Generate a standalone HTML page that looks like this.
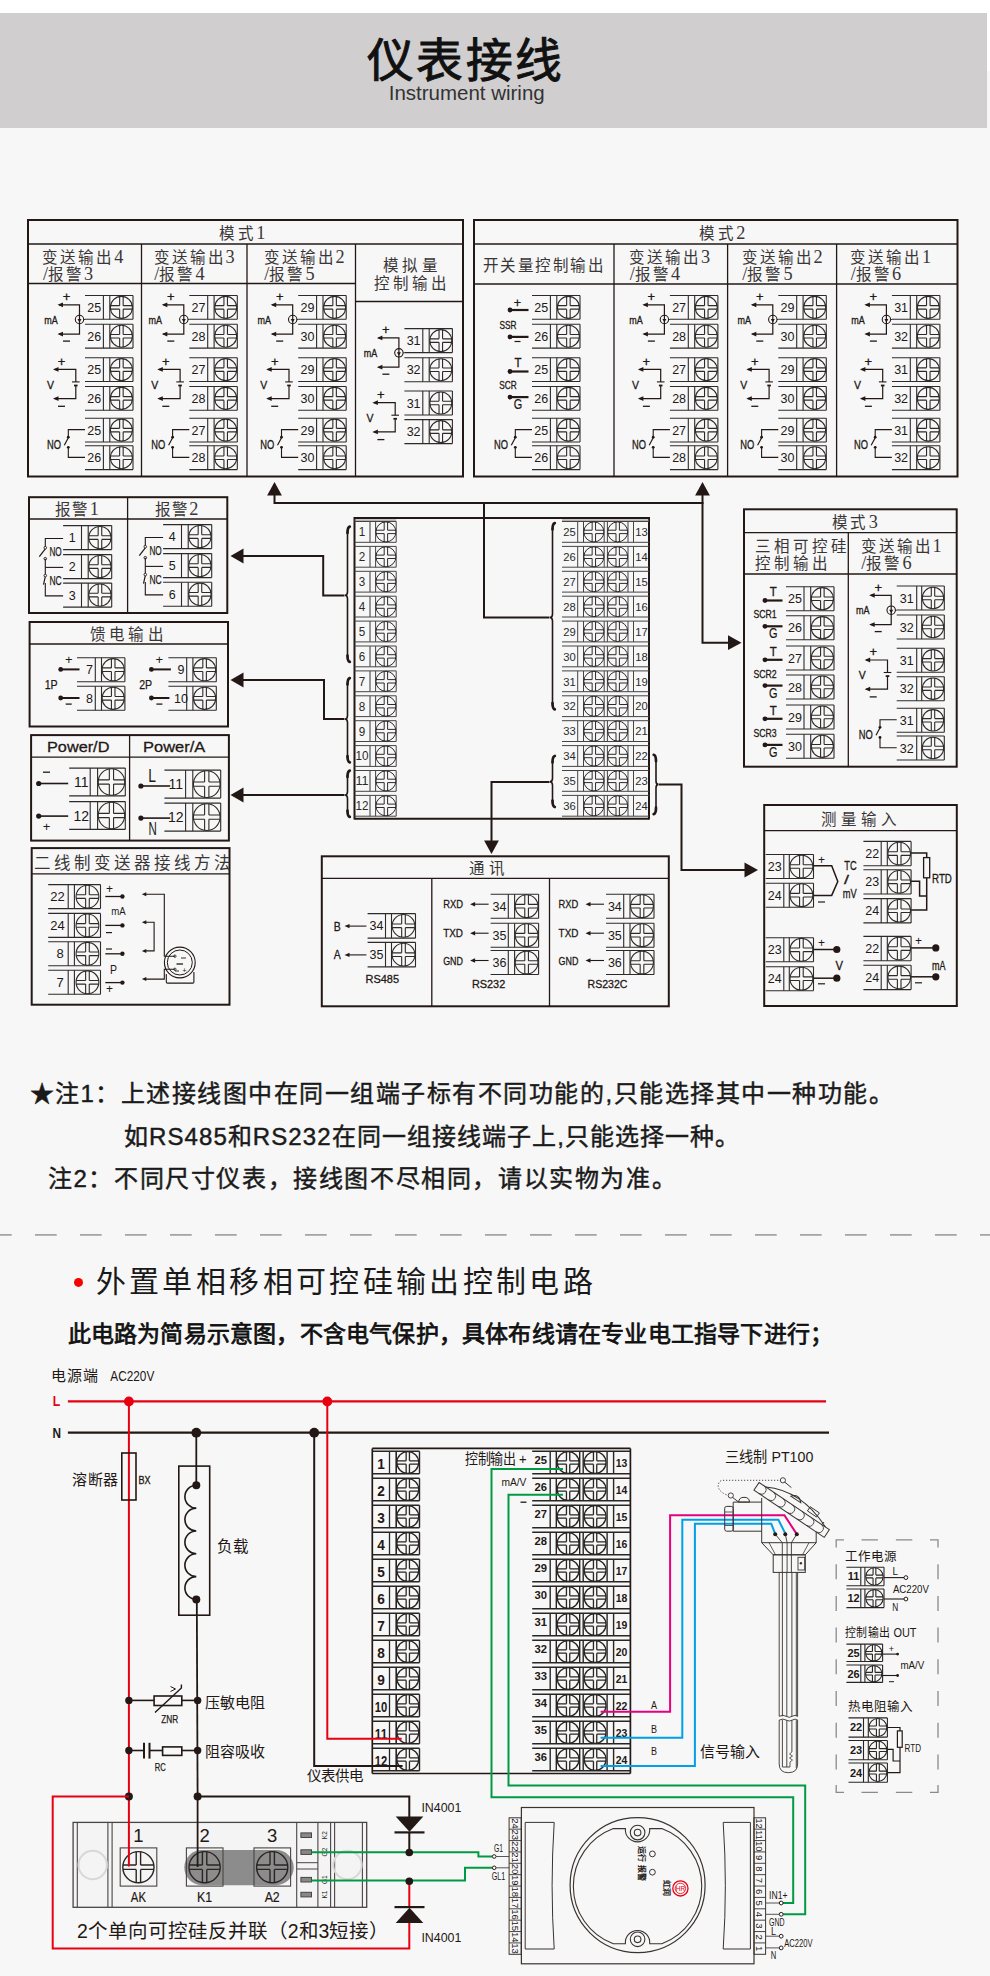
<!DOCTYPE html>
<html lang="zh-CN"><head><meta charset="utf-8"><title>仪表接线</title>
<style>
html,body{margin:0;padding:0;}
body{width:990px;height:1976px;background:#f7f7f7;position:relative;overflow:hidden;font-family:'Liberation Sans',sans-serif;}
svg{position:absolute;left:0;top:0;}
</style></head>
<body>
<svg width="990" height="1976" viewBox="0 0 990 1976">
<rect x="0" y="0" width="990" height="13" fill="#ffffff"/>
<rect x="987" y="0" width="3" height="71" fill="#ffffff"/>
<rect x="0" y="13" width="987" height="115" fill="#d0cecf"/>
<text x="465.8" y="76.7" font-size="46.7" text-anchor="middle" font-weight="500" letter-spacing="2.4" fill="#111111" style="font-family:'Liberation Sans',sans-serif" stroke="#111111" stroke-width="1">仪表接线</text>
<text x="466.7" y="99.5" font-size="20" text-anchor="middle" textLength="156" lengthAdjust="spacingAndGlyphs" fill="#333333" style="font-family:'Liberation Sans',sans-serif">Instrument wiring</text>
<rect x="28" y="220" width="435" height="256.5" fill="none" stroke="#231815" stroke-width="2"/>
<line x1="28" y1="244" x2="463" y2="244" stroke="#231815" stroke-width="1.3"/>
<line x1="28" y1="283.5" x2="355.5" y2="283.5" stroke="#231815" stroke-width="1.3"/>
<line x1="355.5" y1="301.5" x2="463" y2="301.5" stroke="#231815" stroke-width="1.3"/>
<line x1="141.5" y1="244" x2="141.5" y2="476.5" stroke="#231815" stroke-width="1.3"/>
<line x1="247" y1="244" x2="247" y2="476.5" stroke="#231815" stroke-width="1.3"/>
<line x1="355.5" y1="244" x2="355.5" y2="476.5" stroke="#231815" stroke-width="1.3"/>
<text x="242.4" y="239" font-size="15.5" text-anchor="middle" font-weight="300" letter-spacing="2.4" fill="#3a3636" style="font-family:'Liberation Serif',serif">模式<tspan font-size="18.29" letter-spacing="0">1</tspan></text>
<text x="42.2" y="262.5" font-size="15.5" font-weight="300" letter-spacing="2" fill="#3a3636" style="font-family:'Liberation Serif',serif">变送输出<tspan font-size="18.29" letter-spacing="0">4</tspan></text>
<text x="43" y="279.5" font-size="15.5" font-weight="300" letter-spacing="2" fill="#3a3636" style="font-family:'Liberation Serif',serif"><tspan font-size="18.29" letter-spacing="0">/</tspan>报警<tspan font-size="18.29" letter-spacing="0">3</tspan></text>
<text x="153.5" y="262.5" font-size="15.5" font-weight="300" letter-spacing="2" fill="#3a3636" style="font-family:'Liberation Serif',serif">变送输出<tspan font-size="18.29" letter-spacing="0">3</tspan></text>
<text x="154.3" y="279.5" font-size="15.5" font-weight="300" letter-spacing="2" fill="#3a3636" style="font-family:'Liberation Serif',serif"><tspan font-size="18.29" letter-spacing="0">/</tspan>报警<tspan font-size="18.29" letter-spacing="0">4</tspan></text>
<text x="263.5" y="262.5" font-size="15.5" font-weight="300" letter-spacing="2" fill="#3a3636" style="font-family:'Liberation Serif',serif">变送输出<tspan font-size="18.29" letter-spacing="0">2</tspan></text>
<text x="264.3" y="279.5" font-size="15.5" font-weight="300" letter-spacing="2" fill="#3a3636" style="font-family:'Liberation Serif',serif"><tspan font-size="18.29" letter-spacing="0">/</tspan>报警<tspan font-size="18.29" letter-spacing="0">5</tspan></text>
<text x="383" y="271.3" font-size="15.5" font-weight="300" letter-spacing="3.4" fill="#3a3636" style="font-family:'Liberation Serif',serif">模拟量</text>
<text x="373.6" y="288.6" font-size="15.5" font-weight="300" letter-spacing="3" fill="#3a3636" style="font-family:'Liberation Serif',serif">控制输出</text>
<line x1="85" y1="295.5" x2="133" y2="295.5" stroke="#2e2a29" stroke-width="1.1"/>
<line x1="85" y1="319.3" x2="133" y2="319.3" stroke="#2e2a29" stroke-width="1.1"/>
<line x1="103.4" y1="295.5" x2="103.4" y2="319.3" stroke="#2e2a29" stroke-width="1.1"/>
<line x1="109.8" y1="295.5" x2="109.8" y2="319.3" stroke="#2e2a29" stroke-width="1.1"/>
<line x1="133" y1="295.5" x2="133" y2="319.3" stroke="#2e2a29" stroke-width="1.1"/>
<circle cx="121.4" cy="307.4" r="11" fill="none" stroke="#2e2a29" stroke-width="1.1"/>
<path d="M119.64,296.54V305.64M119.64,309.16V318.26M123.16,296.54V305.64M123.16,309.16V318.26M110.54,305.64H119.64M123.16,305.64H132.26M110.54,309.16H119.64M123.16,309.16H132.26" fill="none" stroke="#2e2a29" stroke-width="1.1"/>
<text x="94.2" y="311.9" font-size="12.5" text-anchor="middle" fill="#231815" style="font-family:'Liberation Sans',sans-serif">25</text>
<line x1="85" y1="324.3" x2="133" y2="324.3" stroke="#2e2a29" stroke-width="1.1"/>
<line x1="85" y1="348.1" x2="133" y2="348.1" stroke="#2e2a29" stroke-width="1.1"/>
<line x1="103.4" y1="324.3" x2="103.4" y2="348.1" stroke="#2e2a29" stroke-width="1.1"/>
<line x1="109.8" y1="324.3" x2="109.8" y2="348.1" stroke="#2e2a29" stroke-width="1.1"/>
<line x1="133" y1="324.3" x2="133" y2="348.1" stroke="#2e2a29" stroke-width="1.1"/>
<circle cx="121.4" cy="336.2" r="11" fill="none" stroke="#2e2a29" stroke-width="1.1"/>
<path d="M119.64,325.34V334.44M119.64,337.96V347.06M123.16,325.34V334.44M123.16,337.96V347.06M110.54,334.44H119.64M123.16,334.44H132.26M110.54,337.96H119.64M123.16,337.96H132.26" fill="none" stroke="#2e2a29" stroke-width="1.1"/>
<text x="94.2" y="340.7" font-size="12.5" text-anchor="middle" fill="#231815" style="font-family:'Liberation Sans',sans-serif">26</text>
<line x1="85" y1="357.7" x2="133" y2="357.7" stroke="#2e2a29" stroke-width="1.1"/>
<line x1="85" y1="381.5" x2="133" y2="381.5" stroke="#2e2a29" stroke-width="1.1"/>
<line x1="103.4" y1="357.7" x2="103.4" y2="381.5" stroke="#2e2a29" stroke-width="1.1"/>
<line x1="109.8" y1="357.7" x2="109.8" y2="381.5" stroke="#2e2a29" stroke-width="1.1"/>
<line x1="133" y1="357.7" x2="133" y2="381.5" stroke="#2e2a29" stroke-width="1.1"/>
<circle cx="121.4" cy="369.6" r="11" fill="none" stroke="#2e2a29" stroke-width="1.1"/>
<path d="M119.64,358.74V367.84M119.64,371.36V380.46M123.16,358.74V367.84M123.16,371.36V380.46M110.54,367.84H119.64M123.16,367.84H132.26M110.54,371.36H119.64M123.16,371.36H132.26" fill="none" stroke="#2e2a29" stroke-width="1.1"/>
<text x="94.2" y="374.1" font-size="12.5" text-anchor="middle" fill="#231815" style="font-family:'Liberation Sans',sans-serif">25</text>
<line x1="85" y1="386.5" x2="133" y2="386.5" stroke="#2e2a29" stroke-width="1.1"/>
<line x1="85" y1="410.3" x2="133" y2="410.3" stroke="#2e2a29" stroke-width="1.1"/>
<line x1="103.4" y1="386.5" x2="103.4" y2="410.3" stroke="#2e2a29" stroke-width="1.1"/>
<line x1="109.8" y1="386.5" x2="109.8" y2="410.3" stroke="#2e2a29" stroke-width="1.1"/>
<line x1="133" y1="386.5" x2="133" y2="410.3" stroke="#2e2a29" stroke-width="1.1"/>
<circle cx="121.4" cy="398.4" r="11" fill="none" stroke="#2e2a29" stroke-width="1.1"/>
<path d="M119.64,387.54V396.64M119.64,400.16V409.26M123.16,387.54V396.64M123.16,400.16V409.26M110.54,396.64H119.64M123.16,396.64H132.26M110.54,400.16H119.64M123.16,400.16H132.26" fill="none" stroke="#2e2a29" stroke-width="1.1"/>
<text x="94.2" y="402.9" font-size="12.5" text-anchor="middle" fill="#231815" style="font-family:'Liberation Sans',sans-serif">26</text>
<line x1="85" y1="418.2" x2="133" y2="418.2" stroke="#2e2a29" stroke-width="1.1"/>
<line x1="85" y1="442" x2="133" y2="442" stroke="#2e2a29" stroke-width="1.1"/>
<line x1="103.4" y1="418.2" x2="103.4" y2="442" stroke="#2e2a29" stroke-width="1.1"/>
<line x1="109.8" y1="418.2" x2="109.8" y2="442" stroke="#2e2a29" stroke-width="1.1"/>
<line x1="133" y1="418.2" x2="133" y2="442" stroke="#2e2a29" stroke-width="1.1"/>
<circle cx="121.4" cy="430.1" r="11" fill="none" stroke="#2e2a29" stroke-width="1.1"/>
<path d="M119.64,419.24V428.34M119.64,431.86V440.96M123.16,419.24V428.34M123.16,431.86V440.96M110.54,428.34H119.64M123.16,428.34H132.26M110.54,431.86H119.64M123.16,431.86H132.26" fill="none" stroke="#2e2a29" stroke-width="1.1"/>
<text x="94.2" y="434.6" font-size="12.5" text-anchor="middle" fill="#231815" style="font-family:'Liberation Sans',sans-serif">25</text>
<line x1="85" y1="445.8" x2="133" y2="445.8" stroke="#2e2a29" stroke-width="1.1"/>
<line x1="85" y1="469.6" x2="133" y2="469.6" stroke="#2e2a29" stroke-width="1.1"/>
<line x1="103.4" y1="445.8" x2="103.4" y2="469.6" stroke="#2e2a29" stroke-width="1.1"/>
<line x1="109.8" y1="445.8" x2="109.8" y2="469.6" stroke="#2e2a29" stroke-width="1.1"/>
<line x1="133" y1="445.8" x2="133" y2="469.6" stroke="#2e2a29" stroke-width="1.1"/>
<circle cx="121.4" cy="457.7" r="11" fill="none" stroke="#2e2a29" stroke-width="1.1"/>
<path d="M119.64,446.84V455.94M119.64,459.46V468.56M123.16,446.84V455.94M123.16,459.46V468.56M110.54,455.94H119.64M123.16,455.94H132.26M110.54,459.46H119.64M123.16,459.46H132.26" fill="none" stroke="#2e2a29" stroke-width="1.1"/>
<text x="94.2" y="462.2" font-size="12.5" text-anchor="middle" fill="#231815" style="font-family:'Liberation Sans',sans-serif">26</text>
<polyline points="59,304.8 79.5,304.8 79.5,334.1 59,334.1" fill="none" stroke="#231815" stroke-width="1.2"/>
<polygon points="57.5,304.8 63,302.4 63,307.2" fill="#231815" stroke="none" stroke-width="1"/>
<polygon points="57.5,334.1 63,331.7 63,336.5" fill="#231815" stroke="none" stroke-width="1"/>
<circle cx="79.5" cy="319.5" r="4.2" fill="none" stroke="#231815" stroke-width="1.1"/>
<polygon points="79.5,322.5 77.5,319 81.5,319" fill="#231815" stroke="none" stroke-width="1"/>
<line x1="83.7" y1="319.5" x2="85" y2="319.5" stroke="#2e2a29" stroke-width="1.1"/>
<text x="66.5" y="301" font-size="13" text-anchor="middle" fill="#231815" style="font-family:'Liberation Sans',sans-serif" stroke="#231815" stroke-width="0.3">+</text>
<line x1="63" y1="341.1" x2="70" y2="341.1" stroke="#231815" stroke-width="1.3"/>
<text x="51" y="323.5" font-size="10.5" text-anchor="middle" textLength="13.5" lengthAdjust="spacingAndGlyphs" fill="#231815" style="font-family:'Liberation Sans',sans-serif" stroke="#231815" stroke-width="0.3">mA</text>
<polyline points="54.5,369.4 75.8,369.4 75.8,381.9" fill="none" stroke="#231815" stroke-width="1.2"/>
<polyline points="75.8,385.9 75.8,398.6 54.5,398.6" fill="none" stroke="#231815" stroke-width="1.2"/>
<polygon points="53,369.4 58.5,367 58.5,371.8" fill="#231815" stroke="none" stroke-width="1"/>
<polygon points="53,398.6 58.5,396.2 58.5,401" fill="#231815" stroke="none" stroke-width="1"/>
<line x1="72" y1="381.9" x2="79.6" y2="381.9" stroke="#231815" stroke-width="1.1"/>
<line x1="74" y1="385.5" x2="77.6" y2="385.5" stroke="#231815" stroke-width="1.8"/>
<text x="61.5" y="365.7" font-size="13" text-anchor="middle" fill="#231815" style="font-family:'Liberation Sans',sans-serif" stroke="#231815" stroke-width="0.3">+</text>
<line x1="58" y1="406.3" x2="65" y2="406.3" stroke="#231815" stroke-width="1.3"/>
<text x="50.5" y="388.7" font-size="11.5" text-anchor="middle" textLength="7" lengthAdjust="spacingAndGlyphs" fill="#231815" style="font-family:'Liberation Sans',sans-serif" stroke="#231815" stroke-width="0.3">V</text>
<polyline points="85,429.6 68.3,429.6 68.3,437.2" fill="none" stroke="#231815" stroke-width="1.1"/>
<circle cx="68.3" cy="437.2" r="1.4" fill="#231815"/>
<line x1="64.3" y1="445.2" x2="68.3" y2="437.7" stroke="#231815" stroke-width="1.2"/>
<circle cx="68.3" cy="447.3" r="1.4" fill="#231815"/>
<polyline points="68.3,447.3 68.3,457.4 85,457.4" fill="none" stroke="#231815" stroke-width="1.1"/>
<text x="54" y="448.8" font-size="12" text-anchor="middle" textLength="14" lengthAdjust="spacingAndGlyphs" fill="#231815" style="font-family:'Liberation Sans',sans-serif" stroke="#231815" stroke-width="0.3">NO</text>
<line x1="189.3" y1="295.5" x2="237.3" y2="295.5" stroke="#2e2a29" stroke-width="1.1"/>
<line x1="189.3" y1="319.3" x2="237.3" y2="319.3" stroke="#2e2a29" stroke-width="1.1"/>
<line x1="207.7" y1="295.5" x2="207.7" y2="319.3" stroke="#2e2a29" stroke-width="1.1"/>
<line x1="214.1" y1="295.5" x2="214.1" y2="319.3" stroke="#2e2a29" stroke-width="1.1"/>
<line x1="237.3" y1="295.5" x2="237.3" y2="319.3" stroke="#2e2a29" stroke-width="1.1"/>
<circle cx="225.7" cy="307.4" r="11" fill="none" stroke="#2e2a29" stroke-width="1.1"/>
<path d="M223.94,296.54V305.64M223.94,309.16V318.26M227.46,296.54V305.64M227.46,309.16V318.26M214.84,305.64H223.94M227.46,305.64H236.56M214.84,309.16H223.94M227.46,309.16H236.56" fill="none" stroke="#2e2a29" stroke-width="1.1"/>
<text x="198.5" y="311.9" font-size="12.5" text-anchor="middle" fill="#231815" style="font-family:'Liberation Sans',sans-serif">27</text>
<line x1="189.3" y1="324.3" x2="237.3" y2="324.3" stroke="#2e2a29" stroke-width="1.1"/>
<line x1="189.3" y1="348.1" x2="237.3" y2="348.1" stroke="#2e2a29" stroke-width="1.1"/>
<line x1="207.7" y1="324.3" x2="207.7" y2="348.1" stroke="#2e2a29" stroke-width="1.1"/>
<line x1="214.1" y1="324.3" x2="214.1" y2="348.1" stroke="#2e2a29" stroke-width="1.1"/>
<line x1="237.3" y1="324.3" x2="237.3" y2="348.1" stroke="#2e2a29" stroke-width="1.1"/>
<circle cx="225.7" cy="336.2" r="11" fill="none" stroke="#2e2a29" stroke-width="1.1"/>
<path d="M223.94,325.34V334.44M223.94,337.96V347.06M227.46,325.34V334.44M227.46,337.96V347.06M214.84,334.44H223.94M227.46,334.44H236.56M214.84,337.96H223.94M227.46,337.96H236.56" fill="none" stroke="#2e2a29" stroke-width="1.1"/>
<text x="198.5" y="340.7" font-size="12.5" text-anchor="middle" fill="#231815" style="font-family:'Liberation Sans',sans-serif">28</text>
<line x1="189.3" y1="357.7" x2="237.3" y2="357.7" stroke="#2e2a29" stroke-width="1.1"/>
<line x1="189.3" y1="381.5" x2="237.3" y2="381.5" stroke="#2e2a29" stroke-width="1.1"/>
<line x1="207.7" y1="357.7" x2="207.7" y2="381.5" stroke="#2e2a29" stroke-width="1.1"/>
<line x1="214.1" y1="357.7" x2="214.1" y2="381.5" stroke="#2e2a29" stroke-width="1.1"/>
<line x1="237.3" y1="357.7" x2="237.3" y2="381.5" stroke="#2e2a29" stroke-width="1.1"/>
<circle cx="225.7" cy="369.6" r="11" fill="none" stroke="#2e2a29" stroke-width="1.1"/>
<path d="M223.94,358.74V367.84M223.94,371.36V380.46M227.46,358.74V367.84M227.46,371.36V380.46M214.84,367.84H223.94M227.46,367.84H236.56M214.84,371.36H223.94M227.46,371.36H236.56" fill="none" stroke="#2e2a29" stroke-width="1.1"/>
<text x="198.5" y="374.1" font-size="12.5" text-anchor="middle" fill="#231815" style="font-family:'Liberation Sans',sans-serif">27</text>
<line x1="189.3" y1="386.5" x2="237.3" y2="386.5" stroke="#2e2a29" stroke-width="1.1"/>
<line x1="189.3" y1="410.3" x2="237.3" y2="410.3" stroke="#2e2a29" stroke-width="1.1"/>
<line x1="207.7" y1="386.5" x2="207.7" y2="410.3" stroke="#2e2a29" stroke-width="1.1"/>
<line x1="214.1" y1="386.5" x2="214.1" y2="410.3" stroke="#2e2a29" stroke-width="1.1"/>
<line x1="237.3" y1="386.5" x2="237.3" y2="410.3" stroke="#2e2a29" stroke-width="1.1"/>
<circle cx="225.7" cy="398.4" r="11" fill="none" stroke="#2e2a29" stroke-width="1.1"/>
<path d="M223.94,387.54V396.64M223.94,400.16V409.26M227.46,387.54V396.64M227.46,400.16V409.26M214.84,396.64H223.94M227.46,396.64H236.56M214.84,400.16H223.94M227.46,400.16H236.56" fill="none" stroke="#2e2a29" stroke-width="1.1"/>
<text x="198.5" y="402.9" font-size="12.5" text-anchor="middle" fill="#231815" style="font-family:'Liberation Sans',sans-serif">28</text>
<line x1="189.3" y1="418.2" x2="237.3" y2="418.2" stroke="#2e2a29" stroke-width="1.1"/>
<line x1="189.3" y1="442" x2="237.3" y2="442" stroke="#2e2a29" stroke-width="1.1"/>
<line x1="207.7" y1="418.2" x2="207.7" y2="442" stroke="#2e2a29" stroke-width="1.1"/>
<line x1="214.1" y1="418.2" x2="214.1" y2="442" stroke="#2e2a29" stroke-width="1.1"/>
<line x1="237.3" y1="418.2" x2="237.3" y2="442" stroke="#2e2a29" stroke-width="1.1"/>
<circle cx="225.7" cy="430.1" r="11" fill="none" stroke="#2e2a29" stroke-width="1.1"/>
<path d="M223.94,419.24V428.34M223.94,431.86V440.96M227.46,419.24V428.34M227.46,431.86V440.96M214.84,428.34H223.94M227.46,428.34H236.56M214.84,431.86H223.94M227.46,431.86H236.56" fill="none" stroke="#2e2a29" stroke-width="1.1"/>
<text x="198.5" y="434.6" font-size="12.5" text-anchor="middle" fill="#231815" style="font-family:'Liberation Sans',sans-serif">27</text>
<line x1="189.3" y1="445.8" x2="237.3" y2="445.8" stroke="#2e2a29" stroke-width="1.1"/>
<line x1="189.3" y1="469.6" x2="237.3" y2="469.6" stroke="#2e2a29" stroke-width="1.1"/>
<line x1="207.7" y1="445.8" x2="207.7" y2="469.6" stroke="#2e2a29" stroke-width="1.1"/>
<line x1="214.1" y1="445.8" x2="214.1" y2="469.6" stroke="#2e2a29" stroke-width="1.1"/>
<line x1="237.3" y1="445.8" x2="237.3" y2="469.6" stroke="#2e2a29" stroke-width="1.1"/>
<circle cx="225.7" cy="457.7" r="11" fill="none" stroke="#2e2a29" stroke-width="1.1"/>
<path d="M223.94,446.84V455.94M223.94,459.46V468.56M227.46,446.84V455.94M227.46,459.46V468.56M214.84,455.94H223.94M227.46,455.94H236.56M214.84,459.46H223.94M227.46,459.46H236.56" fill="none" stroke="#2e2a29" stroke-width="1.1"/>
<text x="198.5" y="462.2" font-size="12.5" text-anchor="middle" fill="#231815" style="font-family:'Liberation Sans',sans-serif">28</text>
<polyline points="163.3,304.8 183.8,304.8 183.8,334.1 163.3,334.1" fill="none" stroke="#231815" stroke-width="1.2"/>
<polygon points="161.8,304.8 167.3,302.4 167.3,307.2" fill="#231815" stroke="none" stroke-width="1"/>
<polygon points="161.8,334.1 167.3,331.7 167.3,336.5" fill="#231815" stroke="none" stroke-width="1"/>
<circle cx="183.8" cy="319.5" r="4.2" fill="none" stroke="#231815" stroke-width="1.1"/>
<polygon points="183.8,322.5 181.8,319 185.8,319" fill="#231815" stroke="none" stroke-width="1"/>
<line x1="188" y1="319.5" x2="189.3" y2="319.5" stroke="#2e2a29" stroke-width="1.1"/>
<text x="170.8" y="301" font-size="13" text-anchor="middle" fill="#231815" style="font-family:'Liberation Sans',sans-serif" stroke="#231815" stroke-width="0.3">+</text>
<line x1="167.3" y1="341.1" x2="174.3" y2="341.1" stroke="#231815" stroke-width="1.3"/>
<text x="155.3" y="323.5" font-size="10.5" text-anchor="middle" textLength="13.5" lengthAdjust="spacingAndGlyphs" fill="#231815" style="font-family:'Liberation Sans',sans-serif" stroke="#231815" stroke-width="0.3">mA</text>
<polyline points="158.8,369.4 180.1,369.4 180.1,381.9" fill="none" stroke="#231815" stroke-width="1.2"/>
<polyline points="180.1,385.9 180.1,398.6 158.8,398.6" fill="none" stroke="#231815" stroke-width="1.2"/>
<polygon points="157.3,369.4 162.8,367 162.8,371.8" fill="#231815" stroke="none" stroke-width="1"/>
<polygon points="157.3,398.6 162.8,396.2 162.8,401" fill="#231815" stroke="none" stroke-width="1"/>
<line x1="176.3" y1="381.9" x2="183.9" y2="381.9" stroke="#231815" stroke-width="1.1"/>
<line x1="178.3" y1="385.5" x2="181.9" y2="385.5" stroke="#231815" stroke-width="1.8"/>
<text x="165.8" y="365.7" font-size="13" text-anchor="middle" fill="#231815" style="font-family:'Liberation Sans',sans-serif" stroke="#231815" stroke-width="0.3">+</text>
<line x1="162.3" y1="406.3" x2="169.3" y2="406.3" stroke="#231815" stroke-width="1.3"/>
<text x="154.8" y="388.7" font-size="11.5" text-anchor="middle" textLength="7" lengthAdjust="spacingAndGlyphs" fill="#231815" style="font-family:'Liberation Sans',sans-serif" stroke="#231815" stroke-width="0.3">V</text>
<polyline points="189.3,429.6 172.6,429.6 172.6,437.2" fill="none" stroke="#231815" stroke-width="1.1"/>
<circle cx="172.6" cy="437.2" r="1.4" fill="#231815"/>
<line x1="168.6" y1="445.2" x2="172.6" y2="437.7" stroke="#231815" stroke-width="1.2"/>
<circle cx="172.6" cy="447.3" r="1.4" fill="#231815"/>
<polyline points="172.6,447.3 172.6,457.4 189.3,457.4" fill="none" stroke="#231815" stroke-width="1.1"/>
<text x="158.3" y="448.8" font-size="12" text-anchor="middle" textLength="14" lengthAdjust="spacingAndGlyphs" fill="#231815" style="font-family:'Liberation Sans',sans-serif" stroke="#231815" stroke-width="0.3">NO</text>
<line x1="298.2" y1="295.5" x2="346.2" y2="295.5" stroke="#2e2a29" stroke-width="1.1"/>
<line x1="298.2" y1="319.3" x2="346.2" y2="319.3" stroke="#2e2a29" stroke-width="1.1"/>
<line x1="316.6" y1="295.5" x2="316.6" y2="319.3" stroke="#2e2a29" stroke-width="1.1"/>
<line x1="323" y1="295.5" x2="323" y2="319.3" stroke="#2e2a29" stroke-width="1.1"/>
<line x1="346.2" y1="295.5" x2="346.2" y2="319.3" stroke="#2e2a29" stroke-width="1.1"/>
<circle cx="334.6" cy="307.4" r="11" fill="none" stroke="#2e2a29" stroke-width="1.1"/>
<path d="M332.84,296.54V305.64M332.84,309.16V318.26M336.36,296.54V305.64M336.36,309.16V318.26M323.74,305.64H332.84M336.36,305.64H345.46M323.74,309.16H332.84M336.36,309.16H345.46" fill="none" stroke="#2e2a29" stroke-width="1.1"/>
<text x="307.4" y="311.9" font-size="12.5" text-anchor="middle" fill="#231815" style="font-family:'Liberation Sans',sans-serif">29</text>
<line x1="298.2" y1="324.3" x2="346.2" y2="324.3" stroke="#2e2a29" stroke-width="1.1"/>
<line x1="298.2" y1="348.1" x2="346.2" y2="348.1" stroke="#2e2a29" stroke-width="1.1"/>
<line x1="316.6" y1="324.3" x2="316.6" y2="348.1" stroke="#2e2a29" stroke-width="1.1"/>
<line x1="323" y1="324.3" x2="323" y2="348.1" stroke="#2e2a29" stroke-width="1.1"/>
<line x1="346.2" y1="324.3" x2="346.2" y2="348.1" stroke="#2e2a29" stroke-width="1.1"/>
<circle cx="334.6" cy="336.2" r="11" fill="none" stroke="#2e2a29" stroke-width="1.1"/>
<path d="M332.84,325.34V334.44M332.84,337.96V347.06M336.36,325.34V334.44M336.36,337.96V347.06M323.74,334.44H332.84M336.36,334.44H345.46M323.74,337.96H332.84M336.36,337.96H345.46" fill="none" stroke="#2e2a29" stroke-width="1.1"/>
<text x="307.4" y="340.7" font-size="12.5" text-anchor="middle" fill="#231815" style="font-family:'Liberation Sans',sans-serif">30</text>
<line x1="298.2" y1="357.7" x2="346.2" y2="357.7" stroke="#2e2a29" stroke-width="1.1"/>
<line x1="298.2" y1="381.5" x2="346.2" y2="381.5" stroke="#2e2a29" stroke-width="1.1"/>
<line x1="316.6" y1="357.7" x2="316.6" y2="381.5" stroke="#2e2a29" stroke-width="1.1"/>
<line x1="323" y1="357.7" x2="323" y2="381.5" stroke="#2e2a29" stroke-width="1.1"/>
<line x1="346.2" y1="357.7" x2="346.2" y2="381.5" stroke="#2e2a29" stroke-width="1.1"/>
<circle cx="334.6" cy="369.6" r="11" fill="none" stroke="#2e2a29" stroke-width="1.1"/>
<path d="M332.84,358.74V367.84M332.84,371.36V380.46M336.36,358.74V367.84M336.36,371.36V380.46M323.74,367.84H332.84M336.36,367.84H345.46M323.74,371.36H332.84M336.36,371.36H345.46" fill="none" stroke="#2e2a29" stroke-width="1.1"/>
<text x="307.4" y="374.1" font-size="12.5" text-anchor="middle" fill="#231815" style="font-family:'Liberation Sans',sans-serif">29</text>
<line x1="298.2" y1="386.5" x2="346.2" y2="386.5" stroke="#2e2a29" stroke-width="1.1"/>
<line x1="298.2" y1="410.3" x2="346.2" y2="410.3" stroke="#2e2a29" stroke-width="1.1"/>
<line x1="316.6" y1="386.5" x2="316.6" y2="410.3" stroke="#2e2a29" stroke-width="1.1"/>
<line x1="323" y1="386.5" x2="323" y2="410.3" stroke="#2e2a29" stroke-width="1.1"/>
<line x1="346.2" y1="386.5" x2="346.2" y2="410.3" stroke="#2e2a29" stroke-width="1.1"/>
<circle cx="334.6" cy="398.4" r="11" fill="none" stroke="#2e2a29" stroke-width="1.1"/>
<path d="M332.84,387.54V396.64M332.84,400.16V409.26M336.36,387.54V396.64M336.36,400.16V409.26M323.74,396.64H332.84M336.36,396.64H345.46M323.74,400.16H332.84M336.36,400.16H345.46" fill="none" stroke="#2e2a29" stroke-width="1.1"/>
<text x="307.4" y="402.9" font-size="12.5" text-anchor="middle" fill="#231815" style="font-family:'Liberation Sans',sans-serif">30</text>
<line x1="298.2" y1="418.2" x2="346.2" y2="418.2" stroke="#2e2a29" stroke-width="1.1"/>
<line x1="298.2" y1="442" x2="346.2" y2="442" stroke="#2e2a29" stroke-width="1.1"/>
<line x1="316.6" y1="418.2" x2="316.6" y2="442" stroke="#2e2a29" stroke-width="1.1"/>
<line x1="323" y1="418.2" x2="323" y2="442" stroke="#2e2a29" stroke-width="1.1"/>
<line x1="346.2" y1="418.2" x2="346.2" y2="442" stroke="#2e2a29" stroke-width="1.1"/>
<circle cx="334.6" cy="430.1" r="11" fill="none" stroke="#2e2a29" stroke-width="1.1"/>
<path d="M332.84,419.24V428.34M332.84,431.86V440.96M336.36,419.24V428.34M336.36,431.86V440.96M323.74,428.34H332.84M336.36,428.34H345.46M323.74,431.86H332.84M336.36,431.86H345.46" fill="none" stroke="#2e2a29" stroke-width="1.1"/>
<text x="307.4" y="434.6" font-size="12.5" text-anchor="middle" fill="#231815" style="font-family:'Liberation Sans',sans-serif">29</text>
<line x1="298.2" y1="445.8" x2="346.2" y2="445.8" stroke="#2e2a29" stroke-width="1.1"/>
<line x1="298.2" y1="469.6" x2="346.2" y2="469.6" stroke="#2e2a29" stroke-width="1.1"/>
<line x1="316.6" y1="445.8" x2="316.6" y2="469.6" stroke="#2e2a29" stroke-width="1.1"/>
<line x1="323" y1="445.8" x2="323" y2="469.6" stroke="#2e2a29" stroke-width="1.1"/>
<line x1="346.2" y1="445.8" x2="346.2" y2="469.6" stroke="#2e2a29" stroke-width="1.1"/>
<circle cx="334.6" cy="457.7" r="11" fill="none" stroke="#2e2a29" stroke-width="1.1"/>
<path d="M332.84,446.84V455.94M332.84,459.46V468.56M336.36,446.84V455.94M336.36,459.46V468.56M323.74,455.94H332.84M336.36,455.94H345.46M323.74,459.46H332.84M336.36,459.46H345.46" fill="none" stroke="#2e2a29" stroke-width="1.1"/>
<text x="307.4" y="462.2" font-size="12.5" text-anchor="middle" fill="#231815" style="font-family:'Liberation Sans',sans-serif">30</text>
<polyline points="272.2,304.8 292.7,304.8 292.7,334.1 272.2,334.1" fill="none" stroke="#231815" stroke-width="1.2"/>
<polygon points="270.7,304.8 276.2,302.4 276.2,307.2" fill="#231815" stroke="none" stroke-width="1"/>
<polygon points="270.7,334.1 276.2,331.7 276.2,336.5" fill="#231815" stroke="none" stroke-width="1"/>
<circle cx="292.7" cy="319.5" r="4.2" fill="none" stroke="#231815" stroke-width="1.1"/>
<polygon points="292.7,322.5 290.7,319 294.7,319" fill="#231815" stroke="none" stroke-width="1"/>
<line x1="296.9" y1="319.5" x2="298.2" y2="319.5" stroke="#2e2a29" stroke-width="1.1"/>
<text x="279.7" y="301" font-size="13" text-anchor="middle" fill="#231815" style="font-family:'Liberation Sans',sans-serif" stroke="#231815" stroke-width="0.3">+</text>
<line x1="276.2" y1="341.1" x2="283.2" y2="341.1" stroke="#231815" stroke-width="1.3"/>
<text x="264.2" y="323.5" font-size="10.5" text-anchor="middle" textLength="13.5" lengthAdjust="spacingAndGlyphs" fill="#231815" style="font-family:'Liberation Sans',sans-serif" stroke="#231815" stroke-width="0.3">mA</text>
<polyline points="267.7,369.4 289,369.4 289,381.9" fill="none" stroke="#231815" stroke-width="1.2"/>
<polyline points="289,385.9 289,398.6 267.7,398.6" fill="none" stroke="#231815" stroke-width="1.2"/>
<polygon points="266.2,369.4 271.7,367 271.7,371.8" fill="#231815" stroke="none" stroke-width="1"/>
<polygon points="266.2,398.6 271.7,396.2 271.7,401" fill="#231815" stroke="none" stroke-width="1"/>
<line x1="285.2" y1="381.9" x2="292.8" y2="381.9" stroke="#231815" stroke-width="1.1"/>
<line x1="287.2" y1="385.5" x2="290.8" y2="385.5" stroke="#231815" stroke-width="1.8"/>
<text x="274.7" y="365.7" font-size="13" text-anchor="middle" fill="#231815" style="font-family:'Liberation Sans',sans-serif" stroke="#231815" stroke-width="0.3">+</text>
<line x1="271.2" y1="406.3" x2="278.2" y2="406.3" stroke="#231815" stroke-width="1.3"/>
<text x="263.7" y="388.7" font-size="11.5" text-anchor="middle" textLength="7" lengthAdjust="spacingAndGlyphs" fill="#231815" style="font-family:'Liberation Sans',sans-serif" stroke="#231815" stroke-width="0.3">V</text>
<polyline points="298.2,429.6 281.5,429.6 281.5,437.2" fill="none" stroke="#231815" stroke-width="1.1"/>
<circle cx="281.5" cy="437.2" r="1.4" fill="#231815"/>
<line x1="277.5" y1="445.2" x2="281.5" y2="437.7" stroke="#231815" stroke-width="1.2"/>
<circle cx="281.5" cy="447.3" r="1.4" fill="#231815"/>
<polyline points="281.5,447.3 281.5,457.4 298.2,457.4" fill="none" stroke="#231815" stroke-width="1.1"/>
<text x="267.2" y="448.8" font-size="12" text-anchor="middle" textLength="14" lengthAdjust="spacingAndGlyphs" fill="#231815" style="font-family:'Liberation Sans',sans-serif" stroke="#231815" stroke-width="0.3">NO</text>
<line x1="404.4" y1="328.6" x2="452.4" y2="328.6" stroke="#2e2a29" stroke-width="1.1"/>
<line x1="404.4" y1="352.6" x2="452.4" y2="352.6" stroke="#2e2a29" stroke-width="1.1"/>
<line x1="422.8" y1="328.6" x2="422.8" y2="352.6" stroke="#2e2a29" stroke-width="1.1"/>
<line x1="429.2" y1="328.6" x2="429.2" y2="352.6" stroke="#2e2a29" stroke-width="1.1"/>
<line x1="452.4" y1="328.6" x2="452.4" y2="352.6" stroke="#2e2a29" stroke-width="1.1"/>
<circle cx="440.8" cy="340.6" r="11" fill="none" stroke="#2e2a29" stroke-width="1.1"/>
<path d="M439.04,329.74V338.84M439.04,342.36V351.46M442.56,329.74V338.84M442.56,342.36V351.46M429.94,338.84H439.04M442.56,338.84H451.66M429.94,342.36H439.04M442.56,342.36H451.66" fill="none" stroke="#2e2a29" stroke-width="1.1"/>
<text x="413.6" y="345.1" font-size="12.5" text-anchor="middle" fill="#231815" style="font-family:'Liberation Sans',sans-serif">31</text>
<line x1="404.4" y1="357.7" x2="452.4" y2="357.7" stroke="#2e2a29" stroke-width="1.1"/>
<line x1="404.4" y1="381.7" x2="452.4" y2="381.7" stroke="#2e2a29" stroke-width="1.1"/>
<line x1="422.8" y1="357.7" x2="422.8" y2="381.7" stroke="#2e2a29" stroke-width="1.1"/>
<line x1="429.2" y1="357.7" x2="429.2" y2="381.7" stroke="#2e2a29" stroke-width="1.1"/>
<line x1="452.4" y1="357.7" x2="452.4" y2="381.7" stroke="#2e2a29" stroke-width="1.1"/>
<circle cx="440.8" cy="369.7" r="11" fill="none" stroke="#2e2a29" stroke-width="1.1"/>
<path d="M439.04,358.84V367.94M439.04,371.46V380.56M442.56,358.84V367.94M442.56,371.46V380.56M429.94,367.94H439.04M442.56,367.94H451.66M429.94,371.46H439.04M442.56,371.46H451.66" fill="none" stroke="#2e2a29" stroke-width="1.1"/>
<text x="413.6" y="374.2" font-size="12.5" text-anchor="middle" fill="#231815" style="font-family:'Liberation Sans',sans-serif">32</text>
<line x1="404.4" y1="391" x2="452.4" y2="391" stroke="#2e2a29" stroke-width="1.1"/>
<line x1="404.4" y1="415" x2="452.4" y2="415" stroke="#2e2a29" stroke-width="1.1"/>
<line x1="422.8" y1="391" x2="422.8" y2="415" stroke="#2e2a29" stroke-width="1.1"/>
<line x1="429.2" y1="391" x2="429.2" y2="415" stroke="#2e2a29" stroke-width="1.1"/>
<line x1="452.4" y1="391" x2="452.4" y2="415" stroke="#2e2a29" stroke-width="1.1"/>
<circle cx="440.8" cy="403" r="11" fill="none" stroke="#2e2a29" stroke-width="1.1"/>
<path d="M439.04,392.14V401.24M439.04,404.76V413.86M442.56,392.14V401.24M442.56,404.76V413.86M429.94,401.24H439.04M442.56,401.24H451.66M429.94,404.76H439.04M442.56,404.76H451.66" fill="none" stroke="#2e2a29" stroke-width="1.1"/>
<text x="413.6" y="407.5" font-size="12.5" text-anchor="middle" fill="#231815" style="font-family:'Liberation Sans',sans-serif">31</text>
<line x1="404.4" y1="419.6" x2="452.4" y2="419.6" stroke="#2e2a29" stroke-width="1.1"/>
<line x1="404.4" y1="443.6" x2="452.4" y2="443.6" stroke="#2e2a29" stroke-width="1.1"/>
<line x1="422.8" y1="419.6" x2="422.8" y2="443.6" stroke="#2e2a29" stroke-width="1.1"/>
<line x1="429.2" y1="419.6" x2="429.2" y2="443.6" stroke="#2e2a29" stroke-width="1.1"/>
<line x1="452.4" y1="419.6" x2="452.4" y2="443.6" stroke="#2e2a29" stroke-width="1.1"/>
<circle cx="440.8" cy="431.6" r="11" fill="none" stroke="#2e2a29" stroke-width="1.1"/>
<path d="M439.04,420.74V429.84M439.04,433.36V442.46M442.56,420.74V429.84M442.56,433.36V442.46M429.94,429.84H439.04M442.56,429.84H451.66M429.94,433.36H439.04M442.56,433.36H451.66" fill="none" stroke="#2e2a29" stroke-width="1.1"/>
<text x="413.6" y="436.1" font-size="12.5" text-anchor="middle" fill="#231815" style="font-family:'Liberation Sans',sans-serif">32</text>
<polyline points="378.4,337.9 398.9,337.9 398.9,367.2 378.4,367.2" fill="none" stroke="#231815" stroke-width="1.2"/>
<polygon points="376.9,337.9 382.4,335.5 382.4,340.3" fill="#231815" stroke="none" stroke-width="1"/>
<polygon points="376.9,367.2 382.4,364.8 382.4,369.6" fill="#231815" stroke="none" stroke-width="1"/>
<circle cx="398.9" cy="352.8" r="4.2" fill="none" stroke="#231815" stroke-width="1.1"/>
<polygon points="398.9,355.8 396.9,352.3 400.9,352.3" fill="#231815" stroke="none" stroke-width="1"/>
<line x1="403.1" y1="352.8" x2="404.4" y2="352.8" stroke="#2e2a29" stroke-width="1.1"/>
<text x="385.9" y="334.1" font-size="13" text-anchor="middle" fill="#231815" style="font-family:'Liberation Sans',sans-serif" stroke="#231815" stroke-width="0.3">+</text>
<line x1="382.4" y1="374.2" x2="389.4" y2="374.2" stroke="#231815" stroke-width="1.3"/>
<text x="370.4" y="356.6" font-size="10.5" text-anchor="middle" textLength="13.5" lengthAdjust="spacingAndGlyphs" fill="#231815" style="font-family:'Liberation Sans',sans-serif" stroke="#231815" stroke-width="0.3">mA</text>
<polyline points="373.9,402.7 395.2,402.7 395.2,415.2" fill="none" stroke="#231815" stroke-width="1.2"/>
<polyline points="395.2,419.2 395.2,431.9 373.9,431.9" fill="none" stroke="#231815" stroke-width="1.2"/>
<polygon points="372.4,402.7 377.9,400.3 377.9,405.1" fill="#231815" stroke="none" stroke-width="1"/>
<polygon points="372.4,431.9 377.9,429.5 377.9,434.3" fill="#231815" stroke="none" stroke-width="1"/>
<line x1="391.4" y1="415.2" x2="399" y2="415.2" stroke="#231815" stroke-width="1.1"/>
<line x1="393.4" y1="418.8" x2="397" y2="418.8" stroke="#231815" stroke-width="1.8"/>
<text x="380.9" y="399" font-size="13" text-anchor="middle" fill="#231815" style="font-family:'Liberation Sans',sans-serif" stroke="#231815" stroke-width="0.3">+</text>
<line x1="377.4" y1="439.6" x2="384.4" y2="439.6" stroke="#231815" stroke-width="1.3"/>
<text x="369.9" y="422" font-size="11.5" text-anchor="middle" textLength="7" lengthAdjust="spacingAndGlyphs" fill="#231815" style="font-family:'Liberation Sans',sans-serif" stroke="#231815" stroke-width="0.3">V</text>
<rect x="474" y="220" width="483.5" height="256.5" fill="none" stroke="#231815" stroke-width="2"/>
<line x1="474" y1="244" x2="957.5" y2="244" stroke="#231815" stroke-width="1.3"/>
<line x1="474" y1="284" x2="957.5" y2="284" stroke="#231815" stroke-width="1.3"/>
<line x1="614" y1="244" x2="614" y2="476.5" stroke="#231815" stroke-width="1.3"/>
<line x1="727.6" y1="244" x2="727.6" y2="476.5" stroke="#231815" stroke-width="1.3"/>
<line x1="836.6" y1="244" x2="836.6" y2="476.5" stroke="#231815" stroke-width="1.3"/>
<text x="722.3" y="239" font-size="15.5" text-anchor="middle" font-weight="300" letter-spacing="2.4" fill="#3a3636" style="font-family:'Liberation Serif',serif">模式<tspan font-size="18.29" letter-spacing="0">2</tspan></text>
<text x="482.5" y="271" font-size="15.5" font-weight="300" letter-spacing="1.6" fill="#3a3636" style="font-family:'Liberation Serif',serif">开关量控制输出</text>
<text x="629" y="262.5" font-size="15.5" font-weight="300" letter-spacing="2" fill="#3a3636" style="font-family:'Liberation Serif',serif">变送输出<tspan font-size="18.29" letter-spacing="0">3</tspan></text>
<text x="629.8" y="279.5" font-size="15.5" font-weight="300" letter-spacing="2" fill="#3a3636" style="font-family:'Liberation Serif',serif"><tspan font-size="18.29" letter-spacing="0">/</tspan>报警<tspan font-size="18.29" letter-spacing="0">4</tspan></text>
<text x="741.5" y="262.5" font-size="15.5" font-weight="300" letter-spacing="2" fill="#3a3636" style="font-family:'Liberation Serif',serif">变送输出<tspan font-size="18.29" letter-spacing="0">2</tspan></text>
<text x="742.3" y="279.5" font-size="15.5" font-weight="300" letter-spacing="2" fill="#3a3636" style="font-family:'Liberation Serif',serif"><tspan font-size="18.29" letter-spacing="0">/</tspan>报警<tspan font-size="18.29" letter-spacing="0">5</tspan></text>
<text x="850" y="262.5" font-size="15.5" font-weight="300" letter-spacing="2" fill="#3a3636" style="font-family:'Liberation Serif',serif">变送输出<tspan font-size="18.29" letter-spacing="0">1</tspan></text>
<text x="850.8" y="279.5" font-size="15.5" font-weight="300" letter-spacing="2" fill="#3a3636" style="font-family:'Liberation Serif',serif"><tspan font-size="18.29" letter-spacing="0">/</tspan>报警<tspan font-size="18.29" letter-spacing="0">6</tspan></text>
<line x1="532" y1="295.5" x2="580" y2="295.5" stroke="#2e2a29" stroke-width="1.1"/>
<line x1="532" y1="319.3" x2="580" y2="319.3" stroke="#2e2a29" stroke-width="1.1"/>
<line x1="550.4" y1="295.5" x2="550.4" y2="319.3" stroke="#2e2a29" stroke-width="1.1"/>
<line x1="556.8" y1="295.5" x2="556.8" y2="319.3" stroke="#2e2a29" stroke-width="1.1"/>
<line x1="580" y1="295.5" x2="580" y2="319.3" stroke="#2e2a29" stroke-width="1.1"/>
<circle cx="568.4" cy="307.4" r="11" fill="none" stroke="#2e2a29" stroke-width="1.1"/>
<path d="M566.64,296.54V305.64M566.64,309.16V318.26M570.16,296.54V305.64M570.16,309.16V318.26M557.54,305.64H566.64M570.16,305.64H579.26M557.54,309.16H566.64M570.16,309.16H579.26" fill="none" stroke="#2e2a29" stroke-width="1.1"/>
<text x="541.2" y="311.9" font-size="12.5" text-anchor="middle" fill="#231815" style="font-family:'Liberation Sans',sans-serif">25</text>
<line x1="532" y1="324.3" x2="580" y2="324.3" stroke="#2e2a29" stroke-width="1.1"/>
<line x1="532" y1="348.1" x2="580" y2="348.1" stroke="#2e2a29" stroke-width="1.1"/>
<line x1="550.4" y1="324.3" x2="550.4" y2="348.1" stroke="#2e2a29" stroke-width="1.1"/>
<line x1="556.8" y1="324.3" x2="556.8" y2="348.1" stroke="#2e2a29" stroke-width="1.1"/>
<line x1="580" y1="324.3" x2="580" y2="348.1" stroke="#2e2a29" stroke-width="1.1"/>
<circle cx="568.4" cy="336.2" r="11" fill="none" stroke="#2e2a29" stroke-width="1.1"/>
<path d="M566.64,325.34V334.44M566.64,337.96V347.06M570.16,325.34V334.44M570.16,337.96V347.06M557.54,334.44H566.64M570.16,334.44H579.26M557.54,337.96H566.64M570.16,337.96H579.26" fill="none" stroke="#2e2a29" stroke-width="1.1"/>
<text x="541.2" y="340.7" font-size="12.5" text-anchor="middle" fill="#231815" style="font-family:'Liberation Sans',sans-serif">26</text>
<line x1="532" y1="357.7" x2="580" y2="357.7" stroke="#2e2a29" stroke-width="1.1"/>
<line x1="532" y1="381.5" x2="580" y2="381.5" stroke="#2e2a29" stroke-width="1.1"/>
<line x1="550.4" y1="357.7" x2="550.4" y2="381.5" stroke="#2e2a29" stroke-width="1.1"/>
<line x1="556.8" y1="357.7" x2="556.8" y2="381.5" stroke="#2e2a29" stroke-width="1.1"/>
<line x1="580" y1="357.7" x2="580" y2="381.5" stroke="#2e2a29" stroke-width="1.1"/>
<circle cx="568.4" cy="369.6" r="11" fill="none" stroke="#2e2a29" stroke-width="1.1"/>
<path d="M566.64,358.74V367.84M566.64,371.36V380.46M570.16,358.74V367.84M570.16,371.36V380.46M557.54,367.84H566.64M570.16,367.84H579.26M557.54,371.36H566.64M570.16,371.36H579.26" fill="none" stroke="#2e2a29" stroke-width="1.1"/>
<text x="541.2" y="374.1" font-size="12.5" text-anchor="middle" fill="#231815" style="font-family:'Liberation Sans',sans-serif">25</text>
<line x1="532" y1="386.5" x2="580" y2="386.5" stroke="#2e2a29" stroke-width="1.1"/>
<line x1="532" y1="410.3" x2="580" y2="410.3" stroke="#2e2a29" stroke-width="1.1"/>
<line x1="550.4" y1="386.5" x2="550.4" y2="410.3" stroke="#2e2a29" stroke-width="1.1"/>
<line x1="556.8" y1="386.5" x2="556.8" y2="410.3" stroke="#2e2a29" stroke-width="1.1"/>
<line x1="580" y1="386.5" x2="580" y2="410.3" stroke="#2e2a29" stroke-width="1.1"/>
<circle cx="568.4" cy="398.4" r="11" fill="none" stroke="#2e2a29" stroke-width="1.1"/>
<path d="M566.64,387.54V396.64M566.64,400.16V409.26M570.16,387.54V396.64M570.16,400.16V409.26M557.54,396.64H566.64M570.16,396.64H579.26M557.54,400.16H566.64M570.16,400.16H579.26" fill="none" stroke="#2e2a29" stroke-width="1.1"/>
<text x="541.2" y="402.9" font-size="12.5" text-anchor="middle" fill="#231815" style="font-family:'Liberation Sans',sans-serif">26</text>
<line x1="532" y1="418.2" x2="580" y2="418.2" stroke="#2e2a29" stroke-width="1.1"/>
<line x1="532" y1="442" x2="580" y2="442" stroke="#2e2a29" stroke-width="1.1"/>
<line x1="550.4" y1="418.2" x2="550.4" y2="442" stroke="#2e2a29" stroke-width="1.1"/>
<line x1="556.8" y1="418.2" x2="556.8" y2="442" stroke="#2e2a29" stroke-width="1.1"/>
<line x1="580" y1="418.2" x2="580" y2="442" stroke="#2e2a29" stroke-width="1.1"/>
<circle cx="568.4" cy="430.1" r="11" fill="none" stroke="#2e2a29" stroke-width="1.1"/>
<path d="M566.64,419.24V428.34M566.64,431.86V440.96M570.16,419.24V428.34M570.16,431.86V440.96M557.54,428.34H566.64M570.16,428.34H579.26M557.54,431.86H566.64M570.16,431.86H579.26" fill="none" stroke="#2e2a29" stroke-width="1.1"/>
<text x="541.2" y="434.6" font-size="12.5" text-anchor="middle" fill="#231815" style="font-family:'Liberation Sans',sans-serif">25</text>
<line x1="532" y1="445.8" x2="580" y2="445.8" stroke="#2e2a29" stroke-width="1.1"/>
<line x1="532" y1="469.6" x2="580" y2="469.6" stroke="#2e2a29" stroke-width="1.1"/>
<line x1="550.4" y1="445.8" x2="550.4" y2="469.6" stroke="#2e2a29" stroke-width="1.1"/>
<line x1="556.8" y1="445.8" x2="556.8" y2="469.6" stroke="#2e2a29" stroke-width="1.1"/>
<line x1="580" y1="445.8" x2="580" y2="469.6" stroke="#2e2a29" stroke-width="1.1"/>
<circle cx="568.4" cy="457.7" r="11" fill="none" stroke="#2e2a29" stroke-width="1.1"/>
<path d="M566.64,446.84V455.94M566.64,459.46V468.56M570.16,446.84V455.94M570.16,459.46V468.56M557.54,455.94H566.64M570.16,455.94H579.26M557.54,459.46H566.64M570.16,459.46H579.26" fill="none" stroke="#2e2a29" stroke-width="1.1"/>
<text x="541.2" y="462.2" font-size="12.5" text-anchor="middle" fill="#231815" style="font-family:'Liberation Sans',sans-serif">26</text>
<circle cx="510" cy="310" r="2.4" fill="#231815"/>
<line x1="510" y1="310" x2="528.5" y2="310" stroke="#231815" stroke-width="2.2"/>
<text x="517.5" y="306.5" font-size="12.5" text-anchor="middle" fill="#231815" style="font-family:'Liberation Sans',sans-serif" stroke="#231815" stroke-width="0.3">+</text>
<text x="508" y="329" font-size="10.5" text-anchor="middle" textLength="17" lengthAdjust="spacingAndGlyphs" fill="#231815" style="font-family:'Liberation Sans',sans-serif" stroke="#231815" stroke-width="0.3">SSR</text>
<circle cx="510" cy="336.9" r="2.4" fill="#231815"/>
<line x1="510" y1="336.9" x2="528.5" y2="336.9" stroke="#231815" stroke-width="2.2"/>
<line x1="514.5" y1="341.5" x2="520.5" y2="341.5" stroke="#231815" stroke-width="1.2"/>
<circle cx="510" cy="371.5" r="2.4" fill="#231815"/>
<line x1="510" y1="371.5" x2="528.5" y2="371.5" stroke="#231815" stroke-width="2.2"/>
<text x="518" y="367.3" font-size="13" text-anchor="middle" textLength="7" lengthAdjust="spacingAndGlyphs" fill="#231815" style="font-family:'Liberation Sans',sans-serif" stroke="#231815" stroke-width="0.3">T</text>
<text x="508" y="389.2" font-size="10.5" text-anchor="middle" textLength="17.4" lengthAdjust="spacingAndGlyphs" fill="#231815" style="font-family:'Liberation Sans',sans-serif" stroke="#231815" stroke-width="0.3">SCR</text>
<circle cx="510" cy="397.1" r="2.4" fill="#231815"/>
<line x1="510" y1="397.1" x2="528.5" y2="397.1" stroke="#231815" stroke-width="2.2"/>
<text x="518" y="409.2" font-size="14" text-anchor="middle" textLength="8.5" lengthAdjust="spacingAndGlyphs" fill="#231815" style="font-family:'Liberation Sans',sans-serif" stroke="#231815" stroke-width="0.2">G</text>
<polyline points="532,429.6 515.3,429.6 515.3,437.2" fill="none" stroke="#231815" stroke-width="1.1"/>
<circle cx="515.3" cy="437.2" r="1.4" fill="#231815"/>
<line x1="511.3" y1="445.2" x2="515.3" y2="437.7" stroke="#231815" stroke-width="1.2"/>
<circle cx="515.3" cy="447.3" r="1.4" fill="#231815"/>
<polyline points="515.3,447.3 515.3,457.4 532,457.4" fill="none" stroke="#231815" stroke-width="1.1"/>
<text x="501" y="448.8" font-size="12" text-anchor="middle" textLength="14" lengthAdjust="spacingAndGlyphs" fill="#231815" style="font-family:'Liberation Sans',sans-serif" stroke="#231815" stroke-width="0.3">NO</text>
<line x1="669.9" y1="295.5" x2="717.9" y2="295.5" stroke="#2e2a29" stroke-width="1.1"/>
<line x1="669.9" y1="319.3" x2="717.9" y2="319.3" stroke="#2e2a29" stroke-width="1.1"/>
<line x1="688.3" y1="295.5" x2="688.3" y2="319.3" stroke="#2e2a29" stroke-width="1.1"/>
<line x1="694.7" y1="295.5" x2="694.7" y2="319.3" stroke="#2e2a29" stroke-width="1.1"/>
<line x1="717.9" y1="295.5" x2="717.9" y2="319.3" stroke="#2e2a29" stroke-width="1.1"/>
<circle cx="706.3" cy="307.4" r="11" fill="none" stroke="#2e2a29" stroke-width="1.1"/>
<path d="M704.54,296.54V305.64M704.54,309.16V318.26M708.06,296.54V305.64M708.06,309.16V318.26M695.44,305.64H704.54M708.06,305.64H717.16M695.44,309.16H704.54M708.06,309.16H717.16" fill="none" stroke="#2e2a29" stroke-width="1.1"/>
<text x="679.1" y="311.9" font-size="12.5" text-anchor="middle" fill="#231815" style="font-family:'Liberation Sans',sans-serif">27</text>
<line x1="669.9" y1="324.3" x2="717.9" y2="324.3" stroke="#2e2a29" stroke-width="1.1"/>
<line x1="669.9" y1="348.1" x2="717.9" y2="348.1" stroke="#2e2a29" stroke-width="1.1"/>
<line x1="688.3" y1="324.3" x2="688.3" y2="348.1" stroke="#2e2a29" stroke-width="1.1"/>
<line x1="694.7" y1="324.3" x2="694.7" y2="348.1" stroke="#2e2a29" stroke-width="1.1"/>
<line x1="717.9" y1="324.3" x2="717.9" y2="348.1" stroke="#2e2a29" stroke-width="1.1"/>
<circle cx="706.3" cy="336.2" r="11" fill="none" stroke="#2e2a29" stroke-width="1.1"/>
<path d="M704.54,325.34V334.44M704.54,337.96V347.06M708.06,325.34V334.44M708.06,337.96V347.06M695.44,334.44H704.54M708.06,334.44H717.16M695.44,337.96H704.54M708.06,337.96H717.16" fill="none" stroke="#2e2a29" stroke-width="1.1"/>
<text x="679.1" y="340.7" font-size="12.5" text-anchor="middle" fill="#231815" style="font-family:'Liberation Sans',sans-serif">28</text>
<line x1="669.9" y1="357.7" x2="717.9" y2="357.7" stroke="#2e2a29" stroke-width="1.1"/>
<line x1="669.9" y1="381.5" x2="717.9" y2="381.5" stroke="#2e2a29" stroke-width="1.1"/>
<line x1="688.3" y1="357.7" x2="688.3" y2="381.5" stroke="#2e2a29" stroke-width="1.1"/>
<line x1="694.7" y1="357.7" x2="694.7" y2="381.5" stroke="#2e2a29" stroke-width="1.1"/>
<line x1="717.9" y1="357.7" x2="717.9" y2="381.5" stroke="#2e2a29" stroke-width="1.1"/>
<circle cx="706.3" cy="369.6" r="11" fill="none" stroke="#2e2a29" stroke-width="1.1"/>
<path d="M704.54,358.74V367.84M704.54,371.36V380.46M708.06,358.74V367.84M708.06,371.36V380.46M695.44,367.84H704.54M708.06,367.84H717.16M695.44,371.36H704.54M708.06,371.36H717.16" fill="none" stroke="#2e2a29" stroke-width="1.1"/>
<text x="679.1" y="374.1" font-size="12.5" text-anchor="middle" fill="#231815" style="font-family:'Liberation Sans',sans-serif">27</text>
<line x1="669.9" y1="386.5" x2="717.9" y2="386.5" stroke="#2e2a29" stroke-width="1.1"/>
<line x1="669.9" y1="410.3" x2="717.9" y2="410.3" stroke="#2e2a29" stroke-width="1.1"/>
<line x1="688.3" y1="386.5" x2="688.3" y2="410.3" stroke="#2e2a29" stroke-width="1.1"/>
<line x1="694.7" y1="386.5" x2="694.7" y2="410.3" stroke="#2e2a29" stroke-width="1.1"/>
<line x1="717.9" y1="386.5" x2="717.9" y2="410.3" stroke="#2e2a29" stroke-width="1.1"/>
<circle cx="706.3" cy="398.4" r="11" fill="none" stroke="#2e2a29" stroke-width="1.1"/>
<path d="M704.54,387.54V396.64M704.54,400.16V409.26M708.06,387.54V396.64M708.06,400.16V409.26M695.44,396.64H704.54M708.06,396.64H717.16M695.44,400.16H704.54M708.06,400.16H717.16" fill="none" stroke="#2e2a29" stroke-width="1.1"/>
<text x="679.1" y="402.9" font-size="12.5" text-anchor="middle" fill="#231815" style="font-family:'Liberation Sans',sans-serif">28</text>
<line x1="669.9" y1="418.2" x2="717.9" y2="418.2" stroke="#2e2a29" stroke-width="1.1"/>
<line x1="669.9" y1="442" x2="717.9" y2="442" stroke="#2e2a29" stroke-width="1.1"/>
<line x1="688.3" y1="418.2" x2="688.3" y2="442" stroke="#2e2a29" stroke-width="1.1"/>
<line x1="694.7" y1="418.2" x2="694.7" y2="442" stroke="#2e2a29" stroke-width="1.1"/>
<line x1="717.9" y1="418.2" x2="717.9" y2="442" stroke="#2e2a29" stroke-width="1.1"/>
<circle cx="706.3" cy="430.1" r="11" fill="none" stroke="#2e2a29" stroke-width="1.1"/>
<path d="M704.54,419.24V428.34M704.54,431.86V440.96M708.06,419.24V428.34M708.06,431.86V440.96M695.44,428.34H704.54M708.06,428.34H717.16M695.44,431.86H704.54M708.06,431.86H717.16" fill="none" stroke="#2e2a29" stroke-width="1.1"/>
<text x="679.1" y="434.6" font-size="12.5" text-anchor="middle" fill="#231815" style="font-family:'Liberation Sans',sans-serif">27</text>
<line x1="669.9" y1="445.8" x2="717.9" y2="445.8" stroke="#2e2a29" stroke-width="1.1"/>
<line x1="669.9" y1="469.6" x2="717.9" y2="469.6" stroke="#2e2a29" stroke-width="1.1"/>
<line x1="688.3" y1="445.8" x2="688.3" y2="469.6" stroke="#2e2a29" stroke-width="1.1"/>
<line x1="694.7" y1="445.8" x2="694.7" y2="469.6" stroke="#2e2a29" stroke-width="1.1"/>
<line x1="717.9" y1="445.8" x2="717.9" y2="469.6" stroke="#2e2a29" stroke-width="1.1"/>
<circle cx="706.3" cy="457.7" r="11" fill="none" stroke="#2e2a29" stroke-width="1.1"/>
<path d="M704.54,446.84V455.94M704.54,459.46V468.56M708.06,446.84V455.94M708.06,459.46V468.56M695.44,455.94H704.54M708.06,455.94H717.16M695.44,459.46H704.54M708.06,459.46H717.16" fill="none" stroke="#2e2a29" stroke-width="1.1"/>
<text x="679.1" y="462.2" font-size="12.5" text-anchor="middle" fill="#231815" style="font-family:'Liberation Sans',sans-serif">28</text>
<polyline points="643.9,304.8 664.4,304.8 664.4,334.1 643.9,334.1" fill="none" stroke="#231815" stroke-width="1.2"/>
<polygon points="642.4,304.8 647.9,302.4 647.9,307.2" fill="#231815" stroke="none" stroke-width="1"/>
<polygon points="642.4,334.1 647.9,331.7 647.9,336.5" fill="#231815" stroke="none" stroke-width="1"/>
<circle cx="664.4" cy="319.5" r="4.2" fill="none" stroke="#231815" stroke-width="1.1"/>
<polygon points="664.4,322.5 662.4,319 666.4,319" fill="#231815" stroke="none" stroke-width="1"/>
<line x1="668.6" y1="319.5" x2="669.9" y2="319.5" stroke="#2e2a29" stroke-width="1.1"/>
<text x="651.4" y="301" font-size="13" text-anchor="middle" fill="#231815" style="font-family:'Liberation Sans',sans-serif" stroke="#231815" stroke-width="0.3">+</text>
<line x1="647.9" y1="341.1" x2="654.9" y2="341.1" stroke="#231815" stroke-width="1.3"/>
<text x="635.9" y="323.5" font-size="10.5" text-anchor="middle" textLength="13.5" lengthAdjust="spacingAndGlyphs" fill="#231815" style="font-family:'Liberation Sans',sans-serif" stroke="#231815" stroke-width="0.3">mA</text>
<polyline points="639.4,369.4 660.7,369.4 660.7,381.9" fill="none" stroke="#231815" stroke-width="1.2"/>
<polyline points="660.7,385.9 660.7,398.6 639.4,398.6" fill="none" stroke="#231815" stroke-width="1.2"/>
<polygon points="637.9,369.4 643.4,367 643.4,371.8" fill="#231815" stroke="none" stroke-width="1"/>
<polygon points="637.9,398.6 643.4,396.2 643.4,401" fill="#231815" stroke="none" stroke-width="1"/>
<line x1="656.9" y1="381.9" x2="664.5" y2="381.9" stroke="#231815" stroke-width="1.1"/>
<line x1="658.9" y1="385.5" x2="662.5" y2="385.5" stroke="#231815" stroke-width="1.8"/>
<text x="646.4" y="365.7" font-size="13" text-anchor="middle" fill="#231815" style="font-family:'Liberation Sans',sans-serif" stroke="#231815" stroke-width="0.3">+</text>
<line x1="642.9" y1="406.3" x2="649.9" y2="406.3" stroke="#231815" stroke-width="1.3"/>
<text x="635.4" y="388.7" font-size="11.5" text-anchor="middle" textLength="7" lengthAdjust="spacingAndGlyphs" fill="#231815" style="font-family:'Liberation Sans',sans-serif" stroke="#231815" stroke-width="0.3">V</text>
<polyline points="669.9,429.6 653.2,429.6 653.2,437.2" fill="none" stroke="#231815" stroke-width="1.1"/>
<circle cx="653.2" cy="437.2" r="1.4" fill="#231815"/>
<line x1="649.2" y1="445.2" x2="653.2" y2="437.7" stroke="#231815" stroke-width="1.2"/>
<circle cx="653.2" cy="447.3" r="1.4" fill="#231815"/>
<polyline points="653.2,447.3 653.2,457.4 669.9,457.4" fill="none" stroke="#231815" stroke-width="1.1"/>
<text x="638.9" y="448.8" font-size="12" text-anchor="middle" textLength="14" lengthAdjust="spacingAndGlyphs" fill="#231815" style="font-family:'Liberation Sans',sans-serif" stroke="#231815" stroke-width="0.3">NO</text>
<line x1="778.3" y1="295.5" x2="826.3" y2="295.5" stroke="#2e2a29" stroke-width="1.1"/>
<line x1="778.3" y1="319.3" x2="826.3" y2="319.3" stroke="#2e2a29" stroke-width="1.1"/>
<line x1="796.7" y1="295.5" x2="796.7" y2="319.3" stroke="#2e2a29" stroke-width="1.1"/>
<line x1="803.1" y1="295.5" x2="803.1" y2="319.3" stroke="#2e2a29" stroke-width="1.1"/>
<line x1="826.3" y1="295.5" x2="826.3" y2="319.3" stroke="#2e2a29" stroke-width="1.1"/>
<circle cx="814.7" cy="307.4" r="11" fill="none" stroke="#2e2a29" stroke-width="1.1"/>
<path d="M812.94,296.54V305.64M812.94,309.16V318.26M816.46,296.54V305.64M816.46,309.16V318.26M803.84,305.64H812.94M816.46,305.64H825.56M803.84,309.16H812.94M816.46,309.16H825.56" fill="none" stroke="#2e2a29" stroke-width="1.1"/>
<text x="787.5" y="311.9" font-size="12.5" text-anchor="middle" fill="#231815" style="font-family:'Liberation Sans',sans-serif">29</text>
<line x1="778.3" y1="324.3" x2="826.3" y2="324.3" stroke="#2e2a29" stroke-width="1.1"/>
<line x1="778.3" y1="348.1" x2="826.3" y2="348.1" stroke="#2e2a29" stroke-width="1.1"/>
<line x1="796.7" y1="324.3" x2="796.7" y2="348.1" stroke="#2e2a29" stroke-width="1.1"/>
<line x1="803.1" y1="324.3" x2="803.1" y2="348.1" stroke="#2e2a29" stroke-width="1.1"/>
<line x1="826.3" y1="324.3" x2="826.3" y2="348.1" stroke="#2e2a29" stroke-width="1.1"/>
<circle cx="814.7" cy="336.2" r="11" fill="none" stroke="#2e2a29" stroke-width="1.1"/>
<path d="M812.94,325.34V334.44M812.94,337.96V347.06M816.46,325.34V334.44M816.46,337.96V347.06M803.84,334.44H812.94M816.46,334.44H825.56M803.84,337.96H812.94M816.46,337.96H825.56" fill="none" stroke="#2e2a29" stroke-width="1.1"/>
<text x="787.5" y="340.7" font-size="12.5" text-anchor="middle" fill="#231815" style="font-family:'Liberation Sans',sans-serif">30</text>
<line x1="778.3" y1="357.7" x2="826.3" y2="357.7" stroke="#2e2a29" stroke-width="1.1"/>
<line x1="778.3" y1="381.5" x2="826.3" y2="381.5" stroke="#2e2a29" stroke-width="1.1"/>
<line x1="796.7" y1="357.7" x2="796.7" y2="381.5" stroke="#2e2a29" stroke-width="1.1"/>
<line x1="803.1" y1="357.7" x2="803.1" y2="381.5" stroke="#2e2a29" stroke-width="1.1"/>
<line x1="826.3" y1="357.7" x2="826.3" y2="381.5" stroke="#2e2a29" stroke-width="1.1"/>
<circle cx="814.7" cy="369.6" r="11" fill="none" stroke="#2e2a29" stroke-width="1.1"/>
<path d="M812.94,358.74V367.84M812.94,371.36V380.46M816.46,358.74V367.84M816.46,371.36V380.46M803.84,367.84H812.94M816.46,367.84H825.56M803.84,371.36H812.94M816.46,371.36H825.56" fill="none" stroke="#2e2a29" stroke-width="1.1"/>
<text x="787.5" y="374.1" font-size="12.5" text-anchor="middle" fill="#231815" style="font-family:'Liberation Sans',sans-serif">29</text>
<line x1="778.3" y1="386.5" x2="826.3" y2="386.5" stroke="#2e2a29" stroke-width="1.1"/>
<line x1="778.3" y1="410.3" x2="826.3" y2="410.3" stroke="#2e2a29" stroke-width="1.1"/>
<line x1="796.7" y1="386.5" x2="796.7" y2="410.3" stroke="#2e2a29" stroke-width="1.1"/>
<line x1="803.1" y1="386.5" x2="803.1" y2="410.3" stroke="#2e2a29" stroke-width="1.1"/>
<line x1="826.3" y1="386.5" x2="826.3" y2="410.3" stroke="#2e2a29" stroke-width="1.1"/>
<circle cx="814.7" cy="398.4" r="11" fill="none" stroke="#2e2a29" stroke-width="1.1"/>
<path d="M812.94,387.54V396.64M812.94,400.16V409.26M816.46,387.54V396.64M816.46,400.16V409.26M803.84,396.64H812.94M816.46,396.64H825.56M803.84,400.16H812.94M816.46,400.16H825.56" fill="none" stroke="#2e2a29" stroke-width="1.1"/>
<text x="787.5" y="402.9" font-size="12.5" text-anchor="middle" fill="#231815" style="font-family:'Liberation Sans',sans-serif">30</text>
<line x1="778.3" y1="418.2" x2="826.3" y2="418.2" stroke="#2e2a29" stroke-width="1.1"/>
<line x1="778.3" y1="442" x2="826.3" y2="442" stroke="#2e2a29" stroke-width="1.1"/>
<line x1="796.7" y1="418.2" x2="796.7" y2="442" stroke="#2e2a29" stroke-width="1.1"/>
<line x1="803.1" y1="418.2" x2="803.1" y2="442" stroke="#2e2a29" stroke-width="1.1"/>
<line x1="826.3" y1="418.2" x2="826.3" y2="442" stroke="#2e2a29" stroke-width="1.1"/>
<circle cx="814.7" cy="430.1" r="11" fill="none" stroke="#2e2a29" stroke-width="1.1"/>
<path d="M812.94,419.24V428.34M812.94,431.86V440.96M816.46,419.24V428.34M816.46,431.86V440.96M803.84,428.34H812.94M816.46,428.34H825.56M803.84,431.86H812.94M816.46,431.86H825.56" fill="none" stroke="#2e2a29" stroke-width="1.1"/>
<text x="787.5" y="434.6" font-size="12.5" text-anchor="middle" fill="#231815" style="font-family:'Liberation Sans',sans-serif">29</text>
<line x1="778.3" y1="445.8" x2="826.3" y2="445.8" stroke="#2e2a29" stroke-width="1.1"/>
<line x1="778.3" y1="469.6" x2="826.3" y2="469.6" stroke="#2e2a29" stroke-width="1.1"/>
<line x1="796.7" y1="445.8" x2="796.7" y2="469.6" stroke="#2e2a29" stroke-width="1.1"/>
<line x1="803.1" y1="445.8" x2="803.1" y2="469.6" stroke="#2e2a29" stroke-width="1.1"/>
<line x1="826.3" y1="445.8" x2="826.3" y2="469.6" stroke="#2e2a29" stroke-width="1.1"/>
<circle cx="814.7" cy="457.7" r="11" fill="none" stroke="#2e2a29" stroke-width="1.1"/>
<path d="M812.94,446.84V455.94M812.94,459.46V468.56M816.46,446.84V455.94M816.46,459.46V468.56M803.84,455.94H812.94M816.46,455.94H825.56M803.84,459.46H812.94M816.46,459.46H825.56" fill="none" stroke="#2e2a29" stroke-width="1.1"/>
<text x="787.5" y="462.2" font-size="12.5" text-anchor="middle" fill="#231815" style="font-family:'Liberation Sans',sans-serif">30</text>
<polyline points="752.3,304.8 772.8,304.8 772.8,334.1 752.3,334.1" fill="none" stroke="#231815" stroke-width="1.2"/>
<polygon points="750.8,304.8 756.3,302.4 756.3,307.2" fill="#231815" stroke="none" stroke-width="1"/>
<polygon points="750.8,334.1 756.3,331.7 756.3,336.5" fill="#231815" stroke="none" stroke-width="1"/>
<circle cx="772.8" cy="319.5" r="4.2" fill="none" stroke="#231815" stroke-width="1.1"/>
<polygon points="772.8,322.5 770.8,319 774.8,319" fill="#231815" stroke="none" stroke-width="1"/>
<line x1="777" y1="319.5" x2="778.3" y2="319.5" stroke="#2e2a29" stroke-width="1.1"/>
<text x="759.8" y="301" font-size="13" text-anchor="middle" fill="#231815" style="font-family:'Liberation Sans',sans-serif" stroke="#231815" stroke-width="0.3">+</text>
<line x1="756.3" y1="341.1" x2="763.3" y2="341.1" stroke="#231815" stroke-width="1.3"/>
<text x="744.3" y="323.5" font-size="10.5" text-anchor="middle" textLength="13.5" lengthAdjust="spacingAndGlyphs" fill="#231815" style="font-family:'Liberation Sans',sans-serif" stroke="#231815" stroke-width="0.3">mA</text>
<polyline points="747.8,369.4 769.1,369.4 769.1,381.9" fill="none" stroke="#231815" stroke-width="1.2"/>
<polyline points="769.1,385.9 769.1,398.6 747.8,398.6" fill="none" stroke="#231815" stroke-width="1.2"/>
<polygon points="746.3,369.4 751.8,367 751.8,371.8" fill="#231815" stroke="none" stroke-width="1"/>
<polygon points="746.3,398.6 751.8,396.2 751.8,401" fill="#231815" stroke="none" stroke-width="1"/>
<line x1="765.3" y1="381.9" x2="772.9" y2="381.9" stroke="#231815" stroke-width="1.1"/>
<line x1="767.3" y1="385.5" x2="770.9" y2="385.5" stroke="#231815" stroke-width="1.8"/>
<text x="754.8" y="365.7" font-size="13" text-anchor="middle" fill="#231815" style="font-family:'Liberation Sans',sans-serif" stroke="#231815" stroke-width="0.3">+</text>
<line x1="751.3" y1="406.3" x2="758.3" y2="406.3" stroke="#231815" stroke-width="1.3"/>
<text x="743.8" y="388.7" font-size="11.5" text-anchor="middle" textLength="7" lengthAdjust="spacingAndGlyphs" fill="#231815" style="font-family:'Liberation Sans',sans-serif" stroke="#231815" stroke-width="0.3">V</text>
<polyline points="778.3,429.6 761.6,429.6 761.6,437.2" fill="none" stroke="#231815" stroke-width="1.1"/>
<circle cx="761.6" cy="437.2" r="1.4" fill="#231815"/>
<line x1="757.6" y1="445.2" x2="761.6" y2="437.7" stroke="#231815" stroke-width="1.2"/>
<circle cx="761.6" cy="447.3" r="1.4" fill="#231815"/>
<polyline points="761.6,447.3 761.6,457.4 778.3,457.4" fill="none" stroke="#231815" stroke-width="1.1"/>
<text x="747.3" y="448.8" font-size="12" text-anchor="middle" textLength="14" lengthAdjust="spacingAndGlyphs" fill="#231815" style="font-family:'Liberation Sans',sans-serif" stroke="#231815" stroke-width="0.3">NO</text>
<line x1="891.9" y1="295.5" x2="939.9" y2="295.5" stroke="#2e2a29" stroke-width="1.1"/>
<line x1="891.9" y1="319.3" x2="939.9" y2="319.3" stroke="#2e2a29" stroke-width="1.1"/>
<line x1="910.3" y1="295.5" x2="910.3" y2="319.3" stroke="#2e2a29" stroke-width="1.1"/>
<line x1="916.7" y1="295.5" x2="916.7" y2="319.3" stroke="#2e2a29" stroke-width="1.1"/>
<line x1="939.9" y1="295.5" x2="939.9" y2="319.3" stroke="#2e2a29" stroke-width="1.1"/>
<circle cx="928.3" cy="307.4" r="11" fill="none" stroke="#2e2a29" stroke-width="1.1"/>
<path d="M926.54,296.54V305.64M926.54,309.16V318.26M930.06,296.54V305.64M930.06,309.16V318.26M917.44,305.64H926.54M930.06,305.64H939.16M917.44,309.16H926.54M930.06,309.16H939.16" fill="none" stroke="#2e2a29" stroke-width="1.1"/>
<text x="901.1" y="311.9" font-size="12.5" text-anchor="middle" fill="#231815" style="font-family:'Liberation Sans',sans-serif">31</text>
<line x1="891.9" y1="324.3" x2="939.9" y2="324.3" stroke="#2e2a29" stroke-width="1.1"/>
<line x1="891.9" y1="348.1" x2="939.9" y2="348.1" stroke="#2e2a29" stroke-width="1.1"/>
<line x1="910.3" y1="324.3" x2="910.3" y2="348.1" stroke="#2e2a29" stroke-width="1.1"/>
<line x1="916.7" y1="324.3" x2="916.7" y2="348.1" stroke="#2e2a29" stroke-width="1.1"/>
<line x1="939.9" y1="324.3" x2="939.9" y2="348.1" stroke="#2e2a29" stroke-width="1.1"/>
<circle cx="928.3" cy="336.2" r="11" fill="none" stroke="#2e2a29" stroke-width="1.1"/>
<path d="M926.54,325.34V334.44M926.54,337.96V347.06M930.06,325.34V334.44M930.06,337.96V347.06M917.44,334.44H926.54M930.06,334.44H939.16M917.44,337.96H926.54M930.06,337.96H939.16" fill="none" stroke="#2e2a29" stroke-width="1.1"/>
<text x="901.1" y="340.7" font-size="12.5" text-anchor="middle" fill="#231815" style="font-family:'Liberation Sans',sans-serif">32</text>
<line x1="891.9" y1="357.7" x2="939.9" y2="357.7" stroke="#2e2a29" stroke-width="1.1"/>
<line x1="891.9" y1="381.5" x2="939.9" y2="381.5" stroke="#2e2a29" stroke-width="1.1"/>
<line x1="910.3" y1="357.7" x2="910.3" y2="381.5" stroke="#2e2a29" stroke-width="1.1"/>
<line x1="916.7" y1="357.7" x2="916.7" y2="381.5" stroke="#2e2a29" stroke-width="1.1"/>
<line x1="939.9" y1="357.7" x2="939.9" y2="381.5" stroke="#2e2a29" stroke-width="1.1"/>
<circle cx="928.3" cy="369.6" r="11" fill="none" stroke="#2e2a29" stroke-width="1.1"/>
<path d="M926.54,358.74V367.84M926.54,371.36V380.46M930.06,358.74V367.84M930.06,371.36V380.46M917.44,367.84H926.54M930.06,367.84H939.16M917.44,371.36H926.54M930.06,371.36H939.16" fill="none" stroke="#2e2a29" stroke-width="1.1"/>
<text x="901.1" y="374.1" font-size="12.5" text-anchor="middle" fill="#231815" style="font-family:'Liberation Sans',sans-serif">31</text>
<line x1="891.9" y1="386.5" x2="939.9" y2="386.5" stroke="#2e2a29" stroke-width="1.1"/>
<line x1="891.9" y1="410.3" x2="939.9" y2="410.3" stroke="#2e2a29" stroke-width="1.1"/>
<line x1="910.3" y1="386.5" x2="910.3" y2="410.3" stroke="#2e2a29" stroke-width="1.1"/>
<line x1="916.7" y1="386.5" x2="916.7" y2="410.3" stroke="#2e2a29" stroke-width="1.1"/>
<line x1="939.9" y1="386.5" x2="939.9" y2="410.3" stroke="#2e2a29" stroke-width="1.1"/>
<circle cx="928.3" cy="398.4" r="11" fill="none" stroke="#2e2a29" stroke-width="1.1"/>
<path d="M926.54,387.54V396.64M926.54,400.16V409.26M930.06,387.54V396.64M930.06,400.16V409.26M917.44,396.64H926.54M930.06,396.64H939.16M917.44,400.16H926.54M930.06,400.16H939.16" fill="none" stroke="#2e2a29" stroke-width="1.1"/>
<text x="901.1" y="402.9" font-size="12.5" text-anchor="middle" fill="#231815" style="font-family:'Liberation Sans',sans-serif">32</text>
<line x1="891.9" y1="418.2" x2="939.9" y2="418.2" stroke="#2e2a29" stroke-width="1.1"/>
<line x1="891.9" y1="442" x2="939.9" y2="442" stroke="#2e2a29" stroke-width="1.1"/>
<line x1="910.3" y1="418.2" x2="910.3" y2="442" stroke="#2e2a29" stroke-width="1.1"/>
<line x1="916.7" y1="418.2" x2="916.7" y2="442" stroke="#2e2a29" stroke-width="1.1"/>
<line x1="939.9" y1="418.2" x2="939.9" y2="442" stroke="#2e2a29" stroke-width="1.1"/>
<circle cx="928.3" cy="430.1" r="11" fill="none" stroke="#2e2a29" stroke-width="1.1"/>
<path d="M926.54,419.24V428.34M926.54,431.86V440.96M930.06,419.24V428.34M930.06,431.86V440.96M917.44,428.34H926.54M930.06,428.34H939.16M917.44,431.86H926.54M930.06,431.86H939.16" fill="none" stroke="#2e2a29" stroke-width="1.1"/>
<text x="901.1" y="434.6" font-size="12.5" text-anchor="middle" fill="#231815" style="font-family:'Liberation Sans',sans-serif">31</text>
<line x1="891.9" y1="445.8" x2="939.9" y2="445.8" stroke="#2e2a29" stroke-width="1.1"/>
<line x1="891.9" y1="469.6" x2="939.9" y2="469.6" stroke="#2e2a29" stroke-width="1.1"/>
<line x1="910.3" y1="445.8" x2="910.3" y2="469.6" stroke="#2e2a29" stroke-width="1.1"/>
<line x1="916.7" y1="445.8" x2="916.7" y2="469.6" stroke="#2e2a29" stroke-width="1.1"/>
<line x1="939.9" y1="445.8" x2="939.9" y2="469.6" stroke="#2e2a29" stroke-width="1.1"/>
<circle cx="928.3" cy="457.7" r="11" fill="none" stroke="#2e2a29" stroke-width="1.1"/>
<path d="M926.54,446.84V455.94M926.54,459.46V468.56M930.06,446.84V455.94M930.06,459.46V468.56M917.44,455.94H926.54M930.06,455.94H939.16M917.44,459.46H926.54M930.06,459.46H939.16" fill="none" stroke="#2e2a29" stroke-width="1.1"/>
<text x="901.1" y="462.2" font-size="12.5" text-anchor="middle" fill="#231815" style="font-family:'Liberation Sans',sans-serif">32</text>
<polyline points="865.9,304.8 886.4,304.8 886.4,334.1 865.9,334.1" fill="none" stroke="#231815" stroke-width="1.2"/>
<polygon points="864.4,304.8 869.9,302.4 869.9,307.2" fill="#231815" stroke="none" stroke-width="1"/>
<polygon points="864.4,334.1 869.9,331.7 869.9,336.5" fill="#231815" stroke="none" stroke-width="1"/>
<circle cx="886.4" cy="319.5" r="4.2" fill="none" stroke="#231815" stroke-width="1.1"/>
<polygon points="886.4,322.5 884.4,319 888.4,319" fill="#231815" stroke="none" stroke-width="1"/>
<line x1="890.6" y1="319.5" x2="891.9" y2="319.5" stroke="#2e2a29" stroke-width="1.1"/>
<text x="873.4" y="301" font-size="13" text-anchor="middle" fill="#231815" style="font-family:'Liberation Sans',sans-serif" stroke="#231815" stroke-width="0.3">+</text>
<line x1="869.9" y1="341.1" x2="876.9" y2="341.1" stroke="#231815" stroke-width="1.3"/>
<text x="857.9" y="323.5" font-size="10.5" text-anchor="middle" textLength="13.5" lengthAdjust="spacingAndGlyphs" fill="#231815" style="font-family:'Liberation Sans',sans-serif" stroke="#231815" stroke-width="0.3">mA</text>
<polyline points="861.4,369.4 882.7,369.4 882.7,381.9" fill="none" stroke="#231815" stroke-width="1.2"/>
<polyline points="882.7,385.9 882.7,398.6 861.4,398.6" fill="none" stroke="#231815" stroke-width="1.2"/>
<polygon points="859.9,369.4 865.4,367 865.4,371.8" fill="#231815" stroke="none" stroke-width="1"/>
<polygon points="859.9,398.6 865.4,396.2 865.4,401" fill="#231815" stroke="none" stroke-width="1"/>
<line x1="878.9" y1="381.9" x2="886.5" y2="381.9" stroke="#231815" stroke-width="1.1"/>
<line x1="880.9" y1="385.5" x2="884.5" y2="385.5" stroke="#231815" stroke-width="1.8"/>
<text x="868.4" y="365.7" font-size="13" text-anchor="middle" fill="#231815" style="font-family:'Liberation Sans',sans-serif" stroke="#231815" stroke-width="0.3">+</text>
<line x1="864.9" y1="406.3" x2="871.9" y2="406.3" stroke="#231815" stroke-width="1.3"/>
<text x="857.4" y="388.7" font-size="11.5" text-anchor="middle" textLength="7" lengthAdjust="spacingAndGlyphs" fill="#231815" style="font-family:'Liberation Sans',sans-serif" stroke="#231815" stroke-width="0.3">V</text>
<polyline points="891.9,429.6 875.2,429.6 875.2,437.2" fill="none" stroke="#231815" stroke-width="1.1"/>
<circle cx="875.2" cy="437.2" r="1.4" fill="#231815"/>
<line x1="871.2" y1="445.2" x2="875.2" y2="437.7" stroke="#231815" stroke-width="1.2"/>
<circle cx="875.2" cy="447.3" r="1.4" fill="#231815"/>
<polyline points="875.2,447.3 875.2,457.4 891.9,457.4" fill="none" stroke="#231815" stroke-width="1.1"/>
<text x="860.9" y="448.8" font-size="12" text-anchor="middle" textLength="14" lengthAdjust="spacingAndGlyphs" fill="#231815" style="font-family:'Liberation Sans',sans-serif" stroke="#231815" stroke-width="0.3">NO</text>
<rect x="744" y="509.3" width="212.7" height="257.4" fill="none" stroke="#231815" stroke-width="2"/>
<line x1="744" y1="532.7" x2="956.7" y2="532.7" stroke="#231815" stroke-width="1.3"/>
<line x1="744" y1="574" x2="956.7" y2="574" stroke="#231815" stroke-width="1.3"/>
<line x1="848.3" y1="532.7" x2="848.3" y2="766.7" stroke="#231815" stroke-width="1.3"/>
<text x="855" y="527.5" font-size="15.5" text-anchor="middle" font-weight="300" letter-spacing="2.4" fill="#3a3636" style="font-family:'Liberation Serif',serif">模式<tspan font-size="18.29" letter-spacing="0">3</tspan></text>
<text x="755" y="552" font-size="15.5" font-weight="300" letter-spacing="3" fill="#3a3636" style="font-family:'Liberation Serif',serif">三相可控硅</text>
<text x="755" y="569" font-size="15.5" font-weight="300" letter-spacing="3" fill="#3a3636" style="font-family:'Liberation Serif',serif">控制输出</text>
<text x="860.5" y="552" font-size="15.5" font-weight="300" letter-spacing="2" fill="#3a3636" style="font-family:'Liberation Serif',serif">变送输出<tspan font-size="18.29" letter-spacing="0">1</tspan></text>
<text x="861.3" y="569" font-size="15.5" font-weight="300" letter-spacing="2" fill="#3a3636" style="font-family:'Liberation Serif',serif"><tspan font-size="18.29" letter-spacing="0">/</tspan>报警<tspan font-size="18.29" letter-spacing="0">6</tspan></text>
<line x1="786" y1="586.7" x2="834" y2="586.7" stroke="#2e2a29" stroke-width="1.1"/>
<line x1="786" y1="610.7" x2="834" y2="610.7" stroke="#2e2a29" stroke-width="1.1"/>
<line x1="804" y1="586.7" x2="804" y2="610.7" stroke="#2e2a29" stroke-width="1.1"/>
<line x1="810.7" y1="586.7" x2="810.7" y2="610.7" stroke="#2e2a29" stroke-width="1.1"/>
<line x1="834" y1="586.7" x2="834" y2="610.7" stroke="#2e2a29" stroke-width="1.1"/>
<circle cx="822.35" cy="598.7" r="11.05" fill="none" stroke="#2e2a29" stroke-width="1.1"/>
<path d="M820.58,587.79V596.93M820.58,600.47V609.61M824.12,587.79V596.93M824.12,600.47V609.61M811.44,596.93H820.58M824.12,596.93H833.26M811.44,600.47H820.58M824.12,600.47H833.26" fill="none" stroke="#2e2a29" stroke-width="1.1"/>
<text x="795" y="603.2" font-size="12.5" text-anchor="middle" fill="#231815" style="font-family:'Liberation Sans',sans-serif">25</text>
<line x1="786" y1="615.7" x2="834" y2="615.7" stroke="#2e2a29" stroke-width="1.1"/>
<line x1="786" y1="639.7" x2="834" y2="639.7" stroke="#2e2a29" stroke-width="1.1"/>
<line x1="804" y1="615.7" x2="804" y2="639.7" stroke="#2e2a29" stroke-width="1.1"/>
<line x1="810.7" y1="615.7" x2="810.7" y2="639.7" stroke="#2e2a29" stroke-width="1.1"/>
<line x1="834" y1="615.7" x2="834" y2="639.7" stroke="#2e2a29" stroke-width="1.1"/>
<circle cx="822.35" cy="627.7" r="11.05" fill="none" stroke="#2e2a29" stroke-width="1.1"/>
<path d="M820.58,616.79V625.93M820.58,629.47V638.61M824.12,616.79V625.93M824.12,629.47V638.61M811.44,625.93H820.58M824.12,625.93H833.26M811.44,629.47H820.58M824.12,629.47H833.26" fill="none" stroke="#2e2a29" stroke-width="1.1"/>
<text x="795" y="632.2" font-size="12.5" text-anchor="middle" fill="#231815" style="font-family:'Liberation Sans',sans-serif">26</text>
<line x1="786" y1="646" x2="834" y2="646" stroke="#2e2a29" stroke-width="1.1"/>
<line x1="786" y1="670" x2="834" y2="670" stroke="#2e2a29" stroke-width="1.1"/>
<line x1="804" y1="646" x2="804" y2="670" stroke="#2e2a29" stroke-width="1.1"/>
<line x1="810.7" y1="646" x2="810.7" y2="670" stroke="#2e2a29" stroke-width="1.1"/>
<line x1="834" y1="646" x2="834" y2="670" stroke="#2e2a29" stroke-width="1.1"/>
<circle cx="822.35" cy="658" r="11.05" fill="none" stroke="#2e2a29" stroke-width="1.1"/>
<path d="M820.58,647.09V656.23M820.58,659.77V668.91M824.12,647.09V656.23M824.12,659.77V668.91M811.44,656.23H820.58M824.12,656.23H833.26M811.44,659.77H820.58M824.12,659.77H833.26" fill="none" stroke="#2e2a29" stroke-width="1.1"/>
<text x="795" y="662.5" font-size="12.5" text-anchor="middle" fill="#231815" style="font-family:'Liberation Sans',sans-serif">27</text>
<line x1="786" y1="675" x2="834" y2="675" stroke="#2e2a29" stroke-width="1.1"/>
<line x1="786" y1="699" x2="834" y2="699" stroke="#2e2a29" stroke-width="1.1"/>
<line x1="804" y1="675" x2="804" y2="699" stroke="#2e2a29" stroke-width="1.1"/>
<line x1="810.7" y1="675" x2="810.7" y2="699" stroke="#2e2a29" stroke-width="1.1"/>
<line x1="834" y1="675" x2="834" y2="699" stroke="#2e2a29" stroke-width="1.1"/>
<circle cx="822.35" cy="687" r="11.05" fill="none" stroke="#2e2a29" stroke-width="1.1"/>
<path d="M820.58,676.09V685.23M820.58,688.77V697.91M824.12,676.09V685.23M824.12,688.77V697.91M811.44,685.23H820.58M824.12,685.23H833.26M811.44,688.77H820.58M824.12,688.77H833.26" fill="none" stroke="#2e2a29" stroke-width="1.1"/>
<text x="795" y="691.5" font-size="12.5" text-anchor="middle" fill="#231815" style="font-family:'Liberation Sans',sans-serif">28</text>
<line x1="786" y1="705" x2="834" y2="705" stroke="#2e2a29" stroke-width="1.1"/>
<line x1="786" y1="729" x2="834" y2="729" stroke="#2e2a29" stroke-width="1.1"/>
<line x1="804" y1="705" x2="804" y2="729" stroke="#2e2a29" stroke-width="1.1"/>
<line x1="810.7" y1="705" x2="810.7" y2="729" stroke="#2e2a29" stroke-width="1.1"/>
<line x1="834" y1="705" x2="834" y2="729" stroke="#2e2a29" stroke-width="1.1"/>
<circle cx="822.35" cy="717" r="11.05" fill="none" stroke="#2e2a29" stroke-width="1.1"/>
<path d="M820.58,706.09V715.23M820.58,718.77V727.91M824.12,706.09V715.23M824.12,718.77V727.91M811.44,715.23H820.58M824.12,715.23H833.26M811.44,718.77H820.58M824.12,718.77H833.26" fill="none" stroke="#2e2a29" stroke-width="1.1"/>
<text x="795" y="721.5" font-size="12.5" text-anchor="middle" fill="#231815" style="font-family:'Liberation Sans',sans-serif">29</text>
<line x1="786" y1="734.3" x2="834" y2="734.3" stroke="#2e2a29" stroke-width="1.1"/>
<line x1="786" y1="758.3" x2="834" y2="758.3" stroke="#2e2a29" stroke-width="1.1"/>
<line x1="804" y1="734.3" x2="804" y2="758.3" stroke="#2e2a29" stroke-width="1.1"/>
<line x1="810.7" y1="734.3" x2="810.7" y2="758.3" stroke="#2e2a29" stroke-width="1.1"/>
<line x1="834" y1="734.3" x2="834" y2="758.3" stroke="#2e2a29" stroke-width="1.1"/>
<circle cx="822.35" cy="746.3" r="11.05" fill="none" stroke="#2e2a29" stroke-width="1.1"/>
<path d="M820.58,735.39V744.53M820.58,748.07V757.21M824.12,735.39V744.53M824.12,748.07V757.21M811.44,744.53H820.58M824.12,744.53H833.26M811.44,748.07H820.58M824.12,748.07H833.26" fill="none" stroke="#2e2a29" stroke-width="1.1"/>
<text x="795" y="750.8" font-size="12.5" text-anchor="middle" fill="#231815" style="font-family:'Liberation Sans',sans-serif">30</text>
<circle cx="765" cy="600.5" r="2.4" fill="#231815"/>
<line x1="765" y1="600.5" x2="782.5" y2="600.5" stroke="#231815" stroke-width="2.2"/>
<text x="773.3" y="596.3" font-size="13" text-anchor="middle" textLength="7" lengthAdjust="spacingAndGlyphs" fill="#231815" style="font-family:'Liberation Sans',sans-serif" stroke="#231815" stroke-width="0.3">T</text>
<text x="765" y="618.2" font-size="10.5" text-anchor="middle" textLength="23.2" lengthAdjust="spacingAndGlyphs" fill="#231815" style="font-family:'Liberation Sans',sans-serif" stroke="#231815" stroke-width="0.3">SCR1</text>
<circle cx="765" cy="626.3" r="2.4" fill="#231815"/>
<line x1="765" y1="626.3" x2="782.5" y2="626.3" stroke="#231815" stroke-width="2.2"/>
<text x="773.3" y="638.4" font-size="14" text-anchor="middle" textLength="8.5" lengthAdjust="spacingAndGlyphs" fill="#231815" style="font-family:'Liberation Sans',sans-serif" stroke="#231815" stroke-width="0.2">G</text>
<circle cx="765" cy="659.8" r="2.4" fill="#231815"/>
<line x1="765" y1="659.8" x2="782.5" y2="659.8" stroke="#231815" stroke-width="2.2"/>
<text x="773.3" y="655.6" font-size="13" text-anchor="middle" textLength="7" lengthAdjust="spacingAndGlyphs" fill="#231815" style="font-family:'Liberation Sans',sans-serif" stroke="#231815" stroke-width="0.3">T</text>
<text x="765" y="677.5" font-size="10.5" text-anchor="middle" textLength="23.2" lengthAdjust="spacingAndGlyphs" fill="#231815" style="font-family:'Liberation Sans',sans-serif" stroke="#231815" stroke-width="0.3">SCR2</text>
<circle cx="765" cy="685.6" r="2.4" fill="#231815"/>
<line x1="765" y1="685.6" x2="782.5" y2="685.6" stroke="#231815" stroke-width="2.2"/>
<text x="773.3" y="697.7" font-size="14" text-anchor="middle" textLength="8.5" lengthAdjust="spacingAndGlyphs" fill="#231815" style="font-family:'Liberation Sans',sans-serif" stroke="#231815" stroke-width="0.2">G</text>
<circle cx="765" cy="718.8" r="2.4" fill="#231815"/>
<line x1="765" y1="718.8" x2="782.5" y2="718.8" stroke="#231815" stroke-width="2.2"/>
<text x="773.3" y="714.6" font-size="13" text-anchor="middle" textLength="7" lengthAdjust="spacingAndGlyphs" fill="#231815" style="font-family:'Liberation Sans',sans-serif" stroke="#231815" stroke-width="0.3">T</text>
<text x="765" y="736.5" font-size="10.5" text-anchor="middle" textLength="23.2" lengthAdjust="spacingAndGlyphs" fill="#231815" style="font-family:'Liberation Sans',sans-serif" stroke="#231815" stroke-width="0.3">SCR3</text>
<circle cx="765" cy="744.9" r="2.4" fill="#231815"/>
<line x1="765" y1="744.9" x2="782.5" y2="744.9" stroke="#231815" stroke-width="2.2"/>
<text x="773.3" y="757" font-size="14" text-anchor="middle" textLength="8.5" lengthAdjust="spacingAndGlyphs" fill="#231815" style="font-family:'Liberation Sans',sans-serif" stroke="#231815" stroke-width="0.2">G</text>
<line x1="896.7" y1="586" x2="944.3" y2="586" stroke="#2e2a29" stroke-width="1.1"/>
<line x1="896.7" y1="610" x2="944.3" y2="610" stroke="#2e2a29" stroke-width="1.1"/>
<line x1="916.7" y1="586" x2="916.7" y2="610" stroke="#2e2a29" stroke-width="1.1"/>
<line x1="921.7" y1="586" x2="921.7" y2="610" stroke="#2e2a29" stroke-width="1.1"/>
<line x1="944.3" y1="586" x2="944.3" y2="610" stroke="#2e2a29" stroke-width="1.1"/>
<circle cx="933" cy="598" r="10.7" fill="none" stroke="#2e2a29" stroke-width="1.1"/>
<path d="M931.29,587.44V596.29M931.29,599.71V608.56M934.71,587.44V596.29M934.71,599.71V608.56M922.44,596.29H931.29M934.71,596.29H943.56M922.44,599.71H931.29M934.71,599.71H943.56" fill="none" stroke="#2e2a29" stroke-width="1.1"/>
<text x="906.7" y="602.5" font-size="12.5" text-anchor="middle" fill="#231815" style="font-family:'Liberation Sans',sans-serif">31</text>
<line x1="896.7" y1="615" x2="944.3" y2="615" stroke="#2e2a29" stroke-width="1.1"/>
<line x1="896.7" y1="639" x2="944.3" y2="639" stroke="#2e2a29" stroke-width="1.1"/>
<line x1="916.7" y1="615" x2="916.7" y2="639" stroke="#2e2a29" stroke-width="1.1"/>
<line x1="921.7" y1="615" x2="921.7" y2="639" stroke="#2e2a29" stroke-width="1.1"/>
<line x1="944.3" y1="615" x2="944.3" y2="639" stroke="#2e2a29" stroke-width="1.1"/>
<circle cx="933" cy="627" r="10.7" fill="none" stroke="#2e2a29" stroke-width="1.1"/>
<path d="M931.29,616.44V625.29M931.29,628.71V637.56M934.71,616.44V625.29M934.71,628.71V637.56M922.44,625.29H931.29M934.71,625.29H943.56M922.44,628.71H931.29M934.71,628.71H943.56" fill="none" stroke="#2e2a29" stroke-width="1.1"/>
<text x="906.7" y="631.5" font-size="12.5" text-anchor="middle" fill="#231815" style="font-family:'Liberation Sans',sans-serif">32</text>
<line x1="896.7" y1="648.3" x2="944.3" y2="648.3" stroke="#2e2a29" stroke-width="1.1"/>
<line x1="896.7" y1="672.3" x2="944.3" y2="672.3" stroke="#2e2a29" stroke-width="1.1"/>
<line x1="916.7" y1="648.3" x2="916.7" y2="672.3" stroke="#2e2a29" stroke-width="1.1"/>
<line x1="921.7" y1="648.3" x2="921.7" y2="672.3" stroke="#2e2a29" stroke-width="1.1"/>
<line x1="944.3" y1="648.3" x2="944.3" y2="672.3" stroke="#2e2a29" stroke-width="1.1"/>
<circle cx="933" cy="660.3" r="10.7" fill="none" stroke="#2e2a29" stroke-width="1.1"/>
<path d="M931.29,649.74V658.59M931.29,662.01V670.86M934.71,649.74V658.59M934.71,662.01V670.86M922.44,658.59H931.29M934.71,658.59H943.56M922.44,662.01H931.29M934.71,662.01H943.56" fill="none" stroke="#2e2a29" stroke-width="1.1"/>
<text x="906.7" y="664.8" font-size="12.5" text-anchor="middle" fill="#231815" style="font-family:'Liberation Sans',sans-serif">31</text>
<line x1="896.7" y1="676.7" x2="944.3" y2="676.7" stroke="#2e2a29" stroke-width="1.1"/>
<line x1="896.7" y1="700.7" x2="944.3" y2="700.7" stroke="#2e2a29" stroke-width="1.1"/>
<line x1="916.7" y1="676.7" x2="916.7" y2="700.7" stroke="#2e2a29" stroke-width="1.1"/>
<line x1="921.7" y1="676.7" x2="921.7" y2="700.7" stroke="#2e2a29" stroke-width="1.1"/>
<line x1="944.3" y1="676.7" x2="944.3" y2="700.7" stroke="#2e2a29" stroke-width="1.1"/>
<circle cx="933" cy="688.7" r="10.7" fill="none" stroke="#2e2a29" stroke-width="1.1"/>
<path d="M931.29,678.14V686.99M931.29,690.41V699.26M934.71,678.14V686.99M934.71,690.41V699.26M922.44,686.99H931.29M934.71,686.99H943.56M922.44,690.41H931.29M934.71,690.41H943.56" fill="none" stroke="#2e2a29" stroke-width="1.1"/>
<text x="906.7" y="693.2" font-size="12.5" text-anchor="middle" fill="#231815" style="font-family:'Liberation Sans',sans-serif">32</text>
<line x1="896.7" y1="708.3" x2="944.3" y2="708.3" stroke="#2e2a29" stroke-width="1.1"/>
<line x1="896.7" y1="732.3" x2="944.3" y2="732.3" stroke="#2e2a29" stroke-width="1.1"/>
<line x1="916.7" y1="708.3" x2="916.7" y2="732.3" stroke="#2e2a29" stroke-width="1.1"/>
<line x1="921.7" y1="708.3" x2="921.7" y2="732.3" stroke="#2e2a29" stroke-width="1.1"/>
<line x1="944.3" y1="708.3" x2="944.3" y2="732.3" stroke="#2e2a29" stroke-width="1.1"/>
<circle cx="933" cy="720.3" r="10.7" fill="none" stroke="#2e2a29" stroke-width="1.1"/>
<path d="M931.29,709.74V718.59M931.29,722.01V730.86M934.71,709.74V718.59M934.71,722.01V730.86M922.44,718.59H931.29M934.71,718.59H943.56M922.44,722.01H931.29M934.71,722.01H943.56" fill="none" stroke="#2e2a29" stroke-width="1.1"/>
<text x="906.7" y="724.8" font-size="12.5" text-anchor="middle" fill="#231815" style="font-family:'Liberation Sans',sans-serif">31</text>
<line x1="896.7" y1="736" x2="944.3" y2="736" stroke="#2e2a29" stroke-width="1.1"/>
<line x1="896.7" y1="760" x2="944.3" y2="760" stroke="#2e2a29" stroke-width="1.1"/>
<line x1="916.7" y1="736" x2="916.7" y2="760" stroke="#2e2a29" stroke-width="1.1"/>
<line x1="921.7" y1="736" x2="921.7" y2="760" stroke="#2e2a29" stroke-width="1.1"/>
<line x1="944.3" y1="736" x2="944.3" y2="760" stroke="#2e2a29" stroke-width="1.1"/>
<circle cx="933" cy="748" r="10.7" fill="none" stroke="#2e2a29" stroke-width="1.1"/>
<path d="M931.29,737.44V746.29M931.29,749.71V758.56M934.71,737.44V746.29M934.71,749.71V758.56M922.44,746.29H931.29M934.71,746.29H943.56M922.44,749.71H931.29M934.71,749.71H943.56" fill="none" stroke="#2e2a29" stroke-width="1.1"/>
<text x="906.7" y="752.5" font-size="12.5" text-anchor="middle" fill="#231815" style="font-family:'Liberation Sans',sans-serif">32</text>
<polyline points="870.7,595.3 891.2,595.3 891.2,624.6 870.7,624.6" fill="none" stroke="#231815" stroke-width="1.2"/>
<polygon points="869.2,595.3 874.7,592.9 874.7,597.7" fill="#231815" stroke="none" stroke-width="1"/>
<polygon points="869.2,624.6 874.7,622.2 874.7,627" fill="#231815" stroke="none" stroke-width="1"/>
<circle cx="891.2" cy="610.2" r="4.2" fill="none" stroke="#231815" stroke-width="1.1"/>
<polygon points="891.2,613.2 889.2,609.7 893.2,609.7" fill="#231815" stroke="none" stroke-width="1"/>
<line x1="895.4" y1="610.2" x2="896.7" y2="610.2" stroke="#2e2a29" stroke-width="1.1"/>
<text x="878.2" y="591.5" font-size="13" text-anchor="middle" fill="#231815" style="font-family:'Liberation Sans',sans-serif" stroke="#231815" stroke-width="0.3">+</text>
<line x1="874.7" y1="631.6" x2="881.7" y2="631.6" stroke="#231815" stroke-width="1.3"/>
<text x="862.7" y="614" font-size="10.5" text-anchor="middle" textLength="13.5" lengthAdjust="spacingAndGlyphs" fill="#231815" style="font-family:'Liberation Sans',sans-serif" stroke="#231815" stroke-width="0.3">mA</text>
<polyline points="866.2,660 887.5,660 887.5,672.5" fill="none" stroke="#231815" stroke-width="1.2"/>
<polyline points="887.5,676.5 887.5,689.2 866.2,689.2" fill="none" stroke="#231815" stroke-width="1.2"/>
<polygon points="864.7,660 870.2,657.6 870.2,662.4" fill="#231815" stroke="none" stroke-width="1"/>
<polygon points="864.7,689.2 870.2,686.8 870.2,691.6" fill="#231815" stroke="none" stroke-width="1"/>
<line x1="883.7" y1="672.5" x2="891.3" y2="672.5" stroke="#231815" stroke-width="1.1"/>
<line x1="885.7" y1="676.1" x2="889.3" y2="676.1" stroke="#231815" stroke-width="1.8"/>
<text x="873.2" y="656.3" font-size="13" text-anchor="middle" fill="#231815" style="font-family:'Liberation Sans',sans-serif" stroke="#231815" stroke-width="0.3">+</text>
<line x1="869.7" y1="696.9" x2="876.7" y2="696.9" stroke="#231815" stroke-width="1.3"/>
<text x="862.2" y="679.3" font-size="11.5" text-anchor="middle" textLength="7" lengthAdjust="spacingAndGlyphs" fill="#231815" style="font-family:'Liberation Sans',sans-serif" stroke="#231815" stroke-width="0.3">V</text>
<polyline points="896.7,719.8 880,719.8 880,727.3" fill="none" stroke="#231815" stroke-width="1.1"/>
<circle cx="880" cy="727.3" r="1.4" fill="#231815"/>
<line x1="876" y1="735.3" x2="880" y2="727.8" stroke="#231815" stroke-width="1.2"/>
<circle cx="880" cy="737.4" r="1.4" fill="#231815"/>
<polyline points="880,737.4 880,747.7 896.7,747.7" fill="none" stroke="#231815" stroke-width="1.1"/>
<text x="865.7" y="738.9" font-size="12" text-anchor="middle" textLength="14" lengthAdjust="spacingAndGlyphs" fill="#231815" style="font-family:'Liberation Sans',sans-serif" stroke="#231815" stroke-width="0.3">NO</text>
<rect x="29" y="497.2" width="198.3" height="115.8" fill="none" stroke="#231815" stroke-width="2"/>
<line x1="29" y1="519" x2="227.3" y2="519" stroke="#231815" stroke-width="1.3"/>
<line x1="127.6" y1="519" x2="127.6" y2="613" stroke="#231815" stroke-width="1.3"/>
<line x1="127.6" y1="497.2" x2="127.6" y2="519" stroke="#231815" stroke-width="1.3"/>
<text x="77" y="514.8" font-size="15.5" text-anchor="middle" font-weight="300" letter-spacing="1.3" fill="#3a3636" style="font-family:'Liberation Serif',serif">报警<tspan font-size="18.29" letter-spacing="0">1</tspan></text>
<text x="176.5" y="514.8" font-size="15.5" text-anchor="middle" font-weight="300" letter-spacing="1.3" fill="#3a3636" style="font-family:'Liberation Serif',serif">报警<tspan font-size="18.29" letter-spacing="0">2</tspan></text>
<line x1="63.1" y1="525.6" x2="111.7" y2="525.6" stroke="#2e2a29" stroke-width="1.1"/>
<line x1="63.1" y1="549.6" x2="111.7" y2="549.6" stroke="#2e2a29" stroke-width="1.1"/>
<line x1="81.5" y1="525.6" x2="81.5" y2="549.6" stroke="#2e2a29" stroke-width="1.1"/>
<line x1="88.2" y1="525.6" x2="88.2" y2="549.6" stroke="#2e2a29" stroke-width="1.1"/>
<line x1="111.7" y1="525.6" x2="111.7" y2="549.6" stroke="#2e2a29" stroke-width="1.1"/>
<circle cx="99.95" cy="537.6" r="11.15" fill="none" stroke="#2e2a29" stroke-width="1.1"/>
<path d="M98.17,526.59V535.82M98.17,539.38V548.61M101.73,526.59V535.82M101.73,539.38V548.61M88.94,535.82H98.17M101.73,535.82H110.96M88.94,539.38H98.17M101.73,539.38H110.96" fill="none" stroke="#2e2a29" stroke-width="1.1"/>
<text x="72.3" y="542.1" font-size="12.5" text-anchor="middle" fill="#231815" style="font-family:'Liberation Sans',sans-serif">1</text>
<line x1="63.1" y1="554.6" x2="111.7" y2="554.6" stroke="#2e2a29" stroke-width="1.1"/>
<line x1="63.1" y1="578.6" x2="111.7" y2="578.6" stroke="#2e2a29" stroke-width="1.1"/>
<line x1="81.5" y1="554.6" x2="81.5" y2="578.6" stroke="#2e2a29" stroke-width="1.1"/>
<line x1="88.2" y1="554.6" x2="88.2" y2="578.6" stroke="#2e2a29" stroke-width="1.1"/>
<line x1="111.7" y1="554.6" x2="111.7" y2="578.6" stroke="#2e2a29" stroke-width="1.1"/>
<circle cx="99.95" cy="566.6" r="11.15" fill="none" stroke="#2e2a29" stroke-width="1.1"/>
<path d="M98.17,555.59V564.82M98.17,568.38V577.61M101.73,555.59V564.82M101.73,568.38V577.61M88.94,564.82H98.17M101.73,564.82H110.96M88.94,568.38H98.17M101.73,568.38H110.96" fill="none" stroke="#2e2a29" stroke-width="1.1"/>
<text x="72.3" y="571.1" font-size="12.5" text-anchor="middle" fill="#231815" style="font-family:'Liberation Sans',sans-serif">2</text>
<line x1="63.1" y1="583.1" x2="111.7" y2="583.1" stroke="#2e2a29" stroke-width="1.1"/>
<line x1="63.1" y1="607.1" x2="111.7" y2="607.1" stroke="#2e2a29" stroke-width="1.1"/>
<line x1="81.5" y1="583.1" x2="81.5" y2="607.1" stroke="#2e2a29" stroke-width="1.1"/>
<line x1="88.2" y1="583.1" x2="88.2" y2="607.1" stroke="#2e2a29" stroke-width="1.1"/>
<line x1="111.7" y1="583.1" x2="111.7" y2="607.1" stroke="#2e2a29" stroke-width="1.1"/>
<circle cx="99.95" cy="595.1" r="11.15" fill="none" stroke="#2e2a29" stroke-width="1.1"/>
<path d="M98.17,584.09V593.32M98.17,596.88V606.11M101.73,584.09V593.32M101.73,596.88V606.11M88.94,593.32H98.17M101.73,593.32H110.96M88.94,596.88H98.17M101.73,596.88H110.96" fill="none" stroke="#2e2a29" stroke-width="1.1"/>
<text x="72.3" y="599.6" font-size="12.5" text-anchor="middle" fill="#231815" style="font-family:'Liberation Sans',sans-serif">3</text>
<polyline points="63.1,538.5 45.3,538.5 45.3,547.7" fill="none" stroke="#231815" stroke-width="1.1"/>
<line x1="45.3" y1="548.8" x2="39.3" y2="556.6" stroke="#231815" stroke-width="1.2"/>
<circle cx="45.3" cy="547.7" r="1.3" fill="#f7f7f7" stroke="#231815" stroke-width="0.9"/>
<circle cx="45.3" cy="558.7" r="1.3" fill="#f7f7f7" stroke="#231815" stroke-width="0.9"/>
<polyline points="45.3,558.7 45.3,575.6" fill="none" stroke="#231815" stroke-width="1.1"/>
<line x1="45.3" y1="567.4" x2="63.1" y2="567.4" stroke="#231815" stroke-width="1.1"/>
<line x1="45.3" y1="576.6" x2="43.5" y2="584.6" stroke="#231815" stroke-width="1.2"/>
<circle cx="45.3" cy="575.6" r="1.3" fill="#f7f7f7" stroke="#231815" stroke-width="0.9"/>
<polyline points="45.3,583.1 45.3,595.9 63.1,595.9" fill="none" stroke="#231815" stroke-width="1.1"/>
<text x="55.6" y="556.2" font-size="12" text-anchor="middle" textLength="12.3" lengthAdjust="spacingAndGlyphs" fill="#231815" style="font-family:'Liberation Sans',sans-serif" stroke="#231815" stroke-width="0.25">NO</text>
<text x="55.6" y="584.9" font-size="12" text-anchor="middle" textLength="12.3" lengthAdjust="spacingAndGlyphs" fill="#231815" style="font-family:'Liberation Sans',sans-serif" stroke="#231815" stroke-width="0.25">NC</text>
<line x1="163.1" y1="524.6" x2="211.7" y2="524.6" stroke="#2e2a29" stroke-width="1.1"/>
<line x1="163.1" y1="548.6" x2="211.7" y2="548.6" stroke="#2e2a29" stroke-width="1.1"/>
<line x1="181.5" y1="524.6" x2="181.5" y2="548.6" stroke="#2e2a29" stroke-width="1.1"/>
<line x1="188.2" y1="524.6" x2="188.2" y2="548.6" stroke="#2e2a29" stroke-width="1.1"/>
<line x1="211.7" y1="524.6" x2="211.7" y2="548.6" stroke="#2e2a29" stroke-width="1.1"/>
<circle cx="199.95" cy="536.6" r="11.15" fill="none" stroke="#2e2a29" stroke-width="1.1"/>
<path d="M198.17,525.59V534.82M198.17,538.38V547.61M201.73,525.59V534.82M201.73,538.38V547.61M188.94,534.82H198.17M201.73,534.82H210.96M188.94,538.38H198.17M201.73,538.38H210.96" fill="none" stroke="#2e2a29" stroke-width="1.1"/>
<text x="172.3" y="541.1" font-size="12.5" text-anchor="middle" fill="#231815" style="font-family:'Liberation Sans',sans-serif">4</text>
<line x1="163.1" y1="553.6" x2="211.7" y2="553.6" stroke="#2e2a29" stroke-width="1.1"/>
<line x1="163.1" y1="577.6" x2="211.7" y2="577.6" stroke="#2e2a29" stroke-width="1.1"/>
<line x1="181.5" y1="553.6" x2="181.5" y2="577.6" stroke="#2e2a29" stroke-width="1.1"/>
<line x1="188.2" y1="553.6" x2="188.2" y2="577.6" stroke="#2e2a29" stroke-width="1.1"/>
<line x1="211.7" y1="553.6" x2="211.7" y2="577.6" stroke="#2e2a29" stroke-width="1.1"/>
<circle cx="199.95" cy="565.6" r="11.15" fill="none" stroke="#2e2a29" stroke-width="1.1"/>
<path d="M198.17,554.59V563.82M198.17,567.38V576.61M201.73,554.59V563.82M201.73,567.38V576.61M188.94,563.82H198.17M201.73,563.82H210.96M188.94,567.38H198.17M201.73,567.38H210.96" fill="none" stroke="#2e2a29" stroke-width="1.1"/>
<text x="172.3" y="570.1" font-size="12.5" text-anchor="middle" fill="#231815" style="font-family:'Liberation Sans',sans-serif">5</text>
<line x1="163.1" y1="582.3" x2="211.7" y2="582.3" stroke="#2e2a29" stroke-width="1.1"/>
<line x1="163.1" y1="606.3" x2="211.7" y2="606.3" stroke="#2e2a29" stroke-width="1.1"/>
<line x1="181.5" y1="582.3" x2="181.5" y2="606.3" stroke="#2e2a29" stroke-width="1.1"/>
<line x1="188.2" y1="582.3" x2="188.2" y2="606.3" stroke="#2e2a29" stroke-width="1.1"/>
<line x1="211.7" y1="582.3" x2="211.7" y2="606.3" stroke="#2e2a29" stroke-width="1.1"/>
<circle cx="199.95" cy="594.3" r="11.15" fill="none" stroke="#2e2a29" stroke-width="1.1"/>
<path d="M198.17,583.29V592.52M198.17,596.08V605.31M201.73,583.29V592.52M201.73,596.08V605.31M188.94,592.52H198.17M201.73,592.52H210.96M188.94,596.08H198.17M201.73,596.08H210.96" fill="none" stroke="#2e2a29" stroke-width="1.1"/>
<text x="172.3" y="598.8" font-size="12.5" text-anchor="middle" fill="#231815" style="font-family:'Liberation Sans',sans-serif">6</text>
<polyline points="163.1,537.5 145.3,537.5 145.3,546.7" fill="none" stroke="#231815" stroke-width="1.1"/>
<line x1="145.3" y1="547.8" x2="139.3" y2="555.6" stroke="#231815" stroke-width="1.2"/>
<circle cx="145.3" cy="546.7" r="1.3" fill="#f7f7f7" stroke="#231815" stroke-width="0.9"/>
<circle cx="145.3" cy="557.7" r="1.3" fill="#f7f7f7" stroke="#231815" stroke-width="0.9"/>
<polyline points="145.3,557.7 145.3,574.6" fill="none" stroke="#231815" stroke-width="1.1"/>
<line x1="145.3" y1="566.4" x2="163.1" y2="566.4" stroke="#231815" stroke-width="1.1"/>
<line x1="145.3" y1="575.6" x2="143.5" y2="583.6" stroke="#231815" stroke-width="1.2"/>
<circle cx="145.3" cy="574.6" r="1.3" fill="#f7f7f7" stroke="#231815" stroke-width="0.9"/>
<polyline points="145.3,582.1 145.3,594.9 163.1,594.9" fill="none" stroke="#231815" stroke-width="1.1"/>
<text x="155.6" y="555.2" font-size="12" text-anchor="middle" textLength="12.3" lengthAdjust="spacingAndGlyphs" fill="#231815" style="font-family:'Liberation Sans',sans-serif" stroke="#231815" stroke-width="0.25">NO</text>
<text x="155.6" y="583.9" font-size="12" text-anchor="middle" textLength="12.3" lengthAdjust="spacingAndGlyphs" fill="#231815" style="font-family:'Liberation Sans',sans-serif" stroke="#231815" stroke-width="0.25">NC</text>
<rect x="29.6" y="622" width="198.4" height="104.5" fill="none" stroke="#231815" stroke-width="2"/>
<line x1="29.6" y1="644" x2="228" y2="644" stroke="#231815" stroke-width="1.3"/>
<text x="128.5" y="639.5" font-size="15.5" text-anchor="middle" font-weight="300" letter-spacing="3.2" fill="#3a3636" style="font-family:'Liberation Serif',serif">馈电输出</text>
<line x1="77" y1="657.7" x2="124.9" y2="657.7" stroke="#2e2a29" stroke-width="1.1"/>
<line x1="77" y1="681.7" x2="124.9" y2="681.7" stroke="#2e2a29" stroke-width="1.1"/>
<line x1="95.3" y1="657.7" x2="95.3" y2="681.7" stroke="#2e2a29" stroke-width="1.1"/>
<line x1="101.5" y1="657.7" x2="101.5" y2="681.7" stroke="#2e2a29" stroke-width="1.1"/>
<line x1="124.9" y1="657.7" x2="124.9" y2="681.7" stroke="#2e2a29" stroke-width="1.1"/>
<circle cx="113.2" cy="669.7" r="11.1" fill="none" stroke="#2e2a29" stroke-width="1.1"/>
<path d="M111.42,658.74V667.92M111.42,671.48V680.66M114.98,658.74V667.92M114.98,671.48V680.66M102.24,667.92H111.42M114.98,667.92H124.16M102.24,671.48H111.42M114.98,671.48H124.16" fill="none" stroke="#2e2a29" stroke-width="1.1"/>
<text x="89.5" y="674.2" font-size="12.5" text-anchor="middle" fill="#231815" style="font-family:'Liberation Sans',sans-serif">7</text>
<line x1="77" y1="686.3" x2="124.9" y2="686.3" stroke="#2e2a29" stroke-width="1.1"/>
<line x1="77" y1="710.3" x2="124.9" y2="710.3" stroke="#2e2a29" stroke-width="1.1"/>
<line x1="95.3" y1="686.3" x2="95.3" y2="710.3" stroke="#2e2a29" stroke-width="1.1"/>
<line x1="101.5" y1="686.3" x2="101.5" y2="710.3" stroke="#2e2a29" stroke-width="1.1"/>
<line x1="124.9" y1="686.3" x2="124.9" y2="710.3" stroke="#2e2a29" stroke-width="1.1"/>
<circle cx="113.2" cy="698.3" r="11.1" fill="none" stroke="#2e2a29" stroke-width="1.1"/>
<path d="M111.42,687.34V696.52M111.42,700.08V709.26M114.98,687.34V696.52M114.98,700.08V709.26M102.24,696.52H111.42M114.98,696.52H124.16M102.24,700.08H111.42M114.98,700.08H124.16" fill="none" stroke="#2e2a29" stroke-width="1.1"/>
<text x="89.5" y="702.8" font-size="12.5" text-anchor="middle" fill="#231815" style="font-family:'Liberation Sans',sans-serif">8</text>
<circle cx="60.7" cy="669.4" r="2.4" fill="#231815"/>
<line x1="60.7" y1="669.4" x2="79.5" y2="669.4" stroke="#231815" stroke-width="2"/>
<circle cx="60.7" cy="698" r="2.4" fill="#231815"/>
<line x1="60.7" y1="698" x2="79.5" y2="698" stroke="#231815" stroke-width="2"/>
<text x="68.7" y="664.2" font-size="13" text-anchor="middle" fill="#231815" style="font-family:'Liberation Sans',sans-serif">+</text>
<line x1="65.7" y1="704.1" x2="71.7" y2="704.1" stroke="#231815" stroke-width="1.3"/>
<text x="51.2" y="689.2" font-size="12.5" text-anchor="middle" textLength="13" lengthAdjust="spacingAndGlyphs" fill="#231815" style="font-family:'Liberation Sans',sans-serif" stroke="#231815" stroke-width="0.25">1P</text>
<line x1="168.4" y1="657.7" x2="216.3" y2="657.7" stroke="#2e2a29" stroke-width="1.1"/>
<line x1="168.4" y1="681.7" x2="216.3" y2="681.7" stroke="#2e2a29" stroke-width="1.1"/>
<line x1="186.7" y1="657.7" x2="186.7" y2="681.7" stroke="#2e2a29" stroke-width="1.1"/>
<line x1="192.9" y1="657.7" x2="192.9" y2="681.7" stroke="#2e2a29" stroke-width="1.1"/>
<line x1="216.3" y1="657.7" x2="216.3" y2="681.7" stroke="#2e2a29" stroke-width="1.1"/>
<circle cx="204.6" cy="669.7" r="11.1" fill="none" stroke="#2e2a29" stroke-width="1.1"/>
<path d="M202.82,658.74V667.92M202.82,671.48V680.66M206.38,658.74V667.92M206.38,671.48V680.66M193.64,667.92H202.82M206.38,667.92H215.56M193.64,671.48H202.82M206.38,671.48H215.56" fill="none" stroke="#2e2a29" stroke-width="1.1"/>
<text x="180.9" y="674.2" font-size="12.5" text-anchor="middle" fill="#231815" style="font-family:'Liberation Sans',sans-serif">9</text>
<line x1="168.4" y1="686.3" x2="216.3" y2="686.3" stroke="#2e2a29" stroke-width="1.1"/>
<line x1="168.4" y1="710.3" x2="216.3" y2="710.3" stroke="#2e2a29" stroke-width="1.1"/>
<line x1="186.7" y1="686.3" x2="186.7" y2="710.3" stroke="#2e2a29" stroke-width="1.1"/>
<line x1="192.9" y1="686.3" x2="192.9" y2="710.3" stroke="#2e2a29" stroke-width="1.1"/>
<line x1="216.3" y1="686.3" x2="216.3" y2="710.3" stroke="#2e2a29" stroke-width="1.1"/>
<circle cx="204.6" cy="698.3" r="11.1" fill="none" stroke="#2e2a29" stroke-width="1.1"/>
<path d="M202.82,687.34V696.52M202.82,700.08V709.26M206.38,687.34V696.52M206.38,700.08V709.26M193.64,696.52H202.82M206.38,696.52H215.56M193.64,700.08H202.82M206.38,700.08H215.56" fill="none" stroke="#2e2a29" stroke-width="1.1"/>
<text x="180.9" y="702.8" font-size="12.5" text-anchor="middle" fill="#231815" style="font-family:'Liberation Sans',sans-serif">10</text>
<circle cx="151.4" cy="669.4" r="2.4" fill="#231815"/>
<line x1="151.4" y1="669.4" x2="170.9" y2="669.4" stroke="#231815" stroke-width="2"/>
<circle cx="151.4" cy="698" r="2.4" fill="#231815"/>
<line x1="151.4" y1="698" x2="169.4" y2="698" stroke="#231815" stroke-width="2"/>
<text x="159.4" y="664.2" font-size="13" text-anchor="middle" fill="#231815" style="font-family:'Liberation Sans',sans-serif">+</text>
<line x1="156.4" y1="704.1" x2="162.4" y2="704.1" stroke="#231815" stroke-width="1.3"/>
<text x="145.7" y="689.2" font-size="12.5" text-anchor="middle" textLength="13" lengthAdjust="spacingAndGlyphs" fill="#231815" style="font-family:'Liberation Sans',sans-serif" stroke="#231815" stroke-width="0.25">2P</text>
<rect x="31.1" y="735.1" width="197.8" height="105.5" fill="none" stroke="#231815" stroke-width="2"/>
<line x1="31.1" y1="757.1" x2="228.9" y2="757.1" stroke="#231815" stroke-width="1.3"/>
<line x1="129.6" y1="735.1" x2="129.6" y2="840.6" stroke="#231815" stroke-width="1.3"/>
<text x="78.2" y="751.8" font-size="15.5" text-anchor="middle" textLength="62.4" lengthAdjust="spacingAndGlyphs" fill="#231815" style="font-family:'Liberation Sans',sans-serif" stroke="#231815" stroke-width="0.3">Power/D</text>
<text x="174.1" y="751.8" font-size="15.5" text-anchor="middle" textLength="62.2" lengthAdjust="spacingAndGlyphs" fill="#231815" style="font-family:'Liberation Sans',sans-serif" stroke="#231815" stroke-width="0.3">Power/A</text>
<line x1="69.2" y1="768.1" x2="125.3" y2="768.1" stroke="#2e2a29" stroke-width="1.1"/>
<line x1="69.2" y1="795.9" x2="125.3" y2="795.9" stroke="#2e2a29" stroke-width="1.1"/>
<line x1="90.2" y1="768.1" x2="90.2" y2="795.9" stroke="#2e2a29" stroke-width="1.1"/>
<line x1="97.6" y1="768.1" x2="97.6" y2="795.9" stroke="#2e2a29" stroke-width="1.1"/>
<line x1="125.3" y1="768.1" x2="125.3" y2="795.9" stroke="#2e2a29" stroke-width="1.1"/>
<circle cx="111.45" cy="782" r="13.25" fill="none" stroke="#2e2a29" stroke-width="1.1"/>
<path d="M109.33,768.92V779.88M109.33,784.12V795.08M113.57,768.92V779.88M113.57,784.12V795.08M98.37,779.88H109.33M113.57,779.88H124.53M98.37,784.12H109.33M113.57,784.12H124.53" fill="none" stroke="#2e2a29" stroke-width="1.1"/>
<text x="81.3" y="787.04" font-size="14" text-anchor="middle" fill="#231815" style="font-family:'Liberation Sans',sans-serif">11</text>
<line x1="69.2" y1="801.6" x2="125.3" y2="801.6" stroke="#2e2a29" stroke-width="1.1"/>
<line x1="69.2" y1="829.4" x2="125.3" y2="829.4" stroke="#2e2a29" stroke-width="1.1"/>
<line x1="90.2" y1="801.6" x2="90.2" y2="829.4" stroke="#2e2a29" stroke-width="1.1"/>
<line x1="97.6" y1="801.6" x2="97.6" y2="829.4" stroke="#2e2a29" stroke-width="1.1"/>
<line x1="125.3" y1="801.6" x2="125.3" y2="829.4" stroke="#2e2a29" stroke-width="1.1"/>
<circle cx="111.45" cy="815.5" r="13.25" fill="none" stroke="#2e2a29" stroke-width="1.1"/>
<path d="M109.33,802.42V813.38M109.33,817.62V828.58M113.57,802.42V813.38M113.57,817.62V828.58M98.37,813.38H109.33M113.57,813.38H124.53M98.37,817.62H109.33M113.57,817.62H124.53" fill="none" stroke="#2e2a29" stroke-width="1.1"/>
<text x="81.3" y="820.54" font-size="14" text-anchor="middle" fill="#231815" style="font-family:'Liberation Sans',sans-serif">12</text>
<line x1="164.4" y1="770.1" x2="220.7" y2="770.1" stroke="#2e2a29" stroke-width="1.1"/>
<line x1="164.4" y1="798.1" x2="220.7" y2="798.1" stroke="#2e2a29" stroke-width="1.1"/>
<line x1="185.6" y1="770.1" x2="185.6" y2="798.1" stroke="#2e2a29" stroke-width="1.1"/>
<line x1="192.8" y1="770.1" x2="192.8" y2="798.1" stroke="#2e2a29" stroke-width="1.1"/>
<line x1="220.7" y1="770.1" x2="220.7" y2="798.1" stroke="#2e2a29" stroke-width="1.1"/>
<circle cx="206.75" cy="784.1" r="13.35" fill="none" stroke="#2e2a29" stroke-width="1.1"/>
<path d="M204.61,770.92V781.96M204.61,786.24V797.28M208.89,770.92V781.96M208.89,786.24V797.28M193.57,781.96H204.61M208.89,781.96H219.93M193.57,786.24H204.61M208.89,786.24H219.93" fill="none" stroke="#2e2a29" stroke-width="1.1"/>
<text x="175.8" y="789.14" font-size="14" text-anchor="middle" fill="#231815" style="font-family:'Liberation Sans',sans-serif">11</text>
<line x1="164.4" y1="803.1" x2="220.7" y2="803.1" stroke="#2e2a29" stroke-width="1.1"/>
<line x1="164.4" y1="831.1" x2="220.7" y2="831.1" stroke="#2e2a29" stroke-width="1.1"/>
<line x1="185.6" y1="803.1" x2="185.6" y2="831.1" stroke="#2e2a29" stroke-width="1.1"/>
<line x1="192.8" y1="803.1" x2="192.8" y2="831.1" stroke="#2e2a29" stroke-width="1.1"/>
<line x1="220.7" y1="803.1" x2="220.7" y2="831.1" stroke="#2e2a29" stroke-width="1.1"/>
<circle cx="206.75" cy="817.1" r="13.35" fill="none" stroke="#2e2a29" stroke-width="1.1"/>
<path d="M204.61,803.92V814.96M204.61,819.24V830.28M208.89,803.92V814.96M208.89,819.24V830.28M193.57,814.96H204.61M208.89,814.96H219.93M193.57,819.24H204.61M208.89,819.24H219.93" fill="none" stroke="#2e2a29" stroke-width="1.1"/>
<text x="175.8" y="822.14" font-size="14" text-anchor="middle" fill="#231815" style="font-family:'Liberation Sans',sans-serif">12</text>
<circle cx="38.7" cy="783.5" r="2.6" fill="#231815"/>
<line x1="38.7" y1="783.5" x2="68.2" y2="783.5" stroke="#231815" stroke-width="1.6"/>
<circle cx="38.7" cy="816.1" r="2.6" fill="#231815"/>
<line x1="38.7" y1="816.1" x2="68.2" y2="816.1" stroke="#231815" stroke-width="1.6"/>
<line x1="43" y1="772.2" x2="50" y2="772.2" stroke="#231815" stroke-width="1.3"/>
<text x="46.5" y="831" font-size="13" text-anchor="middle" fill="#231815" style="font-family:'Liberation Sans',sans-serif">+</text>
<circle cx="140.9" cy="786" r="2.6" fill="#231815"/>
<line x1="140.9" y1="786" x2="170.2" y2="786" stroke="#231815" stroke-width="1.6"/>
<circle cx="140.9" cy="818.1" r="2.6" fill="#231815"/>
<line x1="140.9" y1="818.1" x2="170.2" y2="818.1" stroke="#231815" stroke-width="1.6"/>
<text x="152" y="781.6" font-size="18.5" text-anchor="middle" textLength="7.7" lengthAdjust="spacingAndGlyphs" fill="#231815" style="font-family:'Liberation Sans',sans-serif">L</text>
<text x="152.6" y="835" font-size="17.5" text-anchor="middle" textLength="8.3" lengthAdjust="spacingAndGlyphs" fill="#231815" style="font-family:'Liberation Sans',sans-serif">N</text>
<rect x="31.7" y="848.1" width="197.8" height="156.6" fill="none" stroke="#231815" stroke-width="2"/>
<line x1="31.7" y1="873.8" x2="229.5" y2="873.8" stroke="#231815" stroke-width="1.3"/>
<text x="33.5" y="869" font-size="16.5" font-weight="300" letter-spacing="3" fill="#3a3636" style="font-family:'Liberation Serif',serif">二线制变送器接线方法</text>
<line x1="48.2" y1="884.6" x2="100.5" y2="884.6" stroke="#2e2a29" stroke-width="1.1"/>
<line x1="48.2" y1="908.6" x2="100.5" y2="908.6" stroke="#2e2a29" stroke-width="1.1"/>
<line x1="68.2" y1="884.6" x2="68.2" y2="908.6" stroke="#2e2a29" stroke-width="1.1"/>
<line x1="74.4" y1="884.6" x2="74.4" y2="908.6" stroke="#2e2a29" stroke-width="1.1"/>
<line x1="100.5" y1="884.6" x2="100.5" y2="908.6" stroke="#2e2a29" stroke-width="1.1"/>
<circle cx="87.45" cy="896.6" r="11.4" fill="none" stroke="#2e2a29" stroke-width="1.1"/>
<path d="M85.63,885.35V894.78M85.63,898.42V907.85M89.27,885.35V894.78M89.27,898.42V907.85M76.2,894.78H85.63M89.27,894.78H98.7M76.2,898.42H85.63M89.27,898.42H98.7" fill="none" stroke="#2e2a29" stroke-width="1.1"/>
<text x="57.5" y="901.28" font-size="13" text-anchor="middle" fill="#231815" style="font-family:'Liberation Sans',sans-serif">22</text>
<line x1="48.2" y1="913.4" x2="100.5" y2="913.4" stroke="#2e2a29" stroke-width="1.1"/>
<line x1="48.2" y1="937.4" x2="100.5" y2="937.4" stroke="#2e2a29" stroke-width="1.1"/>
<line x1="68.2" y1="913.4" x2="68.2" y2="937.4" stroke="#2e2a29" stroke-width="1.1"/>
<line x1="74.4" y1="913.4" x2="74.4" y2="937.4" stroke="#2e2a29" stroke-width="1.1"/>
<line x1="100.5" y1="913.4" x2="100.5" y2="937.4" stroke="#2e2a29" stroke-width="1.1"/>
<circle cx="87.45" cy="925.4" r="11.4" fill="none" stroke="#2e2a29" stroke-width="1.1"/>
<path d="M85.63,914.15V923.58M85.63,927.22V936.65M89.27,914.15V923.58M89.27,927.22V936.65M76.2,923.58H85.63M89.27,923.58H98.7M76.2,927.22H85.63M89.27,927.22H98.7" fill="none" stroke="#2e2a29" stroke-width="1.1"/>
<text x="57.5" y="930.08" font-size="13" text-anchor="middle" fill="#231815" style="font-family:'Liberation Sans',sans-serif">24</text>
<line x1="48.2" y1="941.8" x2="100.5" y2="941.8" stroke="#2e2a29" stroke-width="1.1"/>
<line x1="48.2" y1="965.8" x2="100.5" y2="965.8" stroke="#2e2a29" stroke-width="1.1"/>
<line x1="68.2" y1="941.8" x2="68.2" y2="965.8" stroke="#2e2a29" stroke-width="1.1"/>
<line x1="74.4" y1="941.8" x2="74.4" y2="965.8" stroke="#2e2a29" stroke-width="1.1"/>
<line x1="100.5" y1="941.8" x2="100.5" y2="965.8" stroke="#2e2a29" stroke-width="1.1"/>
<circle cx="87.45" cy="953.8" r="11.4" fill="none" stroke="#2e2a29" stroke-width="1.1"/>
<path d="M85.63,942.55V951.98M85.63,955.62V965.05M89.27,942.55V951.98M89.27,955.62V965.05M76.2,951.98H85.63M89.27,951.98H98.7M76.2,955.62H85.63M89.27,955.62H98.7" fill="none" stroke="#2e2a29" stroke-width="1.1"/>
<text x="60" y="958.48" font-size="13" text-anchor="middle" fill="#231815" style="font-family:'Liberation Sans',sans-serif">8</text>
<line x1="48.2" y1="970.3" x2="100.5" y2="970.3" stroke="#2e2a29" stroke-width="1.1"/>
<line x1="48.2" y1="994.3" x2="100.5" y2="994.3" stroke="#2e2a29" stroke-width="1.1"/>
<line x1="68.2" y1="970.3" x2="68.2" y2="994.3" stroke="#2e2a29" stroke-width="1.1"/>
<line x1="74.4" y1="970.3" x2="74.4" y2="994.3" stroke="#2e2a29" stroke-width="1.1"/>
<line x1="100.5" y1="970.3" x2="100.5" y2="994.3" stroke="#2e2a29" stroke-width="1.1"/>
<circle cx="87.45" cy="982.3" r="11.4" fill="none" stroke="#2e2a29" stroke-width="1.1"/>
<path d="M85.63,971.05V980.48M85.63,984.12V993.55M89.27,971.05V980.48M89.27,984.12V993.55M76.2,980.48H85.63M89.27,980.48H98.7M76.2,984.12H85.63M89.27,984.12H98.7" fill="none" stroke="#2e2a29" stroke-width="1.1"/>
<text x="60" y="986.98" font-size="13" text-anchor="middle" fill="#231815" style="font-family:'Liberation Sans',sans-serif">7</text>
<line x1="105.3" y1="896.5" x2="122.4" y2="896.5" stroke="#231815" stroke-width="1.3"/>
<circle cx="122.4" cy="896.5" r="2.2" fill="#231815"/>
<line x1="105.3" y1="925.4" x2="122.4" y2="925.4" stroke="#231815" stroke-width="1.3"/>
<circle cx="122.4" cy="925.4" r="2.2" fill="#231815"/>
<line x1="105.3" y1="953.8" x2="122.4" y2="953.8" stroke="#231815" stroke-width="1.3"/>
<circle cx="122.4" cy="953.8" r="2.2" fill="#231815"/>
<line x1="105.3" y1="982.6" x2="122.4" y2="982.6" stroke="#231815" stroke-width="1.3"/>
<circle cx="122.4" cy="982.6" r="2.2" fill="#231815"/>
<text x="109.4" y="892.5" font-size="12" text-anchor="middle" fill="#231815" style="font-family:'Liberation Sans',sans-serif">+</text>
<text x="118.4" y="915" font-size="10.5" text-anchor="middle" textLength="14.4" lengthAdjust="spacingAndGlyphs" fill="#231815" style="font-family:'Liberation Sans',sans-serif">mA</text>
<line x1="106" y1="932.6" x2="112" y2="932.6" stroke="#231815" stroke-width="1.2"/>
<line x1="106" y1="949" x2="112" y2="949" stroke="#231815" stroke-width="1.2"/>
<text x="113.5" y="974" font-size="12" text-anchor="middle" textLength="7" lengthAdjust="spacingAndGlyphs" fill="#231815" style="font-family:'Liberation Sans',sans-serif">P</text>
<text x="109.4" y="992.5" font-size="12" text-anchor="middle" fill="#231815" style="font-family:'Liberation Sans',sans-serif">+</text>
<polyline points="145,894.2 164.3,894.2 164.3,956.2 174.9,956.2" fill="none" stroke="#231815" stroke-width="1.1"/>
<polygon points="141.8,894.2 146.3,892.2 146.3,896.2" fill="#231815" stroke="none" stroke-width="1"/>
<polyline points="145,922.3 154.1,922.3 154.1,950.9 145,950.9" fill="none" stroke="#231815" stroke-width="1.1"/>
<polygon points="141.8,922.3 146.3,920.3 146.3,924.3" fill="#231815" stroke="none" stroke-width="1"/>
<polygon points="141.8,950.9 146.3,948.9 146.3,952.9" fill="#231815" stroke="none" stroke-width="1"/>
<polyline points="145,979.1 164.3,979.1 164.3,969.3 174.9,969.3" fill="none" stroke="#231815" stroke-width="1.1"/>
<polygon points="141.8,979.1 146.3,977.1 146.3,981.1" fill="#231815" stroke="none" stroke-width="1"/>
<circle cx="179.8" cy="962.5" r="15.4" fill="none" stroke="#231815" stroke-width="1.1"/>
<circle cx="179.8" cy="962.5" r="12.5" fill="none" stroke="#231815" stroke-width="1"/>
<path d="M166.3,974 V982 Q166.3,983.1 167.5,983.1 H192.7 Q193.9,983.1 193.9,982 V972" fill="none" stroke="#231815" stroke-width="1.1"/>
<line x1="181" y1="958" x2="186" y2="958" stroke="#231815" stroke-width="0.9"/>
<line x1="176.5" y1="964" x2="183" y2="964" stroke="#231815" stroke-width="1.3"/>
<text x="184.5" y="972.5" font-size="7.5" text-anchor="middle" fill="#231815" style="font-family:'Liberation Sans',sans-serif">+</text>
<line x1="175" y1="971" x2="179" y2="971" stroke="#231815" stroke-width="0.9"/>
<circle cx="174.9" cy="956.2" r="1.2" fill="none" stroke="#231815" stroke-width="0.8"/>
<circle cx="174.9" cy="969.3" r="1.2" fill="none" stroke="#231815" stroke-width="0.8"/>
<line x1="354.5" y1="518" x2="649" y2="518" stroke="#231815" stroke-width="2"/>
<line x1="354.5" y1="517" x2="354.5" y2="819.5" stroke="#231815" stroke-width="2"/>
<line x1="354.5" y1="818.7" x2="649" y2="818.7" stroke="#231815" stroke-width="2"/>
<line x1="649" y1="517" x2="649" y2="819.5" stroke="#231815" stroke-width="2"/>
<line x1="354.5" y1="520.1" x2="396.2" y2="520.1" stroke="#777" stroke-width="0.9"/>
<line x1="562" y1="520.1" x2="649" y2="520.1" stroke="#777" stroke-width="0.9"/>
<line x1="354.5" y1="521.5" x2="396.2" y2="521.5" stroke="#444" stroke-width="1"/>
<line x1="354.5" y1="542.3" x2="396.2" y2="542.3" stroke="#444" stroke-width="1"/>
<line x1="370" y1="521.5" x2="370" y2="542.3" stroke="#555" stroke-width="1.2"/>
<line x1="375.6" y1="521.5" x2="375.6" y2="542.3" stroke="#444" stroke-width="1"/>
<line x1="396.2" y1="521.5" x2="396.2" y2="542.3" stroke="#444" stroke-width="1"/>
<circle cx="385.9" cy="531.9" r="10" fill="none" stroke="#2e2a29" stroke-width="1"/>
<path d="M384.2,522.05V530.2M384.2,533.6V541.75M387.6,522.05V530.2M387.6,533.6V541.75M376.05,530.2H384.2M387.6,530.2H395.75M376.05,533.6H384.2M387.6,533.6H395.75" fill="none" stroke="#2e2a29" stroke-width="1"/>
<text x="362" y="536.3" font-size="12" text-anchor="middle" textLength="6.5" lengthAdjust="spacingAndGlyphs" fill="#2a2a2a" style="font-family:'Liberation Sans',sans-serif">1</text>
<line x1="562" y1="521.5" x2="649" y2="521.5" stroke="#444" stroke-width="1"/>
<line x1="562" y1="542.3" x2="649" y2="542.3" stroke="#444" stroke-width="1"/>
<line x1="577.7" y1="521.5" x2="577.7" y2="542.3" stroke="#444" stroke-width="1"/>
<line x1="583.5" y1="521.5" x2="583.5" y2="542.3" stroke="#444" stroke-width="1"/>
<line x1="604.2" y1="521.5" x2="604.2" y2="542.3" stroke="#444" stroke-width="1"/>
<line x1="607.4" y1="521.5" x2="607.4" y2="542.3" stroke="#444" stroke-width="1"/>
<line x1="628" y1="521.5" x2="628" y2="542.3" stroke="#444" stroke-width="1"/>
<line x1="633.5" y1="521.5" x2="633.5" y2="542.3" stroke="#444" stroke-width="1"/>
<circle cx="593.85" cy="531.9" r="10" fill="none" stroke="#2e2a29" stroke-width="1"/>
<path d="M592.15,522.05V530.2M592.15,533.6V541.75M595.55,522.05V530.2M595.55,533.6V541.75M584,530.2H592.15M595.55,530.2H603.7M584,533.6H592.15M595.55,533.6H603.7" fill="none" stroke="#2e2a29" stroke-width="1"/>
<circle cx="617.7" cy="531.9" r="10" fill="none" stroke="#2e2a29" stroke-width="1"/>
<path d="M616,522.05V530.2M616,533.6V541.75M619.4,522.05V530.2M619.4,533.6V541.75M607.85,530.2H616M619.4,530.2H627.55M607.85,533.6H616M619.4,533.6H627.55" fill="none" stroke="#2e2a29" stroke-width="1"/>
<text x="569.5" y="536.1" font-size="11.5" text-anchor="middle" textLength="12.5" lengthAdjust="spacingAndGlyphs" fill="#2a2a2a" style="font-family:'Liberation Sans',sans-serif">25</text>
<text x="641.5" y="536.1" font-size="11.5" text-anchor="middle" textLength="12.5" lengthAdjust="spacingAndGlyphs" fill="#2a2a2a" style="font-family:'Liberation Sans',sans-serif">13</text>
<line x1="354.5" y1="546.4" x2="396.2" y2="546.4" stroke="#444" stroke-width="1"/>
<line x1="354.5" y1="567.2" x2="396.2" y2="567.2" stroke="#444" stroke-width="1"/>
<line x1="370" y1="546.4" x2="370" y2="567.2" stroke="#555" stroke-width="1.2"/>
<line x1="375.6" y1="546.4" x2="375.6" y2="567.2" stroke="#444" stroke-width="1"/>
<line x1="396.2" y1="546.4" x2="396.2" y2="567.2" stroke="#444" stroke-width="1"/>
<circle cx="385.9" cy="556.8" r="10" fill="none" stroke="#2e2a29" stroke-width="1"/>
<path d="M384.2,546.95V555.1M384.2,558.5V566.65M387.6,546.95V555.1M387.6,558.5V566.65M376.05,555.1H384.2M387.6,555.1H395.75M376.05,558.5H384.2M387.6,558.5H395.75" fill="none" stroke="#2e2a29" stroke-width="1"/>
<text x="362" y="561.2" font-size="12" text-anchor="middle" textLength="6.5" lengthAdjust="spacingAndGlyphs" fill="#2a2a2a" style="font-family:'Liberation Sans',sans-serif">2</text>
<line x1="562" y1="546.4" x2="649" y2="546.4" stroke="#444" stroke-width="1"/>
<line x1="562" y1="567.2" x2="649" y2="567.2" stroke="#444" stroke-width="1"/>
<line x1="577.7" y1="546.4" x2="577.7" y2="567.2" stroke="#444" stroke-width="1"/>
<line x1="583.5" y1="546.4" x2="583.5" y2="567.2" stroke="#444" stroke-width="1"/>
<line x1="604.2" y1="546.4" x2="604.2" y2="567.2" stroke="#444" stroke-width="1"/>
<line x1="607.4" y1="546.4" x2="607.4" y2="567.2" stroke="#444" stroke-width="1"/>
<line x1="628" y1="546.4" x2="628" y2="567.2" stroke="#444" stroke-width="1"/>
<line x1="633.5" y1="546.4" x2="633.5" y2="567.2" stroke="#444" stroke-width="1"/>
<circle cx="593.85" cy="556.8" r="10" fill="none" stroke="#2e2a29" stroke-width="1"/>
<path d="M592.15,546.95V555.1M592.15,558.5V566.65M595.55,546.95V555.1M595.55,558.5V566.65M584,555.1H592.15M595.55,555.1H603.7M584,558.5H592.15M595.55,558.5H603.7" fill="none" stroke="#2e2a29" stroke-width="1"/>
<circle cx="617.7" cy="556.8" r="10" fill="none" stroke="#2e2a29" stroke-width="1"/>
<path d="M616,546.95V555.1M616,558.5V566.65M619.4,546.95V555.1M619.4,558.5V566.65M607.85,555.1H616M619.4,555.1H627.55M607.85,558.5H616M619.4,558.5H627.55" fill="none" stroke="#2e2a29" stroke-width="1"/>
<text x="569.5" y="561" font-size="11.5" text-anchor="middle" textLength="12.5" lengthAdjust="spacingAndGlyphs" fill="#2a2a2a" style="font-family:'Liberation Sans',sans-serif">26</text>
<text x="641.5" y="561" font-size="11.5" text-anchor="middle" textLength="12.5" lengthAdjust="spacingAndGlyphs" fill="#2a2a2a" style="font-family:'Liberation Sans',sans-serif">14</text>
<line x1="354.5" y1="571.3" x2="396.2" y2="571.3" stroke="#444" stroke-width="1"/>
<line x1="354.5" y1="592.1" x2="396.2" y2="592.1" stroke="#444" stroke-width="1"/>
<line x1="370" y1="571.3" x2="370" y2="592.1" stroke="#555" stroke-width="1.2"/>
<line x1="375.6" y1="571.3" x2="375.6" y2="592.1" stroke="#444" stroke-width="1"/>
<line x1="396.2" y1="571.3" x2="396.2" y2="592.1" stroke="#444" stroke-width="1"/>
<circle cx="385.9" cy="581.7" r="10" fill="none" stroke="#2e2a29" stroke-width="1"/>
<path d="M384.2,571.85V580M384.2,583.4V591.55M387.6,571.85V580M387.6,583.4V591.55M376.05,580H384.2M387.6,580H395.75M376.05,583.4H384.2M387.6,583.4H395.75" fill="none" stroke="#2e2a29" stroke-width="1"/>
<text x="362" y="586.1" font-size="12" text-anchor="middle" textLength="6.5" lengthAdjust="spacingAndGlyphs" fill="#2a2a2a" style="font-family:'Liberation Sans',sans-serif">3</text>
<line x1="562" y1="571.3" x2="649" y2="571.3" stroke="#444" stroke-width="1"/>
<line x1="562" y1="592.1" x2="649" y2="592.1" stroke="#444" stroke-width="1"/>
<line x1="577.7" y1="571.3" x2="577.7" y2="592.1" stroke="#444" stroke-width="1"/>
<line x1="583.5" y1="571.3" x2="583.5" y2="592.1" stroke="#444" stroke-width="1"/>
<line x1="604.2" y1="571.3" x2="604.2" y2="592.1" stroke="#444" stroke-width="1"/>
<line x1="607.4" y1="571.3" x2="607.4" y2="592.1" stroke="#444" stroke-width="1"/>
<line x1="628" y1="571.3" x2="628" y2="592.1" stroke="#444" stroke-width="1"/>
<line x1="633.5" y1="571.3" x2="633.5" y2="592.1" stroke="#444" stroke-width="1"/>
<circle cx="593.85" cy="581.7" r="10" fill="none" stroke="#2e2a29" stroke-width="1"/>
<path d="M592.15,571.85V580M592.15,583.4V591.55M595.55,571.85V580M595.55,583.4V591.55M584,580H592.15M595.55,580H603.7M584,583.4H592.15M595.55,583.4H603.7" fill="none" stroke="#2e2a29" stroke-width="1"/>
<circle cx="617.7" cy="581.7" r="10" fill="none" stroke="#2e2a29" stroke-width="1"/>
<path d="M616,571.85V580M616,583.4V591.55M619.4,571.85V580M619.4,583.4V591.55M607.85,580H616M619.4,580H627.55M607.85,583.4H616M619.4,583.4H627.55" fill="none" stroke="#2e2a29" stroke-width="1"/>
<text x="569.5" y="585.9" font-size="11.5" text-anchor="middle" textLength="12.5" lengthAdjust="spacingAndGlyphs" fill="#2a2a2a" style="font-family:'Liberation Sans',sans-serif">27</text>
<text x="641.5" y="585.9" font-size="11.5" text-anchor="middle" textLength="12.5" lengthAdjust="spacingAndGlyphs" fill="#2a2a2a" style="font-family:'Liberation Sans',sans-serif">15</text>
<line x1="354.5" y1="596.2" x2="396.2" y2="596.2" stroke="#444" stroke-width="1"/>
<line x1="354.5" y1="617" x2="396.2" y2="617" stroke="#444" stroke-width="1"/>
<line x1="370" y1="596.2" x2="370" y2="617" stroke="#555" stroke-width="1.2"/>
<line x1="375.6" y1="596.2" x2="375.6" y2="617" stroke="#444" stroke-width="1"/>
<line x1="396.2" y1="596.2" x2="396.2" y2="617" stroke="#444" stroke-width="1"/>
<circle cx="385.9" cy="606.6" r="10" fill="none" stroke="#2e2a29" stroke-width="1"/>
<path d="M384.2,596.75V604.9M384.2,608.3V616.45M387.6,596.75V604.9M387.6,608.3V616.45M376.05,604.9H384.2M387.6,604.9H395.75M376.05,608.3H384.2M387.6,608.3H395.75" fill="none" stroke="#2e2a29" stroke-width="1"/>
<text x="362" y="611" font-size="12" text-anchor="middle" textLength="6.5" lengthAdjust="spacingAndGlyphs" fill="#2a2a2a" style="font-family:'Liberation Sans',sans-serif">4</text>
<line x1="562" y1="596.2" x2="649" y2="596.2" stroke="#444" stroke-width="1"/>
<line x1="562" y1="617" x2="649" y2="617" stroke="#444" stroke-width="1"/>
<line x1="577.7" y1="596.2" x2="577.7" y2="617" stroke="#444" stroke-width="1"/>
<line x1="583.5" y1="596.2" x2="583.5" y2="617" stroke="#444" stroke-width="1"/>
<line x1="604.2" y1="596.2" x2="604.2" y2="617" stroke="#444" stroke-width="1"/>
<line x1="607.4" y1="596.2" x2="607.4" y2="617" stroke="#444" stroke-width="1"/>
<line x1="628" y1="596.2" x2="628" y2="617" stroke="#444" stroke-width="1"/>
<line x1="633.5" y1="596.2" x2="633.5" y2="617" stroke="#444" stroke-width="1"/>
<circle cx="593.85" cy="606.6" r="10" fill="none" stroke="#2e2a29" stroke-width="1"/>
<path d="M592.15,596.75V604.9M592.15,608.3V616.45M595.55,596.75V604.9M595.55,608.3V616.45M584,604.9H592.15M595.55,604.9H603.7M584,608.3H592.15M595.55,608.3H603.7" fill="none" stroke="#2e2a29" stroke-width="1"/>
<circle cx="617.7" cy="606.6" r="10" fill="none" stroke="#2e2a29" stroke-width="1"/>
<path d="M616,596.75V604.9M616,608.3V616.45M619.4,596.75V604.9M619.4,608.3V616.45M607.85,604.9H616M619.4,604.9H627.55M607.85,608.3H616M619.4,608.3H627.55" fill="none" stroke="#2e2a29" stroke-width="1"/>
<text x="569.5" y="610.8" font-size="11.5" text-anchor="middle" textLength="12.5" lengthAdjust="spacingAndGlyphs" fill="#2a2a2a" style="font-family:'Liberation Sans',sans-serif">28</text>
<text x="641.5" y="610.8" font-size="11.5" text-anchor="middle" textLength="12.5" lengthAdjust="spacingAndGlyphs" fill="#2a2a2a" style="font-family:'Liberation Sans',sans-serif">16</text>
<line x1="354.5" y1="621.1" x2="396.2" y2="621.1" stroke="#444" stroke-width="1"/>
<line x1="354.5" y1="641.9" x2="396.2" y2="641.9" stroke="#444" stroke-width="1"/>
<line x1="370" y1="621.1" x2="370" y2="641.9" stroke="#555" stroke-width="1.2"/>
<line x1="375.6" y1="621.1" x2="375.6" y2="641.9" stroke="#444" stroke-width="1"/>
<line x1="396.2" y1="621.1" x2="396.2" y2="641.9" stroke="#444" stroke-width="1"/>
<circle cx="385.9" cy="631.5" r="10" fill="none" stroke="#2e2a29" stroke-width="1"/>
<path d="M384.2,621.65V629.8M384.2,633.2V641.35M387.6,621.65V629.8M387.6,633.2V641.35M376.05,629.8H384.2M387.6,629.8H395.75M376.05,633.2H384.2M387.6,633.2H395.75" fill="none" stroke="#2e2a29" stroke-width="1"/>
<text x="362" y="635.9" font-size="12" text-anchor="middle" textLength="6.5" lengthAdjust="spacingAndGlyphs" fill="#2a2a2a" style="font-family:'Liberation Sans',sans-serif">5</text>
<line x1="562" y1="621.1" x2="649" y2="621.1" stroke="#444" stroke-width="1"/>
<line x1="562" y1="641.9" x2="649" y2="641.9" stroke="#444" stroke-width="1"/>
<line x1="577.7" y1="621.1" x2="577.7" y2="641.9" stroke="#444" stroke-width="1"/>
<line x1="583.5" y1="621.1" x2="583.5" y2="641.9" stroke="#444" stroke-width="1"/>
<line x1="604.2" y1="621.1" x2="604.2" y2="641.9" stroke="#444" stroke-width="1"/>
<line x1="607.4" y1="621.1" x2="607.4" y2="641.9" stroke="#444" stroke-width="1"/>
<line x1="628" y1="621.1" x2="628" y2="641.9" stroke="#444" stroke-width="1"/>
<line x1="633.5" y1="621.1" x2="633.5" y2="641.9" stroke="#444" stroke-width="1"/>
<circle cx="593.85" cy="631.5" r="10" fill="none" stroke="#2e2a29" stroke-width="1"/>
<path d="M592.15,621.65V629.8M592.15,633.2V641.35M595.55,621.65V629.8M595.55,633.2V641.35M584,629.8H592.15M595.55,629.8H603.7M584,633.2H592.15M595.55,633.2H603.7" fill="none" stroke="#2e2a29" stroke-width="1"/>
<circle cx="617.7" cy="631.5" r="10" fill="none" stroke="#2e2a29" stroke-width="1"/>
<path d="M616,621.65V629.8M616,633.2V641.35M619.4,621.65V629.8M619.4,633.2V641.35M607.85,629.8H616M619.4,629.8H627.55M607.85,633.2H616M619.4,633.2H627.55" fill="none" stroke="#2e2a29" stroke-width="1"/>
<text x="569.5" y="635.7" font-size="11.5" text-anchor="middle" textLength="12.5" lengthAdjust="spacingAndGlyphs" fill="#2a2a2a" style="font-family:'Liberation Sans',sans-serif">29</text>
<text x="641.5" y="635.7" font-size="11.5" text-anchor="middle" textLength="12.5" lengthAdjust="spacingAndGlyphs" fill="#2a2a2a" style="font-family:'Liberation Sans',sans-serif">17</text>
<line x1="354.5" y1="646" x2="396.2" y2="646" stroke="#444" stroke-width="1"/>
<line x1="354.5" y1="666.8" x2="396.2" y2="666.8" stroke="#444" stroke-width="1"/>
<line x1="370" y1="646" x2="370" y2="666.8" stroke="#555" stroke-width="1.2"/>
<line x1="375.6" y1="646" x2="375.6" y2="666.8" stroke="#444" stroke-width="1"/>
<line x1="396.2" y1="646" x2="396.2" y2="666.8" stroke="#444" stroke-width="1"/>
<circle cx="385.9" cy="656.4" r="10" fill="none" stroke="#2e2a29" stroke-width="1"/>
<path d="M384.2,646.55V654.7M384.2,658.1V666.25M387.6,646.55V654.7M387.6,658.1V666.25M376.05,654.7H384.2M387.6,654.7H395.75M376.05,658.1H384.2M387.6,658.1H395.75" fill="none" stroke="#2e2a29" stroke-width="1"/>
<text x="362" y="660.8" font-size="12" text-anchor="middle" textLength="6.5" lengthAdjust="spacingAndGlyphs" fill="#2a2a2a" style="font-family:'Liberation Sans',sans-serif">6</text>
<line x1="562" y1="646" x2="649" y2="646" stroke="#444" stroke-width="1"/>
<line x1="562" y1="666.8" x2="649" y2="666.8" stroke="#444" stroke-width="1"/>
<line x1="577.7" y1="646" x2="577.7" y2="666.8" stroke="#444" stroke-width="1"/>
<line x1="583.5" y1="646" x2="583.5" y2="666.8" stroke="#444" stroke-width="1"/>
<line x1="604.2" y1="646" x2="604.2" y2="666.8" stroke="#444" stroke-width="1"/>
<line x1="607.4" y1="646" x2="607.4" y2="666.8" stroke="#444" stroke-width="1"/>
<line x1="628" y1="646" x2="628" y2="666.8" stroke="#444" stroke-width="1"/>
<line x1="633.5" y1="646" x2="633.5" y2="666.8" stroke="#444" stroke-width="1"/>
<circle cx="593.85" cy="656.4" r="10" fill="none" stroke="#2e2a29" stroke-width="1"/>
<path d="M592.15,646.55V654.7M592.15,658.1V666.25M595.55,646.55V654.7M595.55,658.1V666.25M584,654.7H592.15M595.55,654.7H603.7M584,658.1H592.15M595.55,658.1H603.7" fill="none" stroke="#2e2a29" stroke-width="1"/>
<circle cx="617.7" cy="656.4" r="10" fill="none" stroke="#2e2a29" stroke-width="1"/>
<path d="M616,646.55V654.7M616,658.1V666.25M619.4,646.55V654.7M619.4,658.1V666.25M607.85,654.7H616M619.4,654.7H627.55M607.85,658.1H616M619.4,658.1H627.55" fill="none" stroke="#2e2a29" stroke-width="1"/>
<text x="569.5" y="660.6" font-size="11.5" text-anchor="middle" textLength="12.5" lengthAdjust="spacingAndGlyphs" fill="#2a2a2a" style="font-family:'Liberation Sans',sans-serif">30</text>
<text x="641.5" y="660.6" font-size="11.5" text-anchor="middle" textLength="12.5" lengthAdjust="spacingAndGlyphs" fill="#2a2a2a" style="font-family:'Liberation Sans',sans-serif">18</text>
<line x1="354.5" y1="670.9" x2="396.2" y2="670.9" stroke="#444" stroke-width="1"/>
<line x1="354.5" y1="691.7" x2="396.2" y2="691.7" stroke="#444" stroke-width="1"/>
<line x1="370" y1="670.9" x2="370" y2="691.7" stroke="#555" stroke-width="1.2"/>
<line x1="375.6" y1="670.9" x2="375.6" y2="691.7" stroke="#444" stroke-width="1"/>
<line x1="396.2" y1="670.9" x2="396.2" y2="691.7" stroke="#444" stroke-width="1"/>
<circle cx="385.9" cy="681.3" r="10" fill="none" stroke="#2e2a29" stroke-width="1"/>
<path d="M384.2,671.45V679.6M384.2,683V691.15M387.6,671.45V679.6M387.6,683V691.15M376.05,679.6H384.2M387.6,679.6H395.75M376.05,683H384.2M387.6,683H395.75" fill="none" stroke="#2e2a29" stroke-width="1"/>
<text x="362" y="685.7" font-size="12" text-anchor="middle" textLength="6.5" lengthAdjust="spacingAndGlyphs" fill="#2a2a2a" style="font-family:'Liberation Sans',sans-serif">7</text>
<line x1="562" y1="670.9" x2="649" y2="670.9" stroke="#444" stroke-width="1"/>
<line x1="562" y1="691.7" x2="649" y2="691.7" stroke="#444" stroke-width="1"/>
<line x1="577.7" y1="670.9" x2="577.7" y2="691.7" stroke="#444" stroke-width="1"/>
<line x1="583.5" y1="670.9" x2="583.5" y2="691.7" stroke="#444" stroke-width="1"/>
<line x1="604.2" y1="670.9" x2="604.2" y2="691.7" stroke="#444" stroke-width="1"/>
<line x1="607.4" y1="670.9" x2="607.4" y2="691.7" stroke="#444" stroke-width="1"/>
<line x1="628" y1="670.9" x2="628" y2="691.7" stroke="#444" stroke-width="1"/>
<line x1="633.5" y1="670.9" x2="633.5" y2="691.7" stroke="#444" stroke-width="1"/>
<circle cx="593.85" cy="681.3" r="10" fill="none" stroke="#2e2a29" stroke-width="1"/>
<path d="M592.15,671.45V679.6M592.15,683V691.15M595.55,671.45V679.6M595.55,683V691.15M584,679.6H592.15M595.55,679.6H603.7M584,683H592.15M595.55,683H603.7" fill="none" stroke="#2e2a29" stroke-width="1"/>
<circle cx="617.7" cy="681.3" r="10" fill="none" stroke="#2e2a29" stroke-width="1"/>
<path d="M616,671.45V679.6M616,683V691.15M619.4,671.45V679.6M619.4,683V691.15M607.85,679.6H616M619.4,679.6H627.55M607.85,683H616M619.4,683H627.55" fill="none" stroke="#2e2a29" stroke-width="1"/>
<text x="569.5" y="685.5" font-size="11.5" text-anchor="middle" textLength="12.5" lengthAdjust="spacingAndGlyphs" fill="#2a2a2a" style="font-family:'Liberation Sans',sans-serif">31</text>
<text x="641.5" y="685.5" font-size="11.5" text-anchor="middle" textLength="12.5" lengthAdjust="spacingAndGlyphs" fill="#2a2a2a" style="font-family:'Liberation Sans',sans-serif">19</text>
<line x1="354.5" y1="695.8" x2="396.2" y2="695.8" stroke="#444" stroke-width="1"/>
<line x1="354.5" y1="716.6" x2="396.2" y2="716.6" stroke="#444" stroke-width="1"/>
<line x1="370" y1="695.8" x2="370" y2="716.6" stroke="#555" stroke-width="1.2"/>
<line x1="375.6" y1="695.8" x2="375.6" y2="716.6" stroke="#444" stroke-width="1"/>
<line x1="396.2" y1="695.8" x2="396.2" y2="716.6" stroke="#444" stroke-width="1"/>
<circle cx="385.9" cy="706.2" r="10" fill="none" stroke="#2e2a29" stroke-width="1"/>
<path d="M384.2,696.35V704.5M384.2,707.9V716.05M387.6,696.35V704.5M387.6,707.9V716.05M376.05,704.5H384.2M387.6,704.5H395.75M376.05,707.9H384.2M387.6,707.9H395.75" fill="none" stroke="#2e2a29" stroke-width="1"/>
<text x="362" y="710.6" font-size="12" text-anchor="middle" textLength="6.5" lengthAdjust="spacingAndGlyphs" fill="#2a2a2a" style="font-family:'Liberation Sans',sans-serif">8</text>
<line x1="562" y1="695.8" x2="649" y2="695.8" stroke="#444" stroke-width="1"/>
<line x1="562" y1="716.6" x2="649" y2="716.6" stroke="#444" stroke-width="1"/>
<line x1="577.7" y1="695.8" x2="577.7" y2="716.6" stroke="#444" stroke-width="1"/>
<line x1="583.5" y1="695.8" x2="583.5" y2="716.6" stroke="#444" stroke-width="1"/>
<line x1="604.2" y1="695.8" x2="604.2" y2="716.6" stroke="#444" stroke-width="1"/>
<line x1="607.4" y1="695.8" x2="607.4" y2="716.6" stroke="#444" stroke-width="1"/>
<line x1="628" y1="695.8" x2="628" y2="716.6" stroke="#444" stroke-width="1"/>
<line x1="633.5" y1="695.8" x2="633.5" y2="716.6" stroke="#444" stroke-width="1"/>
<circle cx="593.85" cy="706.2" r="10" fill="none" stroke="#2e2a29" stroke-width="1"/>
<path d="M592.15,696.35V704.5M592.15,707.9V716.05M595.55,696.35V704.5M595.55,707.9V716.05M584,704.5H592.15M595.55,704.5H603.7M584,707.9H592.15M595.55,707.9H603.7" fill="none" stroke="#2e2a29" stroke-width="1"/>
<circle cx="617.7" cy="706.2" r="10" fill="none" stroke="#2e2a29" stroke-width="1"/>
<path d="M616,696.35V704.5M616,707.9V716.05M619.4,696.35V704.5M619.4,707.9V716.05M607.85,704.5H616M619.4,704.5H627.55M607.85,707.9H616M619.4,707.9H627.55" fill="none" stroke="#2e2a29" stroke-width="1"/>
<text x="569.5" y="710.4" font-size="11.5" text-anchor="middle" textLength="12.5" lengthAdjust="spacingAndGlyphs" fill="#2a2a2a" style="font-family:'Liberation Sans',sans-serif">32</text>
<text x="641.5" y="710.4" font-size="11.5" text-anchor="middle" textLength="12.5" lengthAdjust="spacingAndGlyphs" fill="#2a2a2a" style="font-family:'Liberation Sans',sans-serif">20</text>
<line x1="354.5" y1="720.7" x2="396.2" y2="720.7" stroke="#444" stroke-width="1"/>
<line x1="354.5" y1="741.5" x2="396.2" y2="741.5" stroke="#444" stroke-width="1"/>
<line x1="370" y1="720.7" x2="370" y2="741.5" stroke="#555" stroke-width="1.2"/>
<line x1="375.6" y1="720.7" x2="375.6" y2="741.5" stroke="#444" stroke-width="1"/>
<line x1="396.2" y1="720.7" x2="396.2" y2="741.5" stroke="#444" stroke-width="1"/>
<circle cx="385.9" cy="731.1" r="10" fill="none" stroke="#2e2a29" stroke-width="1"/>
<path d="M384.2,721.25V729.4M384.2,732.8V740.95M387.6,721.25V729.4M387.6,732.8V740.95M376.05,729.4H384.2M387.6,729.4H395.75M376.05,732.8H384.2M387.6,732.8H395.75" fill="none" stroke="#2e2a29" stroke-width="1"/>
<text x="362" y="735.5" font-size="12" text-anchor="middle" textLength="6.5" lengthAdjust="spacingAndGlyphs" fill="#2a2a2a" style="font-family:'Liberation Sans',sans-serif">9</text>
<line x1="562" y1="720.7" x2="649" y2="720.7" stroke="#444" stroke-width="1"/>
<line x1="562" y1="741.5" x2="649" y2="741.5" stroke="#444" stroke-width="1"/>
<line x1="577.7" y1="720.7" x2="577.7" y2="741.5" stroke="#444" stroke-width="1"/>
<line x1="583.5" y1="720.7" x2="583.5" y2="741.5" stroke="#444" stroke-width="1"/>
<line x1="604.2" y1="720.7" x2="604.2" y2="741.5" stroke="#444" stroke-width="1"/>
<line x1="607.4" y1="720.7" x2="607.4" y2="741.5" stroke="#444" stroke-width="1"/>
<line x1="628" y1="720.7" x2="628" y2="741.5" stroke="#444" stroke-width="1"/>
<line x1="633.5" y1="720.7" x2="633.5" y2="741.5" stroke="#444" stroke-width="1"/>
<circle cx="593.85" cy="731.1" r="10" fill="none" stroke="#2e2a29" stroke-width="1"/>
<path d="M592.15,721.25V729.4M592.15,732.8V740.95M595.55,721.25V729.4M595.55,732.8V740.95M584,729.4H592.15M595.55,729.4H603.7M584,732.8H592.15M595.55,732.8H603.7" fill="none" stroke="#2e2a29" stroke-width="1"/>
<circle cx="617.7" cy="731.1" r="10" fill="none" stroke="#2e2a29" stroke-width="1"/>
<path d="M616,721.25V729.4M616,732.8V740.95M619.4,721.25V729.4M619.4,732.8V740.95M607.85,729.4H616M619.4,729.4H627.55M607.85,732.8H616M619.4,732.8H627.55" fill="none" stroke="#2e2a29" stroke-width="1"/>
<text x="569.5" y="735.3" font-size="11.5" text-anchor="middle" textLength="12.5" lengthAdjust="spacingAndGlyphs" fill="#2a2a2a" style="font-family:'Liberation Sans',sans-serif">33</text>
<text x="641.5" y="735.3" font-size="11.5" text-anchor="middle" textLength="12.5" lengthAdjust="spacingAndGlyphs" fill="#2a2a2a" style="font-family:'Liberation Sans',sans-serif">21</text>
<line x1="354.5" y1="745.6" x2="396.2" y2="745.6" stroke="#444" stroke-width="1"/>
<line x1="354.5" y1="766.4" x2="396.2" y2="766.4" stroke="#444" stroke-width="1"/>
<line x1="370" y1="745.6" x2="370" y2="766.4" stroke="#555" stroke-width="1.2"/>
<line x1="375.6" y1="745.6" x2="375.6" y2="766.4" stroke="#444" stroke-width="1"/>
<line x1="396.2" y1="745.6" x2="396.2" y2="766.4" stroke="#444" stroke-width="1"/>
<circle cx="385.9" cy="756" r="10" fill="none" stroke="#2e2a29" stroke-width="1"/>
<path d="M384.2,746.15V754.3M384.2,757.7V765.85M387.6,746.15V754.3M387.6,757.7V765.85M376.05,754.3H384.2M387.6,754.3H395.75M376.05,757.7H384.2M387.6,757.7H395.75" fill="none" stroke="#2e2a29" stroke-width="1"/>
<text x="362" y="760.4" font-size="12" text-anchor="middle" textLength="13" lengthAdjust="spacingAndGlyphs" fill="#2a2a2a" style="font-family:'Liberation Sans',sans-serif">10</text>
<line x1="562" y1="745.6" x2="649" y2="745.6" stroke="#444" stroke-width="1"/>
<line x1="562" y1="766.4" x2="649" y2="766.4" stroke="#444" stroke-width="1"/>
<line x1="577.7" y1="745.6" x2="577.7" y2="766.4" stroke="#444" stroke-width="1"/>
<line x1="583.5" y1="745.6" x2="583.5" y2="766.4" stroke="#444" stroke-width="1"/>
<line x1="604.2" y1="745.6" x2="604.2" y2="766.4" stroke="#444" stroke-width="1"/>
<line x1="607.4" y1="745.6" x2="607.4" y2="766.4" stroke="#444" stroke-width="1"/>
<line x1="628" y1="745.6" x2="628" y2="766.4" stroke="#444" stroke-width="1"/>
<line x1="633.5" y1="745.6" x2="633.5" y2="766.4" stroke="#444" stroke-width="1"/>
<circle cx="593.85" cy="756" r="10" fill="none" stroke="#2e2a29" stroke-width="1"/>
<path d="M592.15,746.15V754.3M592.15,757.7V765.85M595.55,746.15V754.3M595.55,757.7V765.85M584,754.3H592.15M595.55,754.3H603.7M584,757.7H592.15M595.55,757.7H603.7" fill="none" stroke="#2e2a29" stroke-width="1"/>
<circle cx="617.7" cy="756" r="10" fill="none" stroke="#2e2a29" stroke-width="1"/>
<path d="M616,746.15V754.3M616,757.7V765.85M619.4,746.15V754.3M619.4,757.7V765.85M607.85,754.3H616M619.4,754.3H627.55M607.85,757.7H616M619.4,757.7H627.55" fill="none" stroke="#2e2a29" stroke-width="1"/>
<text x="569.5" y="760.2" font-size="11.5" text-anchor="middle" textLength="12.5" lengthAdjust="spacingAndGlyphs" fill="#2a2a2a" style="font-family:'Liberation Sans',sans-serif">34</text>
<text x="641.5" y="760.2" font-size="11.5" text-anchor="middle" textLength="12.5" lengthAdjust="spacingAndGlyphs" fill="#2a2a2a" style="font-family:'Liberation Sans',sans-serif">22</text>
<line x1="354.5" y1="770.5" x2="396.2" y2="770.5" stroke="#444" stroke-width="1"/>
<line x1="354.5" y1="791.3" x2="396.2" y2="791.3" stroke="#444" stroke-width="1"/>
<line x1="370" y1="770.5" x2="370" y2="791.3" stroke="#555" stroke-width="1.2"/>
<line x1="375.6" y1="770.5" x2="375.6" y2="791.3" stroke="#444" stroke-width="1"/>
<line x1="396.2" y1="770.5" x2="396.2" y2="791.3" stroke="#444" stroke-width="1"/>
<circle cx="385.9" cy="780.9" r="10" fill="none" stroke="#2e2a29" stroke-width="1"/>
<path d="M384.2,771.05V779.2M384.2,782.6V790.75M387.6,771.05V779.2M387.6,782.6V790.75M376.05,779.2H384.2M387.6,779.2H395.75M376.05,782.6H384.2M387.6,782.6H395.75" fill="none" stroke="#2e2a29" stroke-width="1"/>
<text x="362" y="785.3" font-size="12" text-anchor="middle" textLength="13" lengthAdjust="spacingAndGlyphs" fill="#2a2a2a" style="font-family:'Liberation Sans',sans-serif">11</text>
<line x1="562" y1="770.5" x2="649" y2="770.5" stroke="#444" stroke-width="1"/>
<line x1="562" y1="791.3" x2="649" y2="791.3" stroke="#444" stroke-width="1"/>
<line x1="577.7" y1="770.5" x2="577.7" y2="791.3" stroke="#444" stroke-width="1"/>
<line x1="583.5" y1="770.5" x2="583.5" y2="791.3" stroke="#444" stroke-width="1"/>
<line x1="604.2" y1="770.5" x2="604.2" y2="791.3" stroke="#444" stroke-width="1"/>
<line x1="607.4" y1="770.5" x2="607.4" y2="791.3" stroke="#444" stroke-width="1"/>
<line x1="628" y1="770.5" x2="628" y2="791.3" stroke="#444" stroke-width="1"/>
<line x1="633.5" y1="770.5" x2="633.5" y2="791.3" stroke="#444" stroke-width="1"/>
<circle cx="593.85" cy="780.9" r="10" fill="none" stroke="#2e2a29" stroke-width="1"/>
<path d="M592.15,771.05V779.2M592.15,782.6V790.75M595.55,771.05V779.2M595.55,782.6V790.75M584,779.2H592.15M595.55,779.2H603.7M584,782.6H592.15M595.55,782.6H603.7" fill="none" stroke="#2e2a29" stroke-width="1"/>
<circle cx="617.7" cy="780.9" r="10" fill="none" stroke="#2e2a29" stroke-width="1"/>
<path d="M616,771.05V779.2M616,782.6V790.75M619.4,771.05V779.2M619.4,782.6V790.75M607.85,779.2H616M619.4,779.2H627.55M607.85,782.6H616M619.4,782.6H627.55" fill="none" stroke="#2e2a29" stroke-width="1"/>
<text x="569.5" y="785.1" font-size="11.5" text-anchor="middle" textLength="12.5" lengthAdjust="spacingAndGlyphs" fill="#2a2a2a" style="font-family:'Liberation Sans',sans-serif">35</text>
<text x="641.5" y="785.1" font-size="11.5" text-anchor="middle" textLength="12.5" lengthAdjust="spacingAndGlyphs" fill="#2a2a2a" style="font-family:'Liberation Sans',sans-serif">23</text>
<line x1="354.5" y1="795.4" x2="396.2" y2="795.4" stroke="#444" stroke-width="1"/>
<line x1="354.5" y1="816.2" x2="396.2" y2="816.2" stroke="#444" stroke-width="1"/>
<line x1="370" y1="795.4" x2="370" y2="816.2" stroke="#555" stroke-width="1.2"/>
<line x1="375.6" y1="795.4" x2="375.6" y2="816.2" stroke="#444" stroke-width="1"/>
<line x1="396.2" y1="795.4" x2="396.2" y2="816.2" stroke="#444" stroke-width="1"/>
<circle cx="385.9" cy="805.8" r="10" fill="none" stroke="#2e2a29" stroke-width="1"/>
<path d="M384.2,795.95V804.1M384.2,807.5V815.65M387.6,795.95V804.1M387.6,807.5V815.65M376.05,804.1H384.2M387.6,804.1H395.75M376.05,807.5H384.2M387.6,807.5H395.75" fill="none" stroke="#2e2a29" stroke-width="1"/>
<text x="362" y="810.2" font-size="12" text-anchor="middle" textLength="13" lengthAdjust="spacingAndGlyphs" fill="#2a2a2a" style="font-family:'Liberation Sans',sans-serif">12</text>
<line x1="562" y1="795.4" x2="649" y2="795.4" stroke="#444" stroke-width="1"/>
<line x1="562" y1="816.2" x2="649" y2="816.2" stroke="#444" stroke-width="1"/>
<line x1="577.7" y1="795.4" x2="577.7" y2="816.2" stroke="#444" stroke-width="1"/>
<line x1="583.5" y1="795.4" x2="583.5" y2="816.2" stroke="#444" stroke-width="1"/>
<line x1="604.2" y1="795.4" x2="604.2" y2="816.2" stroke="#444" stroke-width="1"/>
<line x1="607.4" y1="795.4" x2="607.4" y2="816.2" stroke="#444" stroke-width="1"/>
<line x1="628" y1="795.4" x2="628" y2="816.2" stroke="#444" stroke-width="1"/>
<line x1="633.5" y1="795.4" x2="633.5" y2="816.2" stroke="#444" stroke-width="1"/>
<circle cx="593.85" cy="805.8" r="10" fill="none" stroke="#2e2a29" stroke-width="1"/>
<path d="M592.15,795.95V804.1M592.15,807.5V815.65M595.55,795.95V804.1M595.55,807.5V815.65M584,804.1H592.15M595.55,804.1H603.7M584,807.5H592.15M595.55,807.5H603.7" fill="none" stroke="#2e2a29" stroke-width="1"/>
<circle cx="617.7" cy="805.8" r="10" fill="none" stroke="#2e2a29" stroke-width="1"/>
<path d="M616,795.95V804.1M616,807.5V815.65M619.4,795.95V804.1M619.4,807.5V815.65M607.85,804.1H616M619.4,804.1H627.55M607.85,807.5H616M619.4,807.5H627.55" fill="none" stroke="#2e2a29" stroke-width="1"/>
<text x="569.5" y="810" font-size="11.5" text-anchor="middle" textLength="12.5" lengthAdjust="spacingAndGlyphs" fill="#2a2a2a" style="font-family:'Liberation Sans',sans-serif">36</text>
<text x="641.5" y="810" font-size="11.5" text-anchor="middle" textLength="12.5" lengthAdjust="spacingAndGlyphs" fill="#2a2a2a" style="font-family:'Liberation Sans',sans-serif">24</text>
<path d="M347.5,531 L347.5,591.8 Q347.5,595.3 344.9,595.3 Q347.5,595.3 347.5,598.8 L347.5,657.5" fill="none" stroke="#231815" stroke-width="1.6"/>
<path d="M347.5,533 Q347.5,527.2 349.8,526.6" fill="none" stroke="#231815" stroke-width="2.7" stroke-linecap="round"/>
<path d="M347.5,655.5 Q347.5,661.3 349.8,661.9" fill="none" stroke="#231815" stroke-width="2.7" stroke-linecap="round"/>
<path d="M347.5,682.5 L347.5,715.5 Q347.5,719 344.9,719 Q347.5,719 347.5,722.5 L347.5,758" fill="none" stroke="#231815" stroke-width="1.6"/>
<path d="M347.5,684.5 Q347.5,678.7 349.8,678.1" fill="none" stroke="#231815" stroke-width="2.7" stroke-linecap="round"/>
<path d="M347.5,756 Q347.5,761.8 349.8,762.4" fill="none" stroke="#231815" stroke-width="2.7" stroke-linecap="round"/>
<path d="M347.5,775 L347.5,791.5 Q347.5,795 344.9,795 Q347.5,795 347.5,798.5 L347.5,812.5" fill="none" stroke="#231815" stroke-width="1.6"/>
<path d="M347.5,777 Q347.5,771.2 349.8,770.6" fill="none" stroke="#231815" stroke-width="2.7" stroke-linecap="round"/>
<path d="M347.5,810.5 Q347.5,816.3 349.8,816.9" fill="none" stroke="#231815" stroke-width="2.7" stroke-linecap="round"/>
<path d="M552.5,527.5 L552.5,614 Q552.5,617.5 549.9,617.5 Q552.5,617.5 552.5,621 L552.5,705" fill="none" stroke="#231815" stroke-width="1.6"/>
<path d="M552.5,529.5 Q552.5,523.7 554.8,523.1" fill="none" stroke="#231815" stroke-width="2.7" stroke-linecap="round"/>
<path d="M552.5,703 Q552.5,708.8 554.8,709.4" fill="none" stroke="#231815" stroke-width="2.7" stroke-linecap="round"/>
<path d="M552.5,760.4 L552.5,778.2 Q552.5,781.7 549.9,781.7 Q552.5,781.7 552.5,785.2 L552.5,802.6" fill="none" stroke="#231815" stroke-width="1.6"/>
<path d="M552.5,762.4 Q552.5,756.6 554.8,756" fill="none" stroke="#231815" stroke-width="2.7" stroke-linecap="round"/>
<path d="M552.5,800.6 Q552.5,806.4 554.8,807" fill="none" stroke="#231815" stroke-width="2.7" stroke-linecap="round"/>
<path d="M656,759.2 L656,780.9 Q656,784.4 658.6,784.4 Q656,784.4 656,787.9 L656,809.7" fill="none" stroke="#231815" stroke-width="1.6"/>
<path d="M656,761.2 Q656,755.4 653.7,754.8" fill="none" stroke="#231815" stroke-width="2.7" stroke-linecap="round"/>
<path d="M656,807.7 Q656,813.5 653.7,814.1" fill="none" stroke="#231815" stroke-width="2.7" stroke-linecap="round"/>
<polyline points="274.5,494 274.5,503 702.5,503 702.5,642.7 729,642.7" fill="none" stroke="#231815" stroke-width="2"/>
<polygon points="274.5,482 267.1,495.5 281.9,495.5" fill="#231815" stroke="none" stroke-width="1"/>
<polygon points="702.5,482 695.1,495.5 709.9,495.5" fill="#231815" stroke="none" stroke-width="1"/>
<line x1="702.5" y1="494" x2="702.5" y2="504" stroke="#231815" stroke-width="2"/>
<polygon points="741.5,642.7 728,635.3 728,650.1" fill="#231815" stroke="none" stroke-width="1"/>
<polyline points="484,503 484,617.5 549.5,617.5" fill="none" stroke="#231815" stroke-width="2"/>
<polyline points="243,556 323.2,556 323.2,595.5 344.5,595.5" fill="none" stroke="#231815" stroke-width="2"/>
<polygon points="230.5,556 243.5,548.6 243.5,563.4" fill="#231815" stroke="none" stroke-width="1"/>
<polyline points="243,680 324,680 324,719 344.5,719" fill="none" stroke="#231815" stroke-width="2"/>
<polygon points="230.5,680 243.5,672.6 243.5,687.4" fill="#231815" stroke="none" stroke-width="1"/>
<polyline points="243,795 344.5,795" fill="none" stroke="#231815" stroke-width="2"/>
<polygon points="230.5,795 243.5,787.6 243.5,802.4" fill="#231815" stroke="none" stroke-width="1"/>
<polyline points="549.5,782 491.5,782 491.5,841" fill="none" stroke="#231815" stroke-width="2"/>
<polygon points="491.5,854 484.1,840.5 498.9,840.5" fill="#231815" stroke="none" stroke-width="1"/>
<polyline points="659,784.4 681.5,784.4 681.5,870 745,870" fill="none" stroke="#231815" stroke-width="2"/>
<polygon points="758,870 744.5,862.6 744.5,877.4" fill="#231815" stroke="none" stroke-width="1"/>
<rect x="321.8" y="856.3" width="347" height="150" fill="none" stroke="#231815" stroke-width="2"/>
<line x1="321.8" y1="878.3" x2="668.8" y2="878.3" stroke="#231815" stroke-width="1.3"/>
<line x1="431.8" y1="878.3" x2="431.8" y2="1006.3" stroke="#231815" stroke-width="1.3"/>
<line x1="549.5" y1="878.3" x2="549.5" y2="1006.3" stroke="#231815" stroke-width="1.3"/>
<text x="488.5" y="873.5" font-size="15.5" text-anchor="middle" font-weight="300" letter-spacing="4" fill="#3a3636" style="font-family:'Liberation Serif',serif">通讯</text>
<line x1="367.6" y1="913.6" x2="415.5" y2="913.6" stroke="#2e2a29" stroke-width="1.1"/>
<line x1="367.6" y1="938.1" x2="415.5" y2="938.1" stroke="#2e2a29" stroke-width="1.1"/>
<line x1="385.5" y1="913.6" x2="385.5" y2="938.1" stroke="#2e2a29" stroke-width="1.1"/>
<line x1="391.5" y1="913.6" x2="391.5" y2="938.1" stroke="#2e2a29" stroke-width="1.1"/>
<line x1="415.5" y1="913.6" x2="415.5" y2="938.1" stroke="#2e2a29" stroke-width="1.1"/>
<circle cx="403.5" cy="925.85" r="11.4" fill="none" stroke="#2e2a29" stroke-width="1.1"/>
<path d="M401.68,914.6V924.03M401.68,927.67V937.1M405.32,914.6V924.03M405.32,927.67V937.1M392.25,924.03H401.68M405.32,924.03H414.75M392.25,927.67H401.68M405.32,927.67H414.75" fill="none" stroke="#2e2a29" stroke-width="1.1"/>
<text x="376.55" y="930.35" font-size="12.5" text-anchor="middle" fill="#231815" style="font-family:'Liberation Sans',sans-serif">34</text>
<line x1="348" y1="926.1" x2="366.4" y2="926.1" stroke="#231815" stroke-width="1.1"/>
<polygon points="344.5,926.1 349.5,923.9 349.5,928.3" fill="#231815" stroke="none" stroke-width="1"/>
<text x="337.3" y="930.6" font-size="12.5" text-anchor="middle" textLength="7" lengthAdjust="spacingAndGlyphs" fill="#231815" style="font-family:'Liberation Sans',sans-serif" stroke="#231815" stroke-width="0.3">B</text>
<line x1="367.6" y1="942.4" x2="415.5" y2="942.4" stroke="#2e2a29" stroke-width="1.1"/>
<line x1="367.6" y1="966.9" x2="415.5" y2="966.9" stroke="#2e2a29" stroke-width="1.1"/>
<line x1="385.5" y1="942.4" x2="385.5" y2="966.9" stroke="#2e2a29" stroke-width="1.1"/>
<line x1="391.5" y1="942.4" x2="391.5" y2="966.9" stroke="#2e2a29" stroke-width="1.1"/>
<line x1="415.5" y1="942.4" x2="415.5" y2="966.9" stroke="#2e2a29" stroke-width="1.1"/>
<circle cx="403.5" cy="954.65" r="11.4" fill="none" stroke="#2e2a29" stroke-width="1.1"/>
<path d="M401.68,943.4V952.83M401.68,956.47V965.9M405.32,943.4V952.83M405.32,956.47V965.9M392.25,952.83H401.68M405.32,952.83H414.75M392.25,956.47H401.68M405.32,956.47H414.75" fill="none" stroke="#2e2a29" stroke-width="1.1"/>
<text x="376.55" y="959.15" font-size="12.5" text-anchor="middle" fill="#231815" style="font-family:'Liberation Sans',sans-serif">35</text>
<line x1="348" y1="954.9" x2="366.4" y2="954.9" stroke="#231815" stroke-width="1.1"/>
<polygon points="344.5,954.9 349.5,952.7 349.5,957.1" fill="#231815" stroke="none" stroke-width="1"/>
<text x="337.3" y="959.4" font-size="12.5" text-anchor="middle" textLength="7" lengthAdjust="spacingAndGlyphs" fill="#231815" style="font-family:'Liberation Sans',sans-serif" stroke="#231815" stroke-width="0.3">A</text>
<text x="382.3" y="982.6" font-size="11.7" text-anchor="middle" textLength="33.6" lengthAdjust="spacingAndGlyphs" fill="#231815" style="font-family:'Liberation Sans',sans-serif" stroke="#231815" stroke-width="0.3">RS485</text>
<line x1="490.6" y1="894.2" x2="538.6" y2="894.2" stroke="#2e2a29" stroke-width="1.1"/>
<line x1="490.6" y1="918.2" x2="538.6" y2="918.2" stroke="#2e2a29" stroke-width="1.1"/>
<line x1="508.3" y1="894.2" x2="508.3" y2="918.2" stroke="#2e2a29" stroke-width="1.1"/>
<line x1="514.6" y1="894.2" x2="514.6" y2="918.2" stroke="#2e2a29" stroke-width="1.1"/>
<line x1="538.6" y1="894.2" x2="538.6" y2="918.2" stroke="#2e2a29" stroke-width="1.1"/>
<circle cx="526.6" cy="906.2" r="11.4" fill="none" stroke="#2e2a29" stroke-width="1.1"/>
<path d="M524.78,894.95V904.38M524.78,908.02V917.45M528.42,894.95V904.38M528.42,908.02V917.45M515.35,904.38H524.78M528.42,904.38H537.85M515.35,908.02H524.78M528.42,908.02H537.85" fill="none" stroke="#2e2a29" stroke-width="1.1"/>
<text x="499.45" y="910.7" font-size="12.5" text-anchor="middle" fill="#231815" style="font-family:'Liberation Sans',sans-serif">34</text>
<line x1="473.6" y1="904.2" x2="488.6" y2="904.2" stroke="#231815" stroke-width="1.1"/>
<polygon points="470.1,904.2 475.1,902 475.1,906.4" fill="#231815" stroke="none" stroke-width="1"/>
<text x="453.1" y="908.3" font-size="11.7" text-anchor="middle" textLength="19.8" lengthAdjust="spacingAndGlyphs" fill="#231815" style="font-family:'Liberation Sans',sans-serif" stroke="#231815" stroke-width="0.3">RXD</text>
<line x1="490.6" y1="923.2" x2="538.6" y2="923.2" stroke="#2e2a29" stroke-width="1.1"/>
<line x1="490.6" y1="947.2" x2="538.6" y2="947.2" stroke="#2e2a29" stroke-width="1.1"/>
<line x1="508.3" y1="923.2" x2="508.3" y2="947.2" stroke="#2e2a29" stroke-width="1.1"/>
<line x1="514.6" y1="923.2" x2="514.6" y2="947.2" stroke="#2e2a29" stroke-width="1.1"/>
<line x1="538.6" y1="923.2" x2="538.6" y2="947.2" stroke="#2e2a29" stroke-width="1.1"/>
<circle cx="526.6" cy="935.2" r="11.4" fill="none" stroke="#2e2a29" stroke-width="1.1"/>
<path d="M524.78,923.95V933.38M524.78,937.02V946.45M528.42,923.95V933.38M528.42,937.02V946.45M515.35,933.38H524.78M528.42,933.38H537.85M515.35,937.02H524.78M528.42,937.02H537.85" fill="none" stroke="#2e2a29" stroke-width="1.1"/>
<text x="499.45" y="939.7" font-size="12.5" text-anchor="middle" fill="#231815" style="font-family:'Liberation Sans',sans-serif">35</text>
<line x1="473.6" y1="933.2" x2="488.6" y2="933.2" stroke="#231815" stroke-width="1.1"/>
<polygon points="470.1,933.2 475.1,931 475.1,935.4" fill="#231815" stroke="none" stroke-width="1"/>
<text x="453.1" y="937.3" font-size="11.7" text-anchor="middle" textLength="19.8" lengthAdjust="spacingAndGlyphs" fill="#231815" style="font-family:'Liberation Sans',sans-serif" stroke="#231815" stroke-width="0.3">TXD</text>
<line x1="490.6" y1="950.5" x2="538.6" y2="950.5" stroke="#2e2a29" stroke-width="1.1"/>
<line x1="490.6" y1="974.5" x2="538.6" y2="974.5" stroke="#2e2a29" stroke-width="1.1"/>
<line x1="508.3" y1="950.5" x2="508.3" y2="974.5" stroke="#2e2a29" stroke-width="1.1"/>
<line x1="514.6" y1="950.5" x2="514.6" y2="974.5" stroke="#2e2a29" stroke-width="1.1"/>
<line x1="538.6" y1="950.5" x2="538.6" y2="974.5" stroke="#2e2a29" stroke-width="1.1"/>
<circle cx="526.6" cy="962.5" r="11.4" fill="none" stroke="#2e2a29" stroke-width="1.1"/>
<path d="M524.78,951.25V960.68M524.78,964.32V973.75M528.42,951.25V960.68M528.42,964.32V973.75M515.35,960.68H524.78M528.42,960.68H537.85M515.35,964.32H524.78M528.42,964.32H537.85" fill="none" stroke="#2e2a29" stroke-width="1.1"/>
<text x="499.45" y="967" font-size="12.5" text-anchor="middle" fill="#231815" style="font-family:'Liberation Sans',sans-serif">36</text>
<line x1="473.6" y1="960.5" x2="488.6" y2="960.5" stroke="#231815" stroke-width="1.1"/>
<polygon points="470.1,960.5 475.1,958.3 475.1,962.7" fill="#231815" stroke="none" stroke-width="1"/>
<text x="453.1" y="964.6" font-size="11.7" text-anchor="middle" textLength="19.8" lengthAdjust="spacingAndGlyphs" fill="#231815" style="font-family:'Liberation Sans',sans-serif" stroke="#231815" stroke-width="0.3">GND</text>
<text x="488.6" y="987.8" font-size="11.7" text-anchor="middle" textLength="33.3" lengthAdjust="spacingAndGlyphs" fill="#231815" style="font-family:'Liberation Sans',sans-serif" stroke="#231815" stroke-width="0.3">RS232</text>
<line x1="606" y1="894.2" x2="654" y2="894.2" stroke="#2e2a29" stroke-width="1.1"/>
<line x1="606" y1="918.2" x2="654" y2="918.2" stroke="#2e2a29" stroke-width="1.1"/>
<line x1="623.7" y1="894.2" x2="623.7" y2="918.2" stroke="#2e2a29" stroke-width="1.1"/>
<line x1="630" y1="894.2" x2="630" y2="918.2" stroke="#2e2a29" stroke-width="1.1"/>
<line x1="654" y1="894.2" x2="654" y2="918.2" stroke="#2e2a29" stroke-width="1.1"/>
<circle cx="642" cy="906.2" r="11.4" fill="none" stroke="#2e2a29" stroke-width="1.1"/>
<path d="M640.18,894.95V904.38M640.18,908.02V917.45M643.82,894.95V904.38M643.82,908.02V917.45M630.75,904.38H640.18M643.82,904.38H653.25M630.75,908.02H640.18M643.82,908.02H653.25" fill="none" stroke="#2e2a29" stroke-width="1.1"/>
<text x="614.85" y="910.7" font-size="12.5" text-anchor="middle" fill="#231815" style="font-family:'Liberation Sans',sans-serif">34</text>
<line x1="589" y1="904.2" x2="604" y2="904.2" stroke="#231815" stroke-width="1.1"/>
<polygon points="585.5,904.2 590.5,902 590.5,906.4" fill="#231815" stroke="none" stroke-width="1"/>
<text x="568.5" y="908.3" font-size="11.7" text-anchor="middle" textLength="19.8" lengthAdjust="spacingAndGlyphs" fill="#231815" style="font-family:'Liberation Sans',sans-serif" stroke="#231815" stroke-width="0.3">RXD</text>
<line x1="606" y1="923.2" x2="654" y2="923.2" stroke="#2e2a29" stroke-width="1.1"/>
<line x1="606" y1="947.2" x2="654" y2="947.2" stroke="#2e2a29" stroke-width="1.1"/>
<line x1="623.7" y1="923.2" x2="623.7" y2="947.2" stroke="#2e2a29" stroke-width="1.1"/>
<line x1="630" y1="923.2" x2="630" y2="947.2" stroke="#2e2a29" stroke-width="1.1"/>
<line x1="654" y1="923.2" x2="654" y2="947.2" stroke="#2e2a29" stroke-width="1.1"/>
<circle cx="642" cy="935.2" r="11.4" fill="none" stroke="#2e2a29" stroke-width="1.1"/>
<path d="M640.18,923.95V933.38M640.18,937.02V946.45M643.82,923.95V933.38M643.82,937.02V946.45M630.75,933.38H640.18M643.82,933.38H653.25M630.75,937.02H640.18M643.82,937.02H653.25" fill="none" stroke="#2e2a29" stroke-width="1.1"/>
<text x="614.85" y="939.7" font-size="12.5" text-anchor="middle" fill="#231815" style="font-family:'Liberation Sans',sans-serif">35</text>
<line x1="589" y1="933.2" x2="604" y2="933.2" stroke="#231815" stroke-width="1.1"/>
<polygon points="585.5,933.2 590.5,931 590.5,935.4" fill="#231815" stroke="none" stroke-width="1"/>
<text x="568.5" y="937.3" font-size="11.7" text-anchor="middle" textLength="19.8" lengthAdjust="spacingAndGlyphs" fill="#231815" style="font-family:'Liberation Sans',sans-serif" stroke="#231815" stroke-width="0.3">TXD</text>
<line x1="606" y1="950.5" x2="654" y2="950.5" stroke="#2e2a29" stroke-width="1.1"/>
<line x1="606" y1="974.5" x2="654" y2="974.5" stroke="#2e2a29" stroke-width="1.1"/>
<line x1="623.7" y1="950.5" x2="623.7" y2="974.5" stroke="#2e2a29" stroke-width="1.1"/>
<line x1="630" y1="950.5" x2="630" y2="974.5" stroke="#2e2a29" stroke-width="1.1"/>
<line x1="654" y1="950.5" x2="654" y2="974.5" stroke="#2e2a29" stroke-width="1.1"/>
<circle cx="642" cy="962.5" r="11.4" fill="none" stroke="#2e2a29" stroke-width="1.1"/>
<path d="M640.18,951.25V960.68M640.18,964.32V973.75M643.82,951.25V960.68M643.82,964.32V973.75M630.75,960.68H640.18M643.82,960.68H653.25M630.75,964.32H640.18M643.82,964.32H653.25" fill="none" stroke="#2e2a29" stroke-width="1.1"/>
<text x="614.85" y="967" font-size="12.5" text-anchor="middle" fill="#231815" style="font-family:'Liberation Sans',sans-serif">36</text>
<line x1="589" y1="960.5" x2="604" y2="960.5" stroke="#231815" stroke-width="1.1"/>
<polygon points="585.5,960.5 590.5,958.3 590.5,962.7" fill="#231815" stroke="none" stroke-width="1"/>
<text x="568.5" y="964.6" font-size="11.7" text-anchor="middle" textLength="19.8" lengthAdjust="spacingAndGlyphs" fill="#231815" style="font-family:'Liberation Sans',sans-serif" stroke="#231815" stroke-width="0.3">GND</text>
<text x="607.5" y="987.8" font-size="11.7" text-anchor="middle" textLength="40" lengthAdjust="spacingAndGlyphs" fill="#231815" style="font-family:'Liberation Sans',sans-serif" stroke="#231815" stroke-width="0.3">RS232C</text>
<rect x="764.2" y="805" width="192.6" height="201" fill="none" stroke="#231815" stroke-width="2"/>
<line x1="764.2" y1="830.7" x2="956.8" y2="830.7" stroke="#231815" stroke-width="1.3"/>
<text x="860.5" y="825" font-size="15.5" text-anchor="middle" font-weight="300" letter-spacing="4" fill="#3a3636" style="font-family:'Liberation Serif',serif">测量输入</text>
<line x1="765.7" y1="854.5" x2="813.5" y2="854.5" stroke="#2e2a29" stroke-width="1.1"/>
<line x1="765.7" y1="878.5" x2="813.5" y2="878.5" stroke="#2e2a29" stroke-width="1.1"/>
<line x1="783.8" y1="854.5" x2="783.8" y2="878.5" stroke="#2e2a29" stroke-width="1.1"/>
<line x1="789.3" y1="854.5" x2="789.3" y2="878.5" stroke="#2e2a29" stroke-width="1.1"/>
<line x1="813.5" y1="854.5" x2="813.5" y2="878.5" stroke="#2e2a29" stroke-width="1.1"/>
<circle cx="801.4" cy="866.5" r="11.4" fill="none" stroke="#2e2a29" stroke-width="1.1"/>
<path d="M799.58,855.25V864.68M799.58,868.32V877.75M803.22,855.25V864.68M803.22,868.32V877.75M790.15,864.68H799.58M803.22,864.68H812.65M790.15,868.32H799.58M803.22,868.32H812.65" fill="none" stroke="#2e2a29" stroke-width="1.1"/>
<text x="774.75" y="871" font-size="12.5" text-anchor="middle" fill="#231815" style="font-family:'Liberation Sans',sans-serif">23</text>
<line x1="765.7" y1="883.2" x2="813.5" y2="883.2" stroke="#2e2a29" stroke-width="1.1"/>
<line x1="765.7" y1="907.2" x2="813.5" y2="907.2" stroke="#2e2a29" stroke-width="1.1"/>
<line x1="783.8" y1="883.2" x2="783.8" y2="907.2" stroke="#2e2a29" stroke-width="1.1"/>
<line x1="789.3" y1="883.2" x2="789.3" y2="907.2" stroke="#2e2a29" stroke-width="1.1"/>
<line x1="813.5" y1="883.2" x2="813.5" y2="907.2" stroke="#2e2a29" stroke-width="1.1"/>
<circle cx="801.4" cy="895.2" r="11.4" fill="none" stroke="#2e2a29" stroke-width="1.1"/>
<path d="M799.58,883.95V893.38M799.58,897.02V906.45M803.22,883.95V893.38M803.22,897.02V906.45M790.15,893.38H799.58M803.22,893.38H812.65M790.15,897.02H799.58M803.22,897.02H812.65" fill="none" stroke="#2e2a29" stroke-width="1.1"/>
<text x="774.75" y="899.7" font-size="12.5" text-anchor="middle" fill="#231815" style="font-family:'Liberation Sans',sans-serif">24</text>
<line x1="765.7" y1="937.8" x2="813.5" y2="937.8" stroke="#2e2a29" stroke-width="1.1"/>
<line x1="765.7" y1="961.8" x2="813.5" y2="961.8" stroke="#2e2a29" stroke-width="1.1"/>
<line x1="783.8" y1="937.8" x2="783.8" y2="961.8" stroke="#2e2a29" stroke-width="1.1"/>
<line x1="789.3" y1="937.8" x2="789.3" y2="961.8" stroke="#2e2a29" stroke-width="1.1"/>
<line x1="813.5" y1="937.8" x2="813.5" y2="961.8" stroke="#2e2a29" stroke-width="1.1"/>
<circle cx="801.4" cy="949.8" r="11.4" fill="none" stroke="#2e2a29" stroke-width="1.1"/>
<path d="M799.58,938.55V947.98M799.58,951.62V961.05M803.22,938.55V947.98M803.22,951.62V961.05M790.15,947.98H799.58M803.22,947.98H812.65M790.15,951.62H799.58M803.22,951.62H812.65" fill="none" stroke="#2e2a29" stroke-width="1.1"/>
<text x="774.75" y="954.3" font-size="12.5" text-anchor="middle" fill="#231815" style="font-family:'Liberation Sans',sans-serif">23</text>
<line x1="765.7" y1="966.7" x2="813.5" y2="966.7" stroke="#2e2a29" stroke-width="1.1"/>
<line x1="765.7" y1="990.7" x2="813.5" y2="990.7" stroke="#2e2a29" stroke-width="1.1"/>
<line x1="783.8" y1="966.7" x2="783.8" y2="990.7" stroke="#2e2a29" stroke-width="1.1"/>
<line x1="789.3" y1="966.7" x2="789.3" y2="990.7" stroke="#2e2a29" stroke-width="1.1"/>
<line x1="813.5" y1="966.7" x2="813.5" y2="990.7" stroke="#2e2a29" stroke-width="1.1"/>
<circle cx="801.4" cy="978.7" r="11.4" fill="none" stroke="#2e2a29" stroke-width="1.1"/>
<path d="M799.58,967.45V976.88M799.58,980.52V989.95M803.22,967.45V976.88M803.22,980.52V989.95M790.15,976.88H799.58M803.22,976.88H812.65M790.15,980.52H799.58M803.22,980.52H812.65" fill="none" stroke="#2e2a29" stroke-width="1.1"/>
<text x="774.75" y="983.2" font-size="12.5" text-anchor="middle" fill="#231815" style="font-family:'Liberation Sans',sans-serif">24</text>
<line x1="863.4" y1="841.4" x2="911.1" y2="841.4" stroke="#2e2a29" stroke-width="1.1"/>
<line x1="863.4" y1="865.7" x2="911.1" y2="865.7" stroke="#2e2a29" stroke-width="1.1"/>
<line x1="881.2" y1="841.4" x2="881.2" y2="865.7" stroke="#2e2a29" stroke-width="1.1"/>
<line x1="887.3" y1="841.4" x2="887.3" y2="865.7" stroke="#2e2a29" stroke-width="1.1"/>
<line x1="911.1" y1="841.4" x2="911.1" y2="865.7" stroke="#2e2a29" stroke-width="1.1"/>
<circle cx="899.2" cy="853.55" r="11.3" fill="none" stroke="#2e2a29" stroke-width="1.1"/>
<path d="M897.39,842.4V851.74M897.39,855.36V864.7M901.01,842.4V851.74M901.01,855.36V864.7M888.05,851.74H897.39M901.01,851.74H910.35M888.05,855.36H897.39M901.01,855.36H910.35" fill="none" stroke="#2e2a29" stroke-width="1.1"/>
<text x="872.3" y="858.05" font-size="12.5" text-anchor="middle" fill="#231815" style="font-family:'Liberation Sans',sans-serif">22</text>
<line x1="863.4" y1="869.7" x2="911.1" y2="869.7" stroke="#2e2a29" stroke-width="1.1"/>
<line x1="863.4" y1="894" x2="911.1" y2="894" stroke="#2e2a29" stroke-width="1.1"/>
<line x1="881.2" y1="869.7" x2="881.2" y2="894" stroke="#2e2a29" stroke-width="1.1"/>
<line x1="887.3" y1="869.7" x2="887.3" y2="894" stroke="#2e2a29" stroke-width="1.1"/>
<line x1="911.1" y1="869.7" x2="911.1" y2="894" stroke="#2e2a29" stroke-width="1.1"/>
<circle cx="899.2" cy="881.85" r="11.3" fill="none" stroke="#2e2a29" stroke-width="1.1"/>
<path d="M897.39,870.7V880.04M897.39,883.66V893M901.01,870.7V880.04M901.01,883.66V893M888.05,880.04H897.39M901.01,880.04H910.35M888.05,883.66H897.39M901.01,883.66H910.35" fill="none" stroke="#2e2a29" stroke-width="1.1"/>
<text x="872.3" y="886.35" font-size="12.5" text-anchor="middle" fill="#231815" style="font-family:'Liberation Sans',sans-serif">23</text>
<line x1="863.4" y1="898.6" x2="911.1" y2="898.6" stroke="#2e2a29" stroke-width="1.1"/>
<line x1="863.4" y1="922.9" x2="911.1" y2="922.9" stroke="#2e2a29" stroke-width="1.1"/>
<line x1="881.2" y1="898.6" x2="881.2" y2="922.9" stroke="#2e2a29" stroke-width="1.1"/>
<line x1="887.3" y1="898.6" x2="887.3" y2="922.9" stroke="#2e2a29" stroke-width="1.1"/>
<line x1="911.1" y1="898.6" x2="911.1" y2="922.9" stroke="#2e2a29" stroke-width="1.1"/>
<circle cx="899.2" cy="910.75" r="11.3" fill="none" stroke="#2e2a29" stroke-width="1.1"/>
<path d="M897.39,899.6V908.94M897.39,912.56V921.9M901.01,899.6V908.94M901.01,912.56V921.9M888.05,908.94H897.39M901.01,908.94H910.35M888.05,912.56H897.39M901.01,912.56H910.35" fill="none" stroke="#2e2a29" stroke-width="1.1"/>
<text x="872.3" y="915.25" font-size="12.5" text-anchor="middle" fill="#231815" style="font-family:'Liberation Sans',sans-serif">24</text>
<line x1="863.4" y1="936.4" x2="911.1" y2="936.4" stroke="#2e2a29" stroke-width="1.1"/>
<line x1="863.4" y1="960.7" x2="911.1" y2="960.7" stroke="#2e2a29" stroke-width="1.1"/>
<line x1="881.2" y1="936.4" x2="881.2" y2="960.7" stroke="#2e2a29" stroke-width="1.1"/>
<line x1="887.3" y1="936.4" x2="887.3" y2="960.7" stroke="#2e2a29" stroke-width="1.1"/>
<line x1="911.1" y1="936.4" x2="911.1" y2="960.7" stroke="#2e2a29" stroke-width="1.1"/>
<circle cx="899.2" cy="948.55" r="11.3" fill="none" stroke="#2e2a29" stroke-width="1.1"/>
<path d="M897.39,937.4V946.74M897.39,950.36V959.7M901.01,937.4V946.74M901.01,950.36V959.7M888.05,946.74H897.39M901.01,946.74H910.35M888.05,950.36H897.39M901.01,950.36H910.35" fill="none" stroke="#2e2a29" stroke-width="1.1"/>
<text x="872.3" y="953.05" font-size="12.5" text-anchor="middle" fill="#231815" style="font-family:'Liberation Sans',sans-serif">22</text>
<line x1="863.4" y1="965.3" x2="911.1" y2="965.3" stroke="#2e2a29" stroke-width="1.1"/>
<line x1="863.4" y1="989.6" x2="911.1" y2="989.6" stroke="#2e2a29" stroke-width="1.1"/>
<line x1="881.2" y1="965.3" x2="881.2" y2="989.6" stroke="#2e2a29" stroke-width="1.1"/>
<line x1="887.3" y1="965.3" x2="887.3" y2="989.6" stroke="#2e2a29" stroke-width="1.1"/>
<line x1="911.1" y1="965.3" x2="911.1" y2="989.6" stroke="#2e2a29" stroke-width="1.1"/>
<circle cx="899.2" cy="977.45" r="11.3" fill="none" stroke="#2e2a29" stroke-width="1.1"/>
<path d="M897.39,966.3V975.64M897.39,979.26V988.6M901.01,966.3V975.64M901.01,979.26V988.6M888.05,975.64H897.39M901.01,975.64H910.35M888.05,979.26H897.39M901.01,979.26H910.35" fill="none" stroke="#2e2a29" stroke-width="1.1"/>
<text x="872.3" y="981.95" font-size="12.5" text-anchor="middle" fill="#231815" style="font-family:'Liberation Sans',sans-serif">24</text>
<polyline points="813.5,865.7 831.7,865.7 837.8,881.5 831.7,895.4 813.5,895.4" fill="none" stroke="#231815" stroke-width="1.5"/>
<text x="821.6" y="863.5" font-size="12" text-anchor="middle" fill="#231815" style="font-family:'Liberation Sans',sans-serif">+</text>
<line x1="818" y1="902" x2="825" y2="902" stroke="#231815" stroke-width="1.2"/>
<text x="850.5" y="869.8" font-size="13.5" text-anchor="middle" textLength="12.4" lengthAdjust="spacingAndGlyphs" fill="#231815" style="font-family:'Liberation Sans',sans-serif" stroke="#231815" stroke-width="0.3">TC</text>
<text x="846.5" y="884.4" font-size="13" text-anchor="middle" textLength="5" lengthAdjust="spacingAndGlyphs" fill="#231815" style="font-family:'Liberation Sans',sans-serif" stroke="#231815" stroke-width="0.3">/</text>
<text x="849.8" y="897.6" font-size="13.5" text-anchor="middle" textLength="13.9" lengthAdjust="spacingAndGlyphs" fill="#231815" style="font-family:'Liberation Sans',sans-serif" stroke="#231815" stroke-width="0.3">mV</text>
<polyline points="911.1,852.9 926.7,852.9 926.7,857.6" fill="none" stroke="#231815" stroke-width="1.5"/>
<rect x="923.6" y="857.6" width="6.1" height="20.2" fill="none" stroke="#231815" stroke-width="1.3"/>
<polyline points="926.7,877.8 926.7,910.1 911.1,910.1" fill="none" stroke="#231815" stroke-width="1.5"/>
<polyline points="911.1,881.2 919.6,881.2 919.6,896 926.7,896" fill="none" stroke="#231815" stroke-width="1.5"/>
<text x="942" y="883.4" font-size="12" text-anchor="middle" textLength="19.8" lengthAdjust="spacingAndGlyphs" fill="#231815" style="font-family:'Liberation Sans',sans-serif" stroke="#231815" stroke-width="0.3">RTD</text>
<line x1="813.5" y1="949.5" x2="836.8" y2="949.5" stroke="#231815" stroke-width="1.5"/>
<circle cx="836.8" cy="949.5" r="3.6" fill="#231815"/>
<line x1="813.5" y1="978.2" x2="836.8" y2="978.2" stroke="#231815" stroke-width="1.5"/>
<circle cx="836.8" cy="978.2" r="3.6" fill="#231815"/>
<text x="821.6" y="946.5" font-size="12" text-anchor="middle" fill="#231815" style="font-family:'Liberation Sans',sans-serif">+</text>
<line x1="818" y1="983.8" x2="825" y2="983.8" stroke="#231815" stroke-width="1.2"/>
<text x="839.2" y="969.5" font-size="13" text-anchor="middle" textLength="7.5" lengthAdjust="spacingAndGlyphs" fill="#231815" style="font-family:'Liberation Sans',sans-serif" stroke="#231815" stroke-width="0.3">V</text>
<line x1="911.1" y1="947.9" x2="935.8" y2="947.9" stroke="#231815" stroke-width="1.5"/>
<circle cx="935.8" cy="947.9" r="3.6" fill="#231815"/>
<line x1="911.1" y1="976.8" x2="935.8" y2="976.8" stroke="#231815" stroke-width="1.5"/>
<circle cx="935.8" cy="976.8" r="3.6" fill="#231815"/>
<text x="918.6" y="944.5" font-size="12" text-anchor="middle" fill="#231815" style="font-family:'Liberation Sans',sans-serif">+</text>
<line x1="915" y1="982.8" x2="922" y2="982.8" stroke="#231815" stroke-width="1.2"/>
<text x="938.8" y="969.5" font-size="12.5" text-anchor="middle" textLength="13.5" lengthAdjust="spacingAndGlyphs" fill="#231815" style="font-family:'Liberation Sans',sans-serif" stroke="#231815" stroke-width="0.3">mA</text>
<text x="29.6" y="1102" font-size="24" font-weight="500" letter-spacing="1.5" fill="#1a1a1a" style="font-family:'Liberation Sans',sans-serif" stroke="#1a1a1a" stroke-width="0.45">★注1：上述接线图中在同一组端子标有不同功能的,只能选择其中一种功能。</text>
<text x="124" y="1144.5" font-size="24" font-weight="500" letter-spacing="1.07" fill="#1a1a1a" style="font-family:'Liberation Sans',sans-serif" stroke="#1a1a1a" stroke-width="0.45">如RS485和RS232在同一组接线端子上,只能选择一种。</text>
<text x="47.8" y="1187" font-size="24" font-weight="500" letter-spacing="1.6" fill="#1a1a1a" style="font-family:'Liberation Sans',sans-serif" stroke="#1a1a1a" stroke-width="0.45">注2：不同尺寸仪表，接线图不尽相同，请以实物为准。</text>
<line x1="0" y1="1234.8" x2="990" y2="1234.8" stroke="#a4a4a4" stroke-width="1.7" stroke-dasharray="21.7 23.3" stroke-dashoffset="10"/>
<circle cx="78.5" cy="1282.4" r="4.5" fill="#f80000"/>
<text x="95.8" y="1292" font-size="30" letter-spacing="3.35" fill="#1a1a1a" style="font-family:'Liberation Sans',sans-serif">外置单相移相可控硅输出控制电路</text>
<text x="67.6" y="1342" font-size="23" font-weight="500" letter-spacing="0.2" fill="#111111" style="font-family:'Liberation Sans',sans-serif" stroke="#111111" stroke-width="0.75">此电路为简易示意图，不含电气保护，具体布线请在专业电工指导下进行；</text>
<rect x="73.1" y="1822.4" width="293.6" height="84.9" fill="#f4f4f4" stroke="#4a4444" stroke-width="1.3"/>
<line x1="77.3" y1="1822.4" x2="77.3" y2="1907.3" stroke="#4a4444" stroke-width="1.1"/>
<line x1="107.9" y1="1822.4" x2="107.9" y2="1907.3" stroke="#4a4444" stroke-width="1.1"/>
<line x1="112.1" y1="1822.4" x2="112.1" y2="1907.3" stroke="#4a4444" stroke-width="1.1"/>
<line x1="296.7" y1="1822.4" x2="296.7" y2="1907.3" stroke="#4a4444" stroke-width="1.1"/>
<line x1="317.9" y1="1822.4" x2="317.9" y2="1907.3" stroke="#4a4444" stroke-width="1.1"/>
<line x1="330.6" y1="1822.4" x2="330.6" y2="1907.3" stroke="#4a4444" stroke-width="1.1"/>
<line x1="334.6" y1="1822.4" x2="334.6" y2="1907.3" stroke="#4a4444" stroke-width="1.1"/>
<line x1="362.4" y1="1822.4" x2="362.4" y2="1907.3" stroke="#4a4444" stroke-width="1.1"/>
<circle cx="92.7" cy="1865" r="14.2" fill="none" stroke="#d8d8d8" stroke-width="2"/>
<circle cx="347.5" cy="1865" r="14.2" fill="none" stroke="#d8d8d8" stroke-width="2"/>
<rect x="184.3" y="1850" width="109.4" height="35.2" rx="17.6" fill="#8c8c8c" stroke="none" stroke-width="0"/>
<rect x="120.2" y="1847.9" width="36.6" height="38.2" fill="#f4f4f4" stroke="#4a4444" stroke-width="1.1"/>
<circle cx="138.4" cy="1867.2" r="15.6" fill="none" stroke="#2a2525" stroke-width="1.4"/>
<path d="M136.2,1851.76V1865M136.2,1869.4V1882.64M140.6,1851.76V1865M140.6,1869.4V1882.64M122.96,1865H136.2M140.6,1865H153.84M122.96,1869.4H136.2M140.6,1869.4H153.84" fill="none" stroke="#2a2525" stroke-width="1.4"/>
<text x="138.4" y="1841.7" font-size="18.5" text-anchor="middle" fill="#231815" style="font-family:'Liberation Sans',sans-serif">1</text>
<text x="138.4" y="1901.8" font-size="14.8" text-anchor="middle" textLength="15.1" lengthAdjust="spacingAndGlyphs" fill="#231815" style="font-family:'Liberation Sans',sans-serif" stroke="#231815" stroke-width="0.2">AK</text>
<rect x="186.4" y="1847.9" width="36.6" height="38.2" fill="none" stroke="#4a4444" stroke-width="1.1"/>
<circle cx="204.6" cy="1867.2" r="15.6" fill="none" stroke="#2a2525" stroke-width="1.4"/>
<path d="M202.4,1851.76V1865M202.4,1869.4V1882.64M206.8,1851.76V1865M206.8,1869.4V1882.64M189.16,1865H202.4M206.8,1865H220.04M189.16,1869.4H202.4M206.8,1869.4H220.04" fill="none" stroke="#2a2525" stroke-width="1.4"/>
<text x="204.6" y="1841.7" font-size="18.5" text-anchor="middle" fill="#231815" style="font-family:'Liberation Sans',sans-serif">2</text>
<text x="204.6" y="1901.8" font-size="14.8" text-anchor="middle" textLength="15.1" lengthAdjust="spacingAndGlyphs" fill="#231815" style="font-family:'Liberation Sans',sans-serif" stroke="#231815" stroke-width="0.2">K1</text>
<rect x="254" y="1847.9" width="36.6" height="38.2" fill="none" stroke="#4a4444" stroke-width="1.1"/>
<circle cx="272.2" cy="1867.2" r="15.6" fill="none" stroke="#2a2525" stroke-width="1.4"/>
<path d="M270,1851.76V1865M270,1869.4V1882.64M274.4,1851.76V1865M274.4,1869.4V1882.64M256.76,1865H270M274.4,1865H287.64M256.76,1869.4H270M274.4,1869.4H287.64" fill="none" stroke="#2a2525" stroke-width="1.4"/>
<text x="272.2" y="1841.7" font-size="18.5" text-anchor="middle" fill="#231815" style="font-family:'Liberation Sans',sans-serif">3</text>
<text x="272.2" y="1901.8" font-size="14.8" text-anchor="middle" textLength="15.1" lengthAdjust="spacingAndGlyphs" fill="#231815" style="font-family:'Liberation Sans',sans-serif" stroke="#231815" stroke-width="0.2">A2</text>
<line x1="296.7" y1="1862.7" x2="317.9" y2="1862.7" stroke="#4a4444" stroke-width="1"/>
<line x1="296.7" y1="1869" x2="317.9" y2="1869" stroke="#4a4444" stroke-width="1"/>
<rect x="300.9" y="1832.9" width="10.6" height="4.6" fill="#888" stroke="#4a4444" stroke-width="1"/>
<text x="0" y="0" font-size="6.5" fill="#231815" text-anchor="middle" style="font-family:'Liberation Sans',sans-serif" transform="translate(324.5,1835.2) rotate(-90)" dy="2.3">K2</text>
<rect x="300.9" y="1849.8" width="10.6" height="4.6" fill="#888" stroke="#4a4444" stroke-width="1"/>
<text x="0" y="0" font-size="6.5" fill="#231815" text-anchor="middle" style="font-family:'Liberation Sans',sans-serif" transform="translate(324.5,1852.1) rotate(-90)" dy="2.3">G2</text>
<rect x="300.9" y="1877.4" width="10.6" height="4.6" fill="#888" stroke="#4a4444" stroke-width="1"/>
<text x="0" y="0" font-size="6.5" fill="#231815" text-anchor="middle" style="font-family:'Liberation Sans',sans-serif" transform="translate(324.5,1879.7) rotate(-90)" dy="2.3">G1</text>
<rect x="300.9" y="1892.3" width="10.6" height="4.6" fill="#888" stroke="#4a4444" stroke-width="1"/>
<text x="0" y="0" font-size="6.5" fill="#231815" text-anchor="middle" style="font-family:'Liberation Sans',sans-serif" transform="translate(324.5,1894.6) rotate(-90)" dy="2.3">K1</text>
<text x="233.2" y="1937.5" font-size="19.5" text-anchor="middle" fill="#231815" style="font-family:'Liberation Sans',sans-serif">2个单向可控硅反并联（2和3短接）</text>
<text x="51.2" y="1381" font-size="15" letter-spacing="0.8" fill="#231815" style="font-family:'Liberation Sans',sans-serif">电源端</text>
<text x="110.3" y="1381" font-size="14" textLength="44" lengthAdjust="spacingAndGlyphs" fill="#231815" style="font-family:'Liberation Sans',sans-serif">AC220V</text>
<text x="52.7" y="1406.3" font-size="14" font-weight="bold" textLength="7.5" lengthAdjust="spacingAndGlyphs" fill="#e60012" style="font-family:'Liberation Sans',sans-serif">L</text>
<text x="52.5" y="1438" font-size="14" font-weight="bold" textLength="8.5" lengthAdjust="spacingAndGlyphs" fill="#231815" style="font-family:'Liberation Sans',sans-serif">N</text>
<line x1="67.9" y1="1401.4" x2="826" y2="1401.4" stroke="#e60012" stroke-width="2.3"/>
<line x1="67.9" y1="1432.7" x2="829" y2="1432.7" stroke="#231815" stroke-width="2.3"/>
<line x1="128.9" y1="1401.5" x2="128.9" y2="1866.4" stroke="#e60012" stroke-width="2"/>
<rect x="121.8" y="1453" width="14.2" height="47" fill="none" stroke="#231815" stroke-width="1.6"/>
<text x="72.3" y="1484.8" font-size="15" letter-spacing="0.5" fill="#231815" style="font-family:'Liberation Sans',sans-serif">溶断器</text>
<text x="138.5" y="1483.5" font-size="11" textLength="12" lengthAdjust="spacingAndGlyphs" fill="#231815" style="font-family:'Liberation Sans',sans-serif" stroke="#231815" stroke-width="0.35">BX</text>
<line x1="196.3" y1="1432.7" x2="196.3" y2="1485.3" stroke="#231815" stroke-width="1.8"/>
<rect x="178.8" y="1466.1" width="30.9" height="149.1" fill="none" stroke="#231815" stroke-width="1.6"/>
<path d="M196.3,1485.3 a11.4,11.4 0 0 0 0,22.82a11.4,11.4 0 0 0 0,22.82a11.4,11.4 0 0 0 0,22.82a11.4,11.4 0 0 0 0,22.82a11.4,11.4 0 0 0 0,22.82" fill="none" stroke="#231815" stroke-width="1.6"/>
<circle cx="196.3" cy="1485.3" r="4" fill="#231815"/>
<circle cx="196.3" cy="1599.4" r="4" fill="#231815"/>
<text x="216.5" y="1551.5" font-size="15.5" fill="#231815" style="font-family:'Liberation Sans',sans-serif">负载</text>
<line x1="196.8" y1="1599.4" x2="197.6" y2="1796.4" stroke="#231815" stroke-width="1.8"/>
<circle cx="128.9" cy="1700.4" r="3.7" fill="#231815"/>
<circle cx="197.6" cy="1700.4" r="3.7" fill="#231815"/>
<line x1="128.9" y1="1700.4" x2="154.1" y2="1700.4" stroke="#231815" stroke-width="1.6"/>
<line x1="181.8" y1="1700.4" x2="197.6" y2="1700.4" stroke="#231815" stroke-width="1.6"/>
<rect x="154.1" y="1696" width="27.7" height="9.5" fill="none" stroke="#231815" stroke-width="1.6"/>
<polyline points="155,1712.5 181.4,1688 181.4,1684.5" fill="none" stroke="#231815" stroke-width="1.4"/>
<polyline points="170.5,1686.5 175.5,1689 170.5,1691.5" fill="none" stroke="#231815" stroke-width="1"/>
<text x="169.7" y="1722.5" font-size="10.5" text-anchor="middle" textLength="17" lengthAdjust="spacingAndGlyphs" fill="#231815" style="font-family:'Liberation Sans',sans-serif" stroke="#231815" stroke-width="0.25">ZNR</text>
<text x="205" y="1707.5" font-size="15" fill="#231815" style="font-family:'Liberation Sans',sans-serif">压敏电阻</text>
<circle cx="128.9" cy="1750.5" r="3.7" fill="#231815"/>
<circle cx="197.6" cy="1750.5" r="3.7" fill="#231815"/>
<line x1="128.9" y1="1750.5" x2="144" y2="1750.5" stroke="#231815" stroke-width="1.6"/>
<line x1="149.5" y1="1750.5" x2="162.6" y2="1750.5" stroke="#231815" stroke-width="1.6"/>
<line x1="181.8" y1="1750.5" x2="197.6" y2="1750.5" stroke="#231815" stroke-width="1.6"/>
<line x1="144" y1="1742.8" x2="144" y2="1758.6" stroke="#231815" stroke-width="2"/>
<line x1="149.5" y1="1742.8" x2="149.5" y2="1758.6" stroke="#231815" stroke-width="2"/>
<rect x="162.6" y="1746.9" width="19.2" height="8.5" fill="none" stroke="#231815" stroke-width="1.6"/>
<text x="160.2" y="1771.3" font-size="10.5" text-anchor="middle" textLength="11" lengthAdjust="spacingAndGlyphs" fill="#231815" style="font-family:'Liberation Sans',sans-serif" stroke="#231815" stroke-width="0.25">RC</text>
<text x="205" y="1757" font-size="15" fill="#231815" style="font-family:'Liberation Sans',sans-serif">阻容吸收</text>
<circle cx="128.9" cy="1796.4" r="4" fill="#231815"/>
<circle cx="197.6" cy="1796.4" r="4" fill="#231815"/>
<polyline points="128.9,1796.4 52.7,1796.4 52.7,1948.5 409.3,1948.5 409.3,1922" fill="none" stroke="#e60012" stroke-width="2"/>
<polyline points="197.6,1796.6 409.3,1796.6 409.3,1818" fill="none" stroke="#231815" stroke-width="2"/>
<line x1="197.6" y1="1796.4" x2="197.6" y2="1867" stroke="#231815" stroke-width="1.8"/>
<polygon points="395.7,1816.6 423.3,1816.6 409.5,1831.7" fill="#231815" stroke="none" stroke-width="1"/>
<line x1="394.5" y1="1832.4" x2="424.5" y2="1832.4" stroke="#231815" stroke-width="2.2"/>
<line x1="409.3" y1="1832" x2="409.3" y2="1852.5" stroke="#231815" stroke-width="2"/>
<line x1="409.3" y1="1881.2" x2="409.3" y2="1907" stroke="#e60012" stroke-width="2"/>
<line x1="394.5" y1="1907.1" x2="424.5" y2="1907.1" stroke="#231815" stroke-width="2.2"/>
<polygon points="395.7,1922.9 423.3,1922.9 409.5,1907.8" fill="#231815" stroke="none" stroke-width="1"/>
<text x="421.4" y="1811.8" font-size="13.5" textLength="40" lengthAdjust="spacingAndGlyphs" fill="#231815" style="font-family:'Liberation Sans',sans-serif">IN4001</text>
<text x="421.4" y="1942" font-size="13.5" textLength="40" lengthAdjust="spacingAndGlyphs" fill="#231815" style="font-family:'Liberation Sans',sans-serif">IN4001</text>
<polyline points="311.5,1852.3 478.4,1852.3 478.4,1856.5 492.4,1856.5" fill="none" stroke="#009a44" stroke-width="2"/>
<polyline points="311.5,1880.5 465,1880.5 465,1867.8 492.4,1867.8" fill="none" stroke="#009a44" stroke-width="2"/>
<circle cx="494.2" cy="1856.5" r="1.8" fill="#fff" stroke="#231815" stroke-width="1"/>
<line x1="496" y1="1856.5" x2="509.2" y2="1856.5" stroke="#555" stroke-width="1"/>
<circle cx="494.2" cy="1867.8" r="1.8" fill="#fff" stroke="#231815" stroke-width="1"/>
<line x1="496" y1="1867.8" x2="509.2" y2="1867.8" stroke="#555" stroke-width="1"/>
<circle cx="409.3" cy="1852.5" r="3.8" fill="#231815"/>
<circle cx="409.3" cy="1881.2" r="3.8" fill="#231815"/>
<text x="498.5" y="1852.2" font-size="10" text-anchor="middle" textLength="9" lengthAdjust="spacingAndGlyphs" fill="#231815" style="font-family:'Liberation Sans',sans-serif">G1</text>
<text x="498.4" y="1880.2" font-size="10" text-anchor="middle" textLength="13.5" lengthAdjust="spacingAndGlyphs" fill="#231815" style="font-family:'Liberation Sans',sans-serif">GL1</text>
<line x1="372.3" y1="1448.4" x2="630.4" y2="1448.4" stroke="#231815" stroke-width="1.7"/>
<line x1="372.3" y1="1773.5" x2="630.4" y2="1773.5" stroke="#231815" stroke-width="1.7"/>
<line x1="372.3" y1="1448.4" x2="372.3" y2="1773.5" stroke="#231815" stroke-width="1.7"/>
<line x1="630.4" y1="1448.4" x2="630.4" y2="1773.5" stroke="#231815" stroke-width="1.7"/>
<line x1="372.3" y1="1451.3" x2="419.5" y2="1451.3" stroke="#2a2525" stroke-width="1.4"/>
<line x1="372.3" y1="1473.7" x2="419.5" y2="1473.7" stroke="#2a2525" stroke-width="1.4"/>
<line x1="389.5" y1="1451.3" x2="389.5" y2="1473.7" stroke="#2a2525" stroke-width="1.3"/>
<line x1="396.2" y1="1451.3" x2="396.2" y2="1473.7" stroke="#2a2525" stroke-width="1.6"/>
<line x1="419.5" y1="1451.3" x2="419.5" y2="1473.7" stroke="#2a2525" stroke-width="1.4"/>
<circle cx="407.8" cy="1462.5" r="10.9" fill="none" stroke="#2a2525" stroke-width="1.3"/>
<path d="M406.15,1451.73V1460.85M406.15,1464.15V1473.27M409.45,1451.73V1460.85M409.45,1464.15V1473.27M397.03,1460.85H406.15M409.45,1460.85H418.57M397.03,1464.15H406.15M409.45,1464.15H418.57" fill="none" stroke="#2a2525" stroke-width="1.3"/>
<text x="381" y="1468.5" font-size="15.5" text-anchor="middle" font-weight="bold" textLength="7.6" lengthAdjust="spacingAndGlyphs" fill="#231815" style="font-family:'Liberation Sans',sans-serif">1</text>
<line x1="532.2" y1="1451.3" x2="630.4" y2="1451.3" stroke="#2a2525" stroke-width="1.4"/>
<line x1="532.2" y1="1473.7" x2="630.4" y2="1473.7" stroke="#2a2525" stroke-width="1.4"/>
<line x1="550.2" y1="1451.3" x2="550.2" y2="1473.7" stroke="#2a2525" stroke-width="1.4"/>
<line x1="556.3" y1="1451.3" x2="556.3" y2="1473.7" stroke="#2a2525" stroke-width="1.4"/>
<line x1="579.7" y1="1451.3" x2="579.7" y2="1473.7" stroke="#2a2525" stroke-width="1.4"/>
<line x1="583.2" y1="1451.3" x2="583.2" y2="1473.7" stroke="#2a2525" stroke-width="1.4"/>
<line x1="607.1" y1="1451.3" x2="607.1" y2="1473.7" stroke="#2a2525" stroke-width="1.4"/>
<line x1="613.6" y1="1451.3" x2="613.6" y2="1473.7" stroke="#2a2525" stroke-width="1.4"/>
<circle cx="568.1" cy="1462.5" r="10.9" fill="none" stroke="#2a2525" stroke-width="1.3"/>
<path d="M566.45,1451.73V1460.85M566.45,1464.15V1473.27M569.75,1451.73V1460.85M569.75,1464.15V1473.27M557.33,1460.85H566.45M569.75,1460.85H578.87M557.33,1464.15H566.45M569.75,1464.15H578.87" fill="none" stroke="#2a2525" stroke-width="1.3"/>
<circle cx="595.1" cy="1462.5" r="10.9" fill="none" stroke="#2a2525" stroke-width="1.3"/>
<path d="M593.45,1451.73V1460.85M593.45,1464.15V1473.27M596.75,1451.73V1460.85M596.75,1464.15V1473.27M584.33,1460.85H593.45M596.75,1460.85H605.87M584.33,1464.15H593.45M596.75,1464.15H605.87" fill="none" stroke="#2a2525" stroke-width="1.3"/>
<text x="540.7" y="1464.1" font-size="11.8" text-anchor="middle" font-weight="bold" textLength="12.5" lengthAdjust="spacingAndGlyphs" fill="#231815" style="font-family:'Liberation Sans',sans-serif">25</text>
<text x="621.6" y="1467.4" font-size="11.8" text-anchor="middle" font-weight="bold" textLength="11.6" lengthAdjust="spacingAndGlyphs" fill="#231815" style="font-family:'Liberation Sans',sans-serif">13</text>
<line x1="372.3" y1="1478.3" x2="419.5" y2="1478.3" stroke="#2a2525" stroke-width="1.4"/>
<line x1="372.3" y1="1500.7" x2="419.5" y2="1500.7" stroke="#2a2525" stroke-width="1.4"/>
<line x1="389.5" y1="1478.3" x2="389.5" y2="1500.7" stroke="#2a2525" stroke-width="1.3"/>
<line x1="396.2" y1="1478.3" x2="396.2" y2="1500.7" stroke="#2a2525" stroke-width="1.6"/>
<line x1="419.5" y1="1478.3" x2="419.5" y2="1500.7" stroke="#2a2525" stroke-width="1.4"/>
<circle cx="407.8" cy="1489.5" r="10.9" fill="none" stroke="#2a2525" stroke-width="1.3"/>
<path d="M406.15,1478.73V1487.85M406.15,1491.15V1500.27M409.45,1478.73V1487.85M409.45,1491.15V1500.27M397.03,1487.85H406.15M409.45,1487.85H418.57M397.03,1491.15H406.15M409.45,1491.15H418.57" fill="none" stroke="#2a2525" stroke-width="1.3"/>
<text x="381" y="1495.5" font-size="15.5" text-anchor="middle" font-weight="bold" textLength="7.6" lengthAdjust="spacingAndGlyphs" fill="#231815" style="font-family:'Liberation Sans',sans-serif">2</text>
<line x1="532.2" y1="1478.3" x2="630.4" y2="1478.3" stroke="#2a2525" stroke-width="1.4"/>
<line x1="532.2" y1="1500.7" x2="630.4" y2="1500.7" stroke="#2a2525" stroke-width="1.4"/>
<line x1="550.2" y1="1478.3" x2="550.2" y2="1500.7" stroke="#2a2525" stroke-width="1.4"/>
<line x1="556.3" y1="1478.3" x2="556.3" y2="1500.7" stroke="#2a2525" stroke-width="1.4"/>
<line x1="579.7" y1="1478.3" x2="579.7" y2="1500.7" stroke="#2a2525" stroke-width="1.4"/>
<line x1="583.2" y1="1478.3" x2="583.2" y2="1500.7" stroke="#2a2525" stroke-width="1.4"/>
<line x1="607.1" y1="1478.3" x2="607.1" y2="1500.7" stroke="#2a2525" stroke-width="1.4"/>
<line x1="613.6" y1="1478.3" x2="613.6" y2="1500.7" stroke="#2a2525" stroke-width="1.4"/>
<circle cx="568.1" cy="1489.5" r="10.9" fill="none" stroke="#2a2525" stroke-width="1.3"/>
<path d="M566.45,1478.73V1487.85M566.45,1491.15V1500.27M569.75,1478.73V1487.85M569.75,1491.15V1500.27M557.33,1487.85H566.45M569.75,1487.85H578.87M557.33,1491.15H566.45M569.75,1491.15H578.87" fill="none" stroke="#2a2525" stroke-width="1.3"/>
<circle cx="595.1" cy="1489.5" r="10.9" fill="none" stroke="#2a2525" stroke-width="1.3"/>
<path d="M593.45,1478.73V1487.85M593.45,1491.15V1500.27M596.75,1478.73V1487.85M596.75,1491.15V1500.27M584.33,1487.85H593.45M596.75,1487.85H605.87M584.33,1491.15H593.45M596.75,1491.15H605.87" fill="none" stroke="#2a2525" stroke-width="1.3"/>
<text x="540.7" y="1491.1" font-size="11.8" text-anchor="middle" font-weight="bold" textLength="12.5" lengthAdjust="spacingAndGlyphs" fill="#231815" style="font-family:'Liberation Sans',sans-serif">26</text>
<text x="621.6" y="1494.4" font-size="11.8" text-anchor="middle" font-weight="bold" textLength="11.6" lengthAdjust="spacingAndGlyphs" fill="#231815" style="font-family:'Liberation Sans',sans-serif">14</text>
<line x1="372.3" y1="1505.3" x2="419.5" y2="1505.3" stroke="#2a2525" stroke-width="1.4"/>
<line x1="372.3" y1="1527.7" x2="419.5" y2="1527.7" stroke="#2a2525" stroke-width="1.4"/>
<line x1="389.5" y1="1505.3" x2="389.5" y2="1527.7" stroke="#2a2525" stroke-width="1.3"/>
<line x1="396.2" y1="1505.3" x2="396.2" y2="1527.7" stroke="#2a2525" stroke-width="1.6"/>
<line x1="419.5" y1="1505.3" x2="419.5" y2="1527.7" stroke="#2a2525" stroke-width="1.4"/>
<circle cx="407.8" cy="1516.5" r="10.9" fill="none" stroke="#2a2525" stroke-width="1.3"/>
<path d="M406.15,1505.73V1514.85M406.15,1518.15V1527.27M409.45,1505.73V1514.85M409.45,1518.15V1527.27M397.03,1514.85H406.15M409.45,1514.85H418.57M397.03,1518.15H406.15M409.45,1518.15H418.57" fill="none" stroke="#2a2525" stroke-width="1.3"/>
<text x="381" y="1522.5" font-size="15.5" text-anchor="middle" font-weight="bold" textLength="7.6" lengthAdjust="spacingAndGlyphs" fill="#231815" style="font-family:'Liberation Sans',sans-serif">3</text>
<line x1="532.2" y1="1505.3" x2="630.4" y2="1505.3" stroke="#2a2525" stroke-width="1.4"/>
<line x1="532.2" y1="1527.7" x2="630.4" y2="1527.7" stroke="#2a2525" stroke-width="1.4"/>
<line x1="550.2" y1="1505.3" x2="550.2" y2="1527.7" stroke="#2a2525" stroke-width="1.4"/>
<line x1="556.3" y1="1505.3" x2="556.3" y2="1527.7" stroke="#2a2525" stroke-width="1.4"/>
<line x1="579.7" y1="1505.3" x2="579.7" y2="1527.7" stroke="#2a2525" stroke-width="1.4"/>
<line x1="583.2" y1="1505.3" x2="583.2" y2="1527.7" stroke="#2a2525" stroke-width="1.4"/>
<line x1="607.1" y1="1505.3" x2="607.1" y2="1527.7" stroke="#2a2525" stroke-width="1.4"/>
<line x1="613.6" y1="1505.3" x2="613.6" y2="1527.7" stroke="#2a2525" stroke-width="1.4"/>
<circle cx="568.1" cy="1516.5" r="10.9" fill="none" stroke="#2a2525" stroke-width="1.3"/>
<path d="M566.45,1505.73V1514.85M566.45,1518.15V1527.27M569.75,1505.73V1514.85M569.75,1518.15V1527.27M557.33,1514.85H566.45M569.75,1514.85H578.87M557.33,1518.15H566.45M569.75,1518.15H578.87" fill="none" stroke="#2a2525" stroke-width="1.3"/>
<circle cx="595.1" cy="1516.5" r="10.9" fill="none" stroke="#2a2525" stroke-width="1.3"/>
<path d="M593.45,1505.73V1514.85M593.45,1518.15V1527.27M596.75,1505.73V1514.85M596.75,1518.15V1527.27M584.33,1514.85H593.45M596.75,1514.85H605.87M584.33,1518.15H593.45M596.75,1518.15H605.87" fill="none" stroke="#2a2525" stroke-width="1.3"/>
<text x="540.7" y="1518.1" font-size="11.8" text-anchor="middle" font-weight="bold" textLength="12.5" lengthAdjust="spacingAndGlyphs" fill="#231815" style="font-family:'Liberation Sans',sans-serif">27</text>
<text x="621.6" y="1521.4" font-size="11.8" text-anchor="middle" font-weight="bold" textLength="11.6" lengthAdjust="spacingAndGlyphs" fill="#231815" style="font-family:'Liberation Sans',sans-serif">15</text>
<line x1="372.3" y1="1532.3" x2="419.5" y2="1532.3" stroke="#2a2525" stroke-width="1.4"/>
<line x1="372.3" y1="1554.7" x2="419.5" y2="1554.7" stroke="#2a2525" stroke-width="1.4"/>
<line x1="389.5" y1="1532.3" x2="389.5" y2="1554.7" stroke="#2a2525" stroke-width="1.3"/>
<line x1="396.2" y1="1532.3" x2="396.2" y2="1554.7" stroke="#2a2525" stroke-width="1.6"/>
<line x1="419.5" y1="1532.3" x2="419.5" y2="1554.7" stroke="#2a2525" stroke-width="1.4"/>
<circle cx="407.8" cy="1543.5" r="10.9" fill="none" stroke="#2a2525" stroke-width="1.3"/>
<path d="M406.15,1532.73V1541.85M406.15,1545.15V1554.27M409.45,1532.73V1541.85M409.45,1545.15V1554.27M397.03,1541.85H406.15M409.45,1541.85H418.57M397.03,1545.15H406.15M409.45,1545.15H418.57" fill="none" stroke="#2a2525" stroke-width="1.3"/>
<text x="381" y="1549.5" font-size="15.5" text-anchor="middle" font-weight="bold" textLength="7.6" lengthAdjust="spacingAndGlyphs" fill="#231815" style="font-family:'Liberation Sans',sans-serif">4</text>
<line x1="532.2" y1="1532.3" x2="630.4" y2="1532.3" stroke="#2a2525" stroke-width="1.4"/>
<line x1="532.2" y1="1554.7" x2="630.4" y2="1554.7" stroke="#2a2525" stroke-width="1.4"/>
<line x1="550.2" y1="1532.3" x2="550.2" y2="1554.7" stroke="#2a2525" stroke-width="1.4"/>
<line x1="556.3" y1="1532.3" x2="556.3" y2="1554.7" stroke="#2a2525" stroke-width="1.4"/>
<line x1="579.7" y1="1532.3" x2="579.7" y2="1554.7" stroke="#2a2525" stroke-width="1.4"/>
<line x1="583.2" y1="1532.3" x2="583.2" y2="1554.7" stroke="#2a2525" stroke-width="1.4"/>
<line x1="607.1" y1="1532.3" x2="607.1" y2="1554.7" stroke="#2a2525" stroke-width="1.4"/>
<line x1="613.6" y1="1532.3" x2="613.6" y2="1554.7" stroke="#2a2525" stroke-width="1.4"/>
<circle cx="568.1" cy="1543.5" r="10.9" fill="none" stroke="#2a2525" stroke-width="1.3"/>
<path d="M566.45,1532.73V1541.85M566.45,1545.15V1554.27M569.75,1532.73V1541.85M569.75,1545.15V1554.27M557.33,1541.85H566.45M569.75,1541.85H578.87M557.33,1545.15H566.45M569.75,1545.15H578.87" fill="none" stroke="#2a2525" stroke-width="1.3"/>
<circle cx="595.1" cy="1543.5" r="10.9" fill="none" stroke="#2a2525" stroke-width="1.3"/>
<path d="M593.45,1532.73V1541.85M593.45,1545.15V1554.27M596.75,1532.73V1541.85M596.75,1545.15V1554.27M584.33,1541.85H593.45M596.75,1541.85H605.87M584.33,1545.15H593.45M596.75,1545.15H605.87" fill="none" stroke="#2a2525" stroke-width="1.3"/>
<text x="540.7" y="1545.1" font-size="11.8" text-anchor="middle" font-weight="bold" textLength="12.5" lengthAdjust="spacingAndGlyphs" fill="#231815" style="font-family:'Liberation Sans',sans-serif">28</text>
<text x="621.6" y="1548.4" font-size="11.8" text-anchor="middle" font-weight="bold" textLength="11.6" lengthAdjust="spacingAndGlyphs" fill="#231815" style="font-family:'Liberation Sans',sans-serif">16</text>
<line x1="372.3" y1="1559.3" x2="419.5" y2="1559.3" stroke="#2a2525" stroke-width="1.4"/>
<line x1="372.3" y1="1581.7" x2="419.5" y2="1581.7" stroke="#2a2525" stroke-width="1.4"/>
<line x1="389.5" y1="1559.3" x2="389.5" y2="1581.7" stroke="#2a2525" stroke-width="1.3"/>
<line x1="396.2" y1="1559.3" x2="396.2" y2="1581.7" stroke="#2a2525" stroke-width="1.6"/>
<line x1="419.5" y1="1559.3" x2="419.5" y2="1581.7" stroke="#2a2525" stroke-width="1.4"/>
<circle cx="407.8" cy="1570.5" r="10.9" fill="none" stroke="#2a2525" stroke-width="1.3"/>
<path d="M406.15,1559.73V1568.85M406.15,1572.15V1581.27M409.45,1559.73V1568.85M409.45,1572.15V1581.27M397.03,1568.85H406.15M409.45,1568.85H418.57M397.03,1572.15H406.15M409.45,1572.15H418.57" fill="none" stroke="#2a2525" stroke-width="1.3"/>
<text x="381" y="1576.5" font-size="15.5" text-anchor="middle" font-weight="bold" textLength="7.6" lengthAdjust="spacingAndGlyphs" fill="#231815" style="font-family:'Liberation Sans',sans-serif">5</text>
<line x1="532.2" y1="1559.3" x2="630.4" y2="1559.3" stroke="#2a2525" stroke-width="1.4"/>
<line x1="532.2" y1="1581.7" x2="630.4" y2="1581.7" stroke="#2a2525" stroke-width="1.4"/>
<line x1="550.2" y1="1559.3" x2="550.2" y2="1581.7" stroke="#2a2525" stroke-width="1.4"/>
<line x1="556.3" y1="1559.3" x2="556.3" y2="1581.7" stroke="#2a2525" stroke-width="1.4"/>
<line x1="579.7" y1="1559.3" x2="579.7" y2="1581.7" stroke="#2a2525" stroke-width="1.4"/>
<line x1="583.2" y1="1559.3" x2="583.2" y2="1581.7" stroke="#2a2525" stroke-width="1.4"/>
<line x1="607.1" y1="1559.3" x2="607.1" y2="1581.7" stroke="#2a2525" stroke-width="1.4"/>
<line x1="613.6" y1="1559.3" x2="613.6" y2="1581.7" stroke="#2a2525" stroke-width="1.4"/>
<circle cx="568.1" cy="1570.5" r="10.9" fill="none" stroke="#2a2525" stroke-width="1.3"/>
<path d="M566.45,1559.73V1568.85M566.45,1572.15V1581.27M569.75,1559.73V1568.85M569.75,1572.15V1581.27M557.33,1568.85H566.45M569.75,1568.85H578.87M557.33,1572.15H566.45M569.75,1572.15H578.87" fill="none" stroke="#2a2525" stroke-width="1.3"/>
<circle cx="595.1" cy="1570.5" r="10.9" fill="none" stroke="#2a2525" stroke-width="1.3"/>
<path d="M593.45,1559.73V1568.85M593.45,1572.15V1581.27M596.75,1559.73V1568.85M596.75,1572.15V1581.27M584.33,1568.85H593.45M596.75,1568.85H605.87M584.33,1572.15H593.45M596.75,1572.15H605.87" fill="none" stroke="#2a2525" stroke-width="1.3"/>
<text x="540.7" y="1572.1" font-size="11.8" text-anchor="middle" font-weight="bold" textLength="12.5" lengthAdjust="spacingAndGlyphs" fill="#231815" style="font-family:'Liberation Sans',sans-serif">29</text>
<text x="621.6" y="1575.4" font-size="11.8" text-anchor="middle" font-weight="bold" textLength="11.6" lengthAdjust="spacingAndGlyphs" fill="#231815" style="font-family:'Liberation Sans',sans-serif">17</text>
<line x1="372.3" y1="1586.3" x2="419.5" y2="1586.3" stroke="#2a2525" stroke-width="1.4"/>
<line x1="372.3" y1="1608.7" x2="419.5" y2="1608.7" stroke="#2a2525" stroke-width="1.4"/>
<line x1="389.5" y1="1586.3" x2="389.5" y2="1608.7" stroke="#2a2525" stroke-width="1.3"/>
<line x1="396.2" y1="1586.3" x2="396.2" y2="1608.7" stroke="#2a2525" stroke-width="1.6"/>
<line x1="419.5" y1="1586.3" x2="419.5" y2="1608.7" stroke="#2a2525" stroke-width="1.4"/>
<circle cx="407.8" cy="1597.5" r="10.9" fill="none" stroke="#2a2525" stroke-width="1.3"/>
<path d="M406.15,1586.73V1595.85M406.15,1599.15V1608.27M409.45,1586.73V1595.85M409.45,1599.15V1608.27M397.03,1595.85H406.15M409.45,1595.85H418.57M397.03,1599.15H406.15M409.45,1599.15H418.57" fill="none" stroke="#2a2525" stroke-width="1.3"/>
<text x="381" y="1603.5" font-size="15.5" text-anchor="middle" font-weight="bold" textLength="7.6" lengthAdjust="spacingAndGlyphs" fill="#231815" style="font-family:'Liberation Sans',sans-serif">6</text>
<line x1="532.2" y1="1586.3" x2="630.4" y2="1586.3" stroke="#2a2525" stroke-width="1.4"/>
<line x1="532.2" y1="1608.7" x2="630.4" y2="1608.7" stroke="#2a2525" stroke-width="1.4"/>
<line x1="550.2" y1="1586.3" x2="550.2" y2="1608.7" stroke="#2a2525" stroke-width="1.4"/>
<line x1="556.3" y1="1586.3" x2="556.3" y2="1608.7" stroke="#2a2525" stroke-width="1.4"/>
<line x1="579.7" y1="1586.3" x2="579.7" y2="1608.7" stroke="#2a2525" stroke-width="1.4"/>
<line x1="583.2" y1="1586.3" x2="583.2" y2="1608.7" stroke="#2a2525" stroke-width="1.4"/>
<line x1="607.1" y1="1586.3" x2="607.1" y2="1608.7" stroke="#2a2525" stroke-width="1.4"/>
<line x1="613.6" y1="1586.3" x2="613.6" y2="1608.7" stroke="#2a2525" stroke-width="1.4"/>
<circle cx="568.1" cy="1597.5" r="10.9" fill="none" stroke="#2a2525" stroke-width="1.3"/>
<path d="M566.45,1586.73V1595.85M566.45,1599.15V1608.27M569.75,1586.73V1595.85M569.75,1599.15V1608.27M557.33,1595.85H566.45M569.75,1595.85H578.87M557.33,1599.15H566.45M569.75,1599.15H578.87" fill="none" stroke="#2a2525" stroke-width="1.3"/>
<circle cx="595.1" cy="1597.5" r="10.9" fill="none" stroke="#2a2525" stroke-width="1.3"/>
<path d="M593.45,1586.73V1595.85M593.45,1599.15V1608.27M596.75,1586.73V1595.85M596.75,1599.15V1608.27M584.33,1595.85H593.45M596.75,1595.85H605.87M584.33,1599.15H593.45M596.75,1599.15H605.87" fill="none" stroke="#2a2525" stroke-width="1.3"/>
<text x="540.7" y="1599.1" font-size="11.8" text-anchor="middle" font-weight="bold" textLength="12.5" lengthAdjust="spacingAndGlyphs" fill="#231815" style="font-family:'Liberation Sans',sans-serif">30</text>
<text x="621.6" y="1602.4" font-size="11.8" text-anchor="middle" font-weight="bold" textLength="11.6" lengthAdjust="spacingAndGlyphs" fill="#231815" style="font-family:'Liberation Sans',sans-serif">18</text>
<line x1="372.3" y1="1613.3" x2="419.5" y2="1613.3" stroke="#2a2525" stroke-width="1.4"/>
<line x1="372.3" y1="1635.7" x2="419.5" y2="1635.7" stroke="#2a2525" stroke-width="1.4"/>
<line x1="389.5" y1="1613.3" x2="389.5" y2="1635.7" stroke="#2a2525" stroke-width="1.3"/>
<line x1="396.2" y1="1613.3" x2="396.2" y2="1635.7" stroke="#2a2525" stroke-width="1.6"/>
<line x1="419.5" y1="1613.3" x2="419.5" y2="1635.7" stroke="#2a2525" stroke-width="1.4"/>
<circle cx="407.8" cy="1624.5" r="10.9" fill="none" stroke="#2a2525" stroke-width="1.3"/>
<path d="M406.15,1613.73V1622.85M406.15,1626.15V1635.27M409.45,1613.73V1622.85M409.45,1626.15V1635.27M397.03,1622.85H406.15M409.45,1622.85H418.57M397.03,1626.15H406.15M409.45,1626.15H418.57" fill="none" stroke="#2a2525" stroke-width="1.3"/>
<text x="381" y="1630.5" font-size="15.5" text-anchor="middle" font-weight="bold" textLength="7.6" lengthAdjust="spacingAndGlyphs" fill="#231815" style="font-family:'Liberation Sans',sans-serif">7</text>
<line x1="532.2" y1="1613.3" x2="630.4" y2="1613.3" stroke="#2a2525" stroke-width="1.4"/>
<line x1="532.2" y1="1635.7" x2="630.4" y2="1635.7" stroke="#2a2525" stroke-width="1.4"/>
<line x1="550.2" y1="1613.3" x2="550.2" y2="1635.7" stroke="#2a2525" stroke-width="1.4"/>
<line x1="556.3" y1="1613.3" x2="556.3" y2="1635.7" stroke="#2a2525" stroke-width="1.4"/>
<line x1="579.7" y1="1613.3" x2="579.7" y2="1635.7" stroke="#2a2525" stroke-width="1.4"/>
<line x1="583.2" y1="1613.3" x2="583.2" y2="1635.7" stroke="#2a2525" stroke-width="1.4"/>
<line x1="607.1" y1="1613.3" x2="607.1" y2="1635.7" stroke="#2a2525" stroke-width="1.4"/>
<line x1="613.6" y1="1613.3" x2="613.6" y2="1635.7" stroke="#2a2525" stroke-width="1.4"/>
<circle cx="568.1" cy="1624.5" r="10.9" fill="none" stroke="#2a2525" stroke-width="1.3"/>
<path d="M566.45,1613.73V1622.85M566.45,1626.15V1635.27M569.75,1613.73V1622.85M569.75,1626.15V1635.27M557.33,1622.85H566.45M569.75,1622.85H578.87M557.33,1626.15H566.45M569.75,1626.15H578.87" fill="none" stroke="#2a2525" stroke-width="1.3"/>
<circle cx="595.1" cy="1624.5" r="10.9" fill="none" stroke="#2a2525" stroke-width="1.3"/>
<path d="M593.45,1613.73V1622.85M593.45,1626.15V1635.27M596.75,1613.73V1622.85M596.75,1626.15V1635.27M584.33,1622.85H593.45M596.75,1622.85H605.87M584.33,1626.15H593.45M596.75,1626.15H605.87" fill="none" stroke="#2a2525" stroke-width="1.3"/>
<text x="540.7" y="1626.1" font-size="11.8" text-anchor="middle" font-weight="bold" textLength="12.5" lengthAdjust="spacingAndGlyphs" fill="#231815" style="font-family:'Liberation Sans',sans-serif">31</text>
<text x="621.6" y="1629.4" font-size="11.8" text-anchor="middle" font-weight="bold" textLength="11.6" lengthAdjust="spacingAndGlyphs" fill="#231815" style="font-family:'Liberation Sans',sans-serif">19</text>
<line x1="372.3" y1="1640.3" x2="419.5" y2="1640.3" stroke="#2a2525" stroke-width="1.4"/>
<line x1="372.3" y1="1662.7" x2="419.5" y2="1662.7" stroke="#2a2525" stroke-width="1.4"/>
<line x1="389.5" y1="1640.3" x2="389.5" y2="1662.7" stroke="#2a2525" stroke-width="1.3"/>
<line x1="396.2" y1="1640.3" x2="396.2" y2="1662.7" stroke="#2a2525" stroke-width="1.6"/>
<line x1="419.5" y1="1640.3" x2="419.5" y2="1662.7" stroke="#2a2525" stroke-width="1.4"/>
<circle cx="407.8" cy="1651.5" r="10.9" fill="none" stroke="#2a2525" stroke-width="1.3"/>
<path d="M406.15,1640.73V1649.85M406.15,1653.15V1662.27M409.45,1640.73V1649.85M409.45,1653.15V1662.27M397.03,1649.85H406.15M409.45,1649.85H418.57M397.03,1653.15H406.15M409.45,1653.15H418.57" fill="none" stroke="#2a2525" stroke-width="1.3"/>
<text x="381" y="1657.5" font-size="15.5" text-anchor="middle" font-weight="bold" textLength="7.6" lengthAdjust="spacingAndGlyphs" fill="#231815" style="font-family:'Liberation Sans',sans-serif">8</text>
<line x1="532.2" y1="1640.3" x2="630.4" y2="1640.3" stroke="#2a2525" stroke-width="1.4"/>
<line x1="532.2" y1="1662.7" x2="630.4" y2="1662.7" stroke="#2a2525" stroke-width="1.4"/>
<line x1="550.2" y1="1640.3" x2="550.2" y2="1662.7" stroke="#2a2525" stroke-width="1.4"/>
<line x1="556.3" y1="1640.3" x2="556.3" y2="1662.7" stroke="#2a2525" stroke-width="1.4"/>
<line x1="579.7" y1="1640.3" x2="579.7" y2="1662.7" stroke="#2a2525" stroke-width="1.4"/>
<line x1="583.2" y1="1640.3" x2="583.2" y2="1662.7" stroke="#2a2525" stroke-width="1.4"/>
<line x1="607.1" y1="1640.3" x2="607.1" y2="1662.7" stroke="#2a2525" stroke-width="1.4"/>
<line x1="613.6" y1="1640.3" x2="613.6" y2="1662.7" stroke="#2a2525" stroke-width="1.4"/>
<circle cx="568.1" cy="1651.5" r="10.9" fill="none" stroke="#2a2525" stroke-width="1.3"/>
<path d="M566.45,1640.73V1649.85M566.45,1653.15V1662.27M569.75,1640.73V1649.85M569.75,1653.15V1662.27M557.33,1649.85H566.45M569.75,1649.85H578.87M557.33,1653.15H566.45M569.75,1653.15H578.87" fill="none" stroke="#2a2525" stroke-width="1.3"/>
<circle cx="595.1" cy="1651.5" r="10.9" fill="none" stroke="#2a2525" stroke-width="1.3"/>
<path d="M593.45,1640.73V1649.85M593.45,1653.15V1662.27M596.75,1640.73V1649.85M596.75,1653.15V1662.27M584.33,1649.85H593.45M596.75,1649.85H605.87M584.33,1653.15H593.45M596.75,1653.15H605.87" fill="none" stroke="#2a2525" stroke-width="1.3"/>
<text x="540.7" y="1653.1" font-size="11.8" text-anchor="middle" font-weight="bold" textLength="12.5" lengthAdjust="spacingAndGlyphs" fill="#231815" style="font-family:'Liberation Sans',sans-serif">32</text>
<text x="621.6" y="1656.4" font-size="11.8" text-anchor="middle" font-weight="bold" textLength="11.6" lengthAdjust="spacingAndGlyphs" fill="#231815" style="font-family:'Liberation Sans',sans-serif">20</text>
<line x1="372.3" y1="1667.3" x2="419.5" y2="1667.3" stroke="#2a2525" stroke-width="1.4"/>
<line x1="372.3" y1="1689.7" x2="419.5" y2="1689.7" stroke="#2a2525" stroke-width="1.4"/>
<line x1="389.5" y1="1667.3" x2="389.5" y2="1689.7" stroke="#2a2525" stroke-width="1.3"/>
<line x1="396.2" y1="1667.3" x2="396.2" y2="1689.7" stroke="#2a2525" stroke-width="1.6"/>
<line x1="419.5" y1="1667.3" x2="419.5" y2="1689.7" stroke="#2a2525" stroke-width="1.4"/>
<circle cx="407.8" cy="1678.5" r="10.9" fill="none" stroke="#2a2525" stroke-width="1.3"/>
<path d="M406.15,1667.73V1676.85M406.15,1680.15V1689.27M409.45,1667.73V1676.85M409.45,1680.15V1689.27M397.03,1676.85H406.15M409.45,1676.85H418.57M397.03,1680.15H406.15M409.45,1680.15H418.57" fill="none" stroke="#2a2525" stroke-width="1.3"/>
<text x="381" y="1684.5" font-size="15.5" text-anchor="middle" font-weight="bold" textLength="7.6" lengthAdjust="spacingAndGlyphs" fill="#231815" style="font-family:'Liberation Sans',sans-serif">9</text>
<line x1="532.2" y1="1667.3" x2="630.4" y2="1667.3" stroke="#2a2525" stroke-width="1.4"/>
<line x1="532.2" y1="1689.7" x2="630.4" y2="1689.7" stroke="#2a2525" stroke-width="1.4"/>
<line x1="550.2" y1="1667.3" x2="550.2" y2="1689.7" stroke="#2a2525" stroke-width="1.4"/>
<line x1="556.3" y1="1667.3" x2="556.3" y2="1689.7" stroke="#2a2525" stroke-width="1.4"/>
<line x1="579.7" y1="1667.3" x2="579.7" y2="1689.7" stroke="#2a2525" stroke-width="1.4"/>
<line x1="583.2" y1="1667.3" x2="583.2" y2="1689.7" stroke="#2a2525" stroke-width="1.4"/>
<line x1="607.1" y1="1667.3" x2="607.1" y2="1689.7" stroke="#2a2525" stroke-width="1.4"/>
<line x1="613.6" y1="1667.3" x2="613.6" y2="1689.7" stroke="#2a2525" stroke-width="1.4"/>
<circle cx="568.1" cy="1678.5" r="10.9" fill="none" stroke="#2a2525" stroke-width="1.3"/>
<path d="M566.45,1667.73V1676.85M566.45,1680.15V1689.27M569.75,1667.73V1676.85M569.75,1680.15V1689.27M557.33,1676.85H566.45M569.75,1676.85H578.87M557.33,1680.15H566.45M569.75,1680.15H578.87" fill="none" stroke="#2a2525" stroke-width="1.3"/>
<circle cx="595.1" cy="1678.5" r="10.9" fill="none" stroke="#2a2525" stroke-width="1.3"/>
<path d="M593.45,1667.73V1676.85M593.45,1680.15V1689.27M596.75,1667.73V1676.85M596.75,1680.15V1689.27M584.33,1676.85H593.45M596.75,1676.85H605.87M584.33,1680.15H593.45M596.75,1680.15H605.87" fill="none" stroke="#2a2525" stroke-width="1.3"/>
<text x="540.7" y="1680.1" font-size="11.8" text-anchor="middle" font-weight="bold" textLength="12.5" lengthAdjust="spacingAndGlyphs" fill="#231815" style="font-family:'Liberation Sans',sans-serif">33</text>
<text x="621.6" y="1683.4" font-size="11.8" text-anchor="middle" font-weight="bold" textLength="11.6" lengthAdjust="spacingAndGlyphs" fill="#231815" style="font-family:'Liberation Sans',sans-serif">21</text>
<line x1="372.3" y1="1694.3" x2="419.5" y2="1694.3" stroke="#2a2525" stroke-width="1.4"/>
<line x1="372.3" y1="1716.7" x2="419.5" y2="1716.7" stroke="#2a2525" stroke-width="1.4"/>
<line x1="389.5" y1="1694.3" x2="389.5" y2="1716.7" stroke="#2a2525" stroke-width="1.3"/>
<line x1="396.2" y1="1694.3" x2="396.2" y2="1716.7" stroke="#2a2525" stroke-width="1.6"/>
<line x1="419.5" y1="1694.3" x2="419.5" y2="1716.7" stroke="#2a2525" stroke-width="1.4"/>
<circle cx="407.8" cy="1705.5" r="10.9" fill="none" stroke="#2a2525" stroke-width="1.3"/>
<path d="M406.15,1694.73V1703.85M406.15,1707.15V1716.27M409.45,1694.73V1703.85M409.45,1707.15V1716.27M397.03,1703.85H406.15M409.45,1703.85H418.57M397.03,1707.15H406.15M409.45,1707.15H418.57" fill="none" stroke="#2a2525" stroke-width="1.3"/>
<text x="381" y="1711.5" font-size="15.5" text-anchor="middle" font-weight="bold" textLength="12.5" lengthAdjust="spacingAndGlyphs" fill="#231815" style="font-family:'Liberation Sans',sans-serif">10</text>
<line x1="532.2" y1="1694.3" x2="630.4" y2="1694.3" stroke="#2a2525" stroke-width="1.4"/>
<line x1="532.2" y1="1716.7" x2="630.4" y2="1716.7" stroke="#2a2525" stroke-width="1.4"/>
<line x1="550.2" y1="1694.3" x2="550.2" y2="1716.7" stroke="#2a2525" stroke-width="1.4"/>
<line x1="556.3" y1="1694.3" x2="556.3" y2="1716.7" stroke="#2a2525" stroke-width="1.4"/>
<line x1="579.7" y1="1694.3" x2="579.7" y2="1716.7" stroke="#2a2525" stroke-width="1.4"/>
<line x1="583.2" y1="1694.3" x2="583.2" y2="1716.7" stroke="#2a2525" stroke-width="1.4"/>
<line x1="607.1" y1="1694.3" x2="607.1" y2="1716.7" stroke="#2a2525" stroke-width="1.4"/>
<line x1="613.6" y1="1694.3" x2="613.6" y2="1716.7" stroke="#2a2525" stroke-width="1.4"/>
<circle cx="568.1" cy="1705.5" r="10.9" fill="none" stroke="#2a2525" stroke-width="1.3"/>
<path d="M566.45,1694.73V1703.85M566.45,1707.15V1716.27M569.75,1694.73V1703.85M569.75,1707.15V1716.27M557.33,1703.85H566.45M569.75,1703.85H578.87M557.33,1707.15H566.45M569.75,1707.15H578.87" fill="none" stroke="#2a2525" stroke-width="1.3"/>
<circle cx="595.1" cy="1705.5" r="10.9" fill="none" stroke="#2a2525" stroke-width="1.3"/>
<path d="M593.45,1694.73V1703.85M593.45,1707.15V1716.27M596.75,1694.73V1703.85M596.75,1707.15V1716.27M584.33,1703.85H593.45M596.75,1703.85H605.87M584.33,1707.15H593.45M596.75,1707.15H605.87" fill="none" stroke="#2a2525" stroke-width="1.3"/>
<text x="540.7" y="1707.1" font-size="11.8" text-anchor="middle" font-weight="bold" textLength="12.5" lengthAdjust="spacingAndGlyphs" fill="#231815" style="font-family:'Liberation Sans',sans-serif">34</text>
<text x="621.6" y="1710.4" font-size="11.8" text-anchor="middle" font-weight="bold" textLength="11.6" lengthAdjust="spacingAndGlyphs" fill="#231815" style="font-family:'Liberation Sans',sans-serif">22</text>
<line x1="372.3" y1="1721.3" x2="419.5" y2="1721.3" stroke="#2a2525" stroke-width="1.4"/>
<line x1="372.3" y1="1743.7" x2="419.5" y2="1743.7" stroke="#2a2525" stroke-width="1.4"/>
<line x1="389.5" y1="1721.3" x2="389.5" y2="1743.7" stroke="#2a2525" stroke-width="1.3"/>
<line x1="396.2" y1="1721.3" x2="396.2" y2="1743.7" stroke="#2a2525" stroke-width="1.6"/>
<line x1="419.5" y1="1721.3" x2="419.5" y2="1743.7" stroke="#2a2525" stroke-width="1.4"/>
<circle cx="407.8" cy="1732.5" r="10.9" fill="none" stroke="#2a2525" stroke-width="1.3"/>
<path d="M406.15,1721.73V1730.85M406.15,1734.15V1743.27M409.45,1721.73V1730.85M409.45,1734.15V1743.27M397.03,1730.85H406.15M409.45,1730.85H418.57M397.03,1734.15H406.15M409.45,1734.15H418.57" fill="none" stroke="#2a2525" stroke-width="1.3"/>
<text x="381" y="1738.5" font-size="15.5" text-anchor="middle" font-weight="bold" textLength="12.5" lengthAdjust="spacingAndGlyphs" fill="#231815" style="font-family:'Liberation Sans',sans-serif">11</text>
<line x1="532.2" y1="1721.3" x2="630.4" y2="1721.3" stroke="#2a2525" stroke-width="1.4"/>
<line x1="532.2" y1="1743.7" x2="630.4" y2="1743.7" stroke="#2a2525" stroke-width="1.4"/>
<line x1="550.2" y1="1721.3" x2="550.2" y2="1743.7" stroke="#2a2525" stroke-width="1.4"/>
<line x1="556.3" y1="1721.3" x2="556.3" y2="1743.7" stroke="#2a2525" stroke-width="1.4"/>
<line x1="579.7" y1="1721.3" x2="579.7" y2="1743.7" stroke="#2a2525" stroke-width="1.4"/>
<line x1="583.2" y1="1721.3" x2="583.2" y2="1743.7" stroke="#2a2525" stroke-width="1.4"/>
<line x1="607.1" y1="1721.3" x2="607.1" y2="1743.7" stroke="#2a2525" stroke-width="1.4"/>
<line x1="613.6" y1="1721.3" x2="613.6" y2="1743.7" stroke="#2a2525" stroke-width="1.4"/>
<circle cx="568.1" cy="1732.5" r="10.9" fill="none" stroke="#2a2525" stroke-width="1.3"/>
<path d="M566.45,1721.73V1730.85M566.45,1734.15V1743.27M569.75,1721.73V1730.85M569.75,1734.15V1743.27M557.33,1730.85H566.45M569.75,1730.85H578.87M557.33,1734.15H566.45M569.75,1734.15H578.87" fill="none" stroke="#2a2525" stroke-width="1.3"/>
<circle cx="595.1" cy="1732.5" r="10.9" fill="none" stroke="#2a2525" stroke-width="1.3"/>
<path d="M593.45,1721.73V1730.85M593.45,1734.15V1743.27M596.75,1721.73V1730.85M596.75,1734.15V1743.27M584.33,1730.85H593.45M596.75,1730.85H605.87M584.33,1734.15H593.45M596.75,1734.15H605.87" fill="none" stroke="#2a2525" stroke-width="1.3"/>
<text x="540.7" y="1734.1" font-size="11.8" text-anchor="middle" font-weight="bold" textLength="12.5" lengthAdjust="spacingAndGlyphs" fill="#231815" style="font-family:'Liberation Sans',sans-serif">35</text>
<text x="621.6" y="1737.4" font-size="11.8" text-anchor="middle" font-weight="bold" textLength="11.6" lengthAdjust="spacingAndGlyphs" fill="#231815" style="font-family:'Liberation Sans',sans-serif">23</text>
<line x1="372.3" y1="1748.3" x2="419.5" y2="1748.3" stroke="#2a2525" stroke-width="1.4"/>
<line x1="372.3" y1="1770.7" x2="419.5" y2="1770.7" stroke="#2a2525" stroke-width="1.4"/>
<line x1="389.5" y1="1748.3" x2="389.5" y2="1770.7" stroke="#2a2525" stroke-width="1.3"/>
<line x1="396.2" y1="1748.3" x2="396.2" y2="1770.7" stroke="#2a2525" stroke-width="1.6"/>
<line x1="419.5" y1="1748.3" x2="419.5" y2="1770.7" stroke="#2a2525" stroke-width="1.4"/>
<circle cx="407.8" cy="1759.5" r="10.9" fill="none" stroke="#2a2525" stroke-width="1.3"/>
<path d="M406.15,1748.73V1757.85M406.15,1761.15V1770.27M409.45,1748.73V1757.85M409.45,1761.15V1770.27M397.03,1757.85H406.15M409.45,1757.85H418.57M397.03,1761.15H406.15M409.45,1761.15H418.57" fill="none" stroke="#2a2525" stroke-width="1.3"/>
<text x="381" y="1765.5" font-size="15.5" text-anchor="middle" font-weight="bold" textLength="12.5" lengthAdjust="spacingAndGlyphs" fill="#231815" style="font-family:'Liberation Sans',sans-serif">12</text>
<line x1="532.2" y1="1748.3" x2="630.4" y2="1748.3" stroke="#2a2525" stroke-width="1.4"/>
<line x1="532.2" y1="1770.7" x2="630.4" y2="1770.7" stroke="#2a2525" stroke-width="1.4"/>
<line x1="550.2" y1="1748.3" x2="550.2" y2="1770.7" stroke="#2a2525" stroke-width="1.4"/>
<line x1="556.3" y1="1748.3" x2="556.3" y2="1770.7" stroke="#2a2525" stroke-width="1.4"/>
<line x1="579.7" y1="1748.3" x2="579.7" y2="1770.7" stroke="#2a2525" stroke-width="1.4"/>
<line x1="583.2" y1="1748.3" x2="583.2" y2="1770.7" stroke="#2a2525" stroke-width="1.4"/>
<line x1="607.1" y1="1748.3" x2="607.1" y2="1770.7" stroke="#2a2525" stroke-width="1.4"/>
<line x1="613.6" y1="1748.3" x2="613.6" y2="1770.7" stroke="#2a2525" stroke-width="1.4"/>
<circle cx="568.1" cy="1759.5" r="10.9" fill="none" stroke="#2a2525" stroke-width="1.3"/>
<path d="M566.45,1748.73V1757.85M566.45,1761.15V1770.27M569.75,1748.73V1757.85M569.75,1761.15V1770.27M557.33,1757.85H566.45M569.75,1757.85H578.87M557.33,1761.15H566.45M569.75,1761.15H578.87" fill="none" stroke="#2a2525" stroke-width="1.3"/>
<circle cx="595.1" cy="1759.5" r="10.9" fill="none" stroke="#2a2525" stroke-width="1.3"/>
<path d="M593.45,1748.73V1757.85M593.45,1761.15V1770.27M596.75,1748.73V1757.85M596.75,1761.15V1770.27M584.33,1757.85H593.45M596.75,1757.85H605.87M584.33,1761.15H593.45M596.75,1761.15H605.87" fill="none" stroke="#2a2525" stroke-width="1.3"/>
<text x="540.7" y="1761.1" font-size="11.8" text-anchor="middle" font-weight="bold" textLength="12.5" lengthAdjust="spacingAndGlyphs" fill="#231815" style="font-family:'Liberation Sans',sans-serif">36</text>
<text x="621.6" y="1764.4" font-size="11.8" text-anchor="middle" font-weight="bold" textLength="11.6" lengthAdjust="spacingAndGlyphs" fill="#231815" style="font-family:'Liberation Sans',sans-serif">24</text>
<text x="465.2" y="1464.3" font-size="14.5" textLength="61.5" lengthAdjust="spacingAndGlyphs" fill="#231815" style="font-family:'Liberation Sans',sans-serif">控制输出 +</text>
<text x="501.4" y="1485.5" font-size="11.5" textLength="25" lengthAdjust="spacingAndGlyphs" fill="#231815" style="font-family:'Liberation Sans',sans-serif">mA/V</text>
<line x1="520.5" y1="1502.2" x2="526.5" y2="1502.2" stroke="#231815" stroke-width="1.3"/>
<polyline points="327.3,1401.5 327.3,1738.8 401.7,1738.8" fill="none" stroke="#e60012" stroke-width="2"/>
<polyline points="314.2,1432.7 314.2,1766.1 402.6,1766.1" fill="none" stroke="#231815" stroke-width="2"/>
<text x="307.4" y="1781" font-size="14.5" fill="#231815" style="font-family:'Liberation Sans',sans-serif">仪表供电</text>
<circle cx="128.9" cy="1401.5" r="4.9" fill="#e60012"/>
<circle cx="327.3" cy="1401.5" r="4.9" fill="#e60012"/>
<circle cx="196.3" cy="1432.7" r="4.9" fill="#231815"/>
<circle cx="314.2" cy="1432.7" r="4.9" fill="#231815"/>
<polyline points="563,1469.1 491.5,1469.1 491.5,1797.3 793.2,1797.3 793.2,1903 783,1903" fill="none" stroke="#009a44" stroke-width="2"/>
<polyline points="563,1494.7 508.5,1494.7 508.5,1785.5 805.2,1785.5 805.2,1914.3 783,1914.3" fill="none" stroke="#009a44" stroke-width="2"/>
<polyline points="600.6,1711.7 670.1,1711.7 670.1,1515.2 784.4,1515.2 796.6,1533.9" fill="none" stroke="#e4007f" stroke-width="2"/>
<polyline points="600.6,1737.7 682.3,1737.7 682.3,1519.8 778.4,1519.8 785.5,1533.9" fill="none" stroke="#00a0e9" stroke-width="2"/>
<polyline points="600.6,1766 694.9,1766 694.9,1523.8 771.3,1523.8 775.2,1533.9" fill="none" stroke="#00a0e9" stroke-width="2"/>
<text x="654" y="1709" font-size="10" text-anchor="middle" textLength="6" lengthAdjust="spacingAndGlyphs" fill="#231815" style="font-family:'Liberation Sans',sans-serif">A</text>
<text x="654" y="1733" font-size="10" text-anchor="middle" textLength="6" lengthAdjust="spacingAndGlyphs" fill="#231815" style="font-family:'Liberation Sans',sans-serif">B</text>
<text x="654" y="1754.8" font-size="10" text-anchor="middle" textLength="6" lengthAdjust="spacingAndGlyphs" fill="#231815" style="font-family:'Liberation Sans',sans-serif">B</text>
<text x="700.3" y="1756.5" font-size="15" fill="#231815" style="font-family:'Liberation Sans',sans-serif">信号输入</text>
<text x="724.8" y="1461.5" font-size="15" textLength="88.5" lengthAdjust="spacingAndGlyphs" fill="#231815" style="font-family:'Liberation Sans',sans-serif">三线制 PT100</text>
<path d="M726.5,1494.8 C719,1492 716,1486 719.8,1481.5 C721,1480.3 723,1480.3 725,1480.3 L781,1480.3" fill="none" stroke="#3a3330" stroke-width="0.9" stroke-dasharray="1.2 1.8"/>
<circle cx="730.8" cy="1495.5" r="2.6" fill="none" stroke="#3a3330" stroke-width="0.9"/>
<line x1="732.5" y1="1497.3" x2="738.6" y2="1502.1" stroke="#3a3330" stroke-width="1"/>
<circle cx="782.9" cy="1480.3" r="2.6" fill="none" stroke="#3a3330" stroke-width="0.9"/>
<line x1="784.6" y1="1482" x2="791.4" y2="1487.6" stroke="#3a3330" stroke-width="1"/>
<path d="M738.6,1502.1 Q739,1497.3 744,1497.3 Q749.5,1497.3 749.5,1502.1 Z" fill="none" stroke="#3a3330" stroke-width="1"/>
<path d="M761.7,1502.1 L733.2,1502.1 L733.2,1531.2 L761.7,1531.2" fill="none" stroke="#3a3330" stroke-width="1"/>
<rect x="724.7" y="1506.4" width="8.5" height="24.8" rx="2" fill="none" stroke="#3a3330" stroke-width="1"/>
<line x1="724.7" y1="1512" x2="733.2" y2="1512" stroke="#3a3330" stroke-width="0.8"/>
<line x1="724.7" y1="1525.5" x2="733.2" y2="1525.5" stroke="#3a3330" stroke-width="0.8"/>
<path d="M761.7,1497.9 L761.7,1542.7 L816.2,1542.7 L816.2,1530 L824.1,1522" fill="none" stroke="#3a3330" stroke-width="1"/>
<g transform="translate(756.5,1486.3) rotate(33.9)"><rect x="0" y="-4.6" width="84.7" height="9.2" fill="#f7f7f7" stroke="#3a3330" stroke-width="1"/><path d="M6.0,-4.6 q5,1 4.5,4.6 q0.5,3.6 -4.5,4.6" fill="none" stroke="#3a3330" stroke-width="0.8"/><path d="M17.5,-4.6 q5,1 4.5,4.6 q0.5,3.6 -4.5,4.6" fill="none" stroke="#3a3330" stroke-width="0.8"/><path d="M29.0,-4.6 q5,1 4.5,4.6 q0.5,3.6 -4.5,4.6" fill="none" stroke="#3a3330" stroke-width="0.8"/><path d="M40.5,-4.6 q5,1 4.5,4.6 q0.5,3.6 -4.5,4.6" fill="none" stroke="#3a3330" stroke-width="0.8"/><path d="M52.0,-4.6 q5,1 4.5,4.6 q0.5,3.6 -4.5,4.6" fill="none" stroke="#3a3330" stroke-width="0.8"/><path d="M63.5,-4.6 q5,1 4.5,4.6 q0.5,3.6 -4.5,4.6" fill="none" stroke="#3a3330" stroke-width="0.8"/><path d="M75.0,-4.6 q5,1 4.5,4.6 q0.5,3.6 -4.5,4.6" fill="none" stroke="#3a3330" stroke-width="0.8"/><path d="M8,-4.6 Q40,-22 80,-4.6" fill="none" stroke="#3a3330" stroke-width="1"/><rect x="56" y="-13" width="11" height="5" fill="none" stroke="#3a3330" stroke-width="0.9"/><path d="M34,-11 q6,-7 12,0 z" fill="none" stroke="#3a3330" stroke-width="1"/></g>
<path d="M761.7,1542.7 L773.2,1554.8 L805.3,1554.8 L816.2,1542.7" fill="none" stroke="#3a3330" stroke-width="1"/>
<line x1="769" y1="1542.7" x2="775.5" y2="1554.8" stroke="#3a3330" stroke-width="0.8"/>
<line x1="809" y1="1542.7" x2="802.5" y2="1554.8" stroke="#3a3330" stroke-width="0.8"/>
<rect x="773.2" y="1554.8" width="32.1" height="17.6" fill="none" stroke="#3a3330" stroke-width="1"/>
<rect x="798" y="1557.3" width="6.7" height="12.7" fill="none" stroke="#3a3330" stroke-width="0.9"/>
<circle cx="800.9" cy="1563.3" r="1.2" fill="#3a3330"/>
<polyline points="775.2,1534.2 782.3,1542.7 782.3,1572" fill="none" stroke="#3a3330" stroke-width="0.9"/>
<polyline points="785.3,1534.2 787.1,1542.7 787.1,1572" fill="none" stroke="#3a3330" stroke-width="0.9"/>
<polyline points="796.8,1534.2 791.4,1542.7 791.4,1572" fill="none" stroke="#3a3330" stroke-width="0.9"/>
<circle cx="775.2" cy="1534.2" r="2" fill="#231815"/>
<circle cx="785.3" cy="1534.2" r="2" fill="#231815"/>
<circle cx="796.8" cy="1534.2" r="2" fill="#231815"/>
<line x1="779.2" y1="1572.4" x2="779.2" y2="1716.3" stroke="#3a3330" stroke-width="0.9"/>
<line x1="782.4" y1="1572.4" x2="782.4" y2="1716.3" stroke="#3a3330" stroke-width="0.9"/>
<line x1="786.8" y1="1572.4" x2="786.8" y2="1716.3" stroke="#3a3330" stroke-width="0.9"/>
<line x1="791.9" y1="1572.4" x2="791.9" y2="1716.3" stroke="#3a3330" stroke-width="0.9"/>
<line x1="796.3" y1="1572.4" x2="796.3" y2="1716.3" stroke="#3a3330" stroke-width="0.9"/>
<line x1="797.6" y1="1572.4" x2="797.6" y2="1716.3" stroke="#3a3330" stroke-width="0.9"/>
<path d="M779.2,1716.3 q4,-2 7,0 q3,2 6,0 q3,-2 5.6,0" fill="none" stroke="#3a3330" stroke-width="0.9"/>
<path d="M779.2,1720.1 q4,-2 7,0 q3,2 6,0 q3,-2 5.6,0" fill="none" stroke="#3a3330" stroke-width="0.9"/>
<path d="M779.2,1720.1 L779.2,1764 Q779.2,1772.7 788.4,1772.7 Q797.6,1772.7 797.6,1764 L797.6,1720.1" fill="none" stroke="#3a3330" stroke-width="0.9"/>
<line x1="782.4" y1="1720.1" x2="782.4" y2="1767" stroke="#3a3330" stroke-width="0.9"/>
<line x1="786.8" y1="1720.1" x2="786.8" y2="1767" stroke="#3a3330" stroke-width="0.9"/>
<line x1="782.4" y1="1767" x2="790" y2="1767" stroke="#3a3330" stroke-width="0.9"/>
<line x1="791.9" y1="1720.1" x2="791.9" y2="1752" stroke="#3a3330" stroke-width="0.9"/>
<polyline points="791.9,1752 789.5,1754 792.5,1756 789.5,1758 792.5,1760 790,1762 790,1767" fill="none" stroke="#3a3330" stroke-width="0.8"/>
<line x1="796.3" y1="1720.1" x2="796.3" y2="1768" stroke="#3a3330" stroke-width="0.9"/>
<path d="M836.2,1547.5 V1539.8 H844" fill="none" stroke="#8a8a8a" stroke-width="1.3"/>
<path d="M930,1539.8 H938 V1547.5" fill="none" stroke="#8a8a8a" stroke-width="1.3"/>
<path d="M836.2,1785 V1792.4 H844" fill="none" stroke="#8a8a8a" stroke-width="1.3"/>
<path d="M930,1792.4 H938 V1785" fill="none" stroke="#8a8a8a" stroke-width="1.3"/>
<line x1="861.5" y1="1539.8" x2="930" y2="1539.8" stroke="#8a8a8a" stroke-width="1.3" stroke-dasharray="16.4 18"/>
<line x1="861.5" y1="1792.4" x2="930" y2="1792.4" stroke="#8a8a8a" stroke-width="1.3" stroke-dasharray="16.4 18"/>
<line x1="836.2" y1="1564.2" x2="836.2" y2="1780" stroke="#8a8a8a" stroke-width="1.3" stroke-dasharray="15 16.7"/>
<line x1="938" y1="1564.2" x2="938" y2="1780" stroke="#8a8a8a" stroke-width="1.3" stroke-dasharray="15 16.7"/>
<text x="845" y="1561" font-size="12.5" fill="#231815" style="font-family:'Liberation Sans',sans-serif">工作电源</text>
<line x1="846.4" y1="1567.2" x2="884" y2="1567.2" stroke="#2a2525" stroke-width="1.1"/>
<line x1="846.4" y1="1585.8" x2="884" y2="1585.8" stroke="#2a2525" stroke-width="1.1"/>
<line x1="860.8" y1="1567.2" x2="860.8" y2="1585.8" stroke="#2a2525" stroke-width="1.1"/>
<line x1="864.9" y1="1567.2" x2="864.9" y2="1585.8" stroke="#2a2525" stroke-width="1.1"/>
<line x1="884" y1="1567.2" x2="884" y2="1585.8" stroke="#2a2525" stroke-width="1.1"/>
<circle cx="874.45" cy="1576.5" r="8.7" fill="none" stroke="#2a2525" stroke-width="1.1"/>
<path d="M873.06,1567.91V1575.11M873.06,1577.89V1585.09M875.84,1567.91V1575.11M875.84,1577.89V1585.09M865.86,1575.11H873.06M875.84,1575.11H883.04M865.86,1577.89H873.06M875.84,1577.89H883.04" fill="none" stroke="#2a2525" stroke-width="1.1"/>
<text x="853.6" y="1580.46" font-size="11" text-anchor="middle" font-weight="bold" fill="#231815" style="font-family:'Liberation Sans',sans-serif">11</text>
<line x1="846.4" y1="1589" x2="884" y2="1589" stroke="#2a2525" stroke-width="1.1"/>
<line x1="846.4" y1="1607.6" x2="884" y2="1607.6" stroke="#2a2525" stroke-width="1.1"/>
<line x1="860.8" y1="1589" x2="860.8" y2="1607.6" stroke="#2a2525" stroke-width="1.1"/>
<line x1="864.9" y1="1589" x2="864.9" y2="1607.6" stroke="#2a2525" stroke-width="1.1"/>
<line x1="884" y1="1589" x2="884" y2="1607.6" stroke="#2a2525" stroke-width="1.1"/>
<circle cx="874.45" cy="1598.3" r="8.7" fill="none" stroke="#2a2525" stroke-width="1.1"/>
<path d="M873.06,1589.71V1596.91M873.06,1599.69V1606.89M875.84,1589.71V1596.91M875.84,1599.69V1606.89M865.86,1596.91H873.06M875.84,1596.91H883.04M865.86,1599.69H873.06M875.84,1599.69H883.04" fill="none" stroke="#2a2525" stroke-width="1.1"/>
<text x="853.6" y="1602.26" font-size="11" text-anchor="middle" font-weight="bold" fill="#231815" style="font-family:'Liberation Sans',sans-serif">12</text>
<line x1="884" y1="1577.6" x2="904" y2="1577.6" stroke="#231815" stroke-width="1.1"/>
<circle cx="905.9" cy="1577.6" r="1.9" fill="#fff" stroke="#231815" stroke-width="1"/>
<line x1="884" y1="1599" x2="904" y2="1599" stroke="#231815" stroke-width="1.1"/>
<circle cx="905.9" cy="1599" r="1.9" fill="#fff" stroke="#231815" stroke-width="1"/>
<text x="895.3" y="1575" font-size="11" text-anchor="middle" textLength="5.5" lengthAdjust="spacingAndGlyphs" fill="#231815" style="font-family:'Liberation Sans',sans-serif">L</text>
<text x="892.9" y="1593.3" font-size="11.5" textLength="36" lengthAdjust="spacingAndGlyphs" fill="#231815" style="font-family:'Liberation Sans',sans-serif">AC220V</text>
<text x="895.3" y="1611.3" font-size="11" text-anchor="middle" textLength="6" lengthAdjust="spacingAndGlyphs" fill="#231815" style="font-family:'Liberation Sans',sans-serif">N</text>
<text x="845" y="1636.5" font-size="12.5" textLength="71.5" lengthAdjust="spacingAndGlyphs" fill="#231815" style="font-family:'Liberation Sans',sans-serif">控制输出 OUT</text>
<line x1="846.4" y1="1644.1" x2="882.6" y2="1644.1" stroke="#2a2525" stroke-width="1.1"/>
<line x1="846.4" y1="1661.5" x2="882.6" y2="1661.5" stroke="#2a2525" stroke-width="1.1"/>
<line x1="860.8" y1="1644.1" x2="860.8" y2="1661.5" stroke="#2a2525" stroke-width="1.1"/>
<line x1="864.9" y1="1644.1" x2="864.9" y2="1661.5" stroke="#2a2525" stroke-width="1.1"/>
<line x1="882.6" y1="1644.1" x2="882.6" y2="1661.5" stroke="#2a2525" stroke-width="1.1"/>
<circle cx="873.75" cy="1652.8" r="8.1" fill="none" stroke="#2a2525" stroke-width="1.1"/>
<path d="M872.45,1644.8V1651.5M872.45,1654.1V1660.8M875.05,1644.8V1651.5M875.05,1654.1V1660.8M865.75,1651.5H872.45M875.05,1651.5H881.75M865.75,1654.1H872.45M875.05,1654.1H881.75" fill="none" stroke="#2a2525" stroke-width="1.1"/>
<text x="853.6" y="1656.76" font-size="11" text-anchor="middle" font-weight="bold" fill="#231815" style="font-family:'Liberation Sans',sans-serif">25</text>
<line x1="846.4" y1="1665" x2="882.6" y2="1665" stroke="#2a2525" stroke-width="1.1"/>
<line x1="846.4" y1="1682.4" x2="882.6" y2="1682.4" stroke="#2a2525" stroke-width="1.1"/>
<line x1="860.8" y1="1665" x2="860.8" y2="1682.4" stroke="#2a2525" stroke-width="1.1"/>
<line x1="864.9" y1="1665" x2="864.9" y2="1682.4" stroke="#2a2525" stroke-width="1.1"/>
<line x1="882.6" y1="1665" x2="882.6" y2="1682.4" stroke="#2a2525" stroke-width="1.1"/>
<circle cx="873.75" cy="1673.7" r="8.1" fill="none" stroke="#2a2525" stroke-width="1.1"/>
<path d="M872.45,1665.7V1672.4M872.45,1675V1681.7M875.05,1665.7V1672.4M875.05,1675V1681.7M865.75,1672.4H872.45M875.05,1672.4H881.75M865.75,1675H872.45M875.05,1675H881.75" fill="none" stroke="#2a2525" stroke-width="1.1"/>
<text x="853.6" y="1677.66" font-size="11" text-anchor="middle" font-weight="bold" fill="#231815" style="font-family:'Liberation Sans',sans-serif">26</text>
<line x1="882.6" y1="1654.1" x2="897.6" y2="1654.1" stroke="#231815" stroke-width="1.1"/>
<circle cx="897.6" cy="1654.1" r="1.4" fill="#231815"/>
<line x1="882.6" y1="1675.5" x2="897.6" y2="1675.5" stroke="#231815" stroke-width="1.1"/>
<circle cx="897.6" cy="1675.5" r="1.4" fill="#231815"/>
<text x="891.5" y="1651.5" font-size="9" text-anchor="middle" fill="#231815" style="font-family:'Liberation Sans',sans-serif">+</text>
<line x1="889" y1="1681.7" x2="894" y2="1681.7" stroke="#231815" stroke-width="1"/>
<text x="900.4" y="1668.6" font-size="11" textLength="24" lengthAdjust="spacingAndGlyphs" fill="#231815" style="font-family:'Liberation Sans',sans-serif">mA/V</text>
<text x="847.8" y="1711" font-size="12.5" fill="#231815" style="font-family:'Liberation Sans',sans-serif">热电阻输入</text>
<line x1="848.5" y1="1717.9" x2="887.4" y2="1717.9" stroke="#2a2525" stroke-width="1.1"/>
<line x1="848.5" y1="1737.1" x2="887.4" y2="1737.1" stroke="#2a2525" stroke-width="1.1"/>
<line x1="863.5" y1="1717.9" x2="863.5" y2="1737.1" stroke="#2a2525" stroke-width="1.1"/>
<line x1="868.3" y1="1717.9" x2="868.3" y2="1737.1" stroke="#2a2525" stroke-width="1.1"/>
<line x1="887.4" y1="1717.9" x2="887.4" y2="1737.1" stroke="#2a2525" stroke-width="1.1"/>
<circle cx="877.85" cy="1727.5" r="8.95" fill="none" stroke="#2a2525" stroke-width="1.1"/>
<path d="M876.42,1718.67V1726.07M876.42,1728.93V1736.33M879.28,1718.67V1726.07M879.28,1728.93V1736.33M869.02,1726.07H876.42M879.28,1726.07H886.68M869.02,1728.93H876.42M879.28,1728.93H886.68" fill="none" stroke="#2a2525" stroke-width="1.1"/>
<text x="856" y="1731.46" font-size="11" text-anchor="middle" font-weight="bold" fill="#231815" style="font-family:'Liberation Sans',sans-serif">22</text>
<line x1="848.5" y1="1740.5" x2="887.4" y2="1740.5" stroke="#2a2525" stroke-width="1.1"/>
<line x1="848.5" y1="1759.7" x2="887.4" y2="1759.7" stroke="#2a2525" stroke-width="1.1"/>
<line x1="863.5" y1="1740.5" x2="863.5" y2="1759.7" stroke="#2a2525" stroke-width="1.1"/>
<line x1="868.3" y1="1740.5" x2="868.3" y2="1759.7" stroke="#2a2525" stroke-width="1.1"/>
<line x1="887.4" y1="1740.5" x2="887.4" y2="1759.7" stroke="#2a2525" stroke-width="1.1"/>
<circle cx="877.85" cy="1750.1" r="8.95" fill="none" stroke="#2a2525" stroke-width="1.1"/>
<path d="M876.42,1741.27V1748.67M876.42,1751.53V1758.93M879.28,1741.27V1748.67M879.28,1751.53V1758.93M869.02,1748.67H876.42M879.28,1748.67H886.68M869.02,1751.53H876.42M879.28,1751.53H886.68" fill="none" stroke="#2a2525" stroke-width="1.1"/>
<text x="856" y="1754.06" font-size="11" text-anchor="middle" font-weight="bold" fill="#231815" style="font-family:'Liberation Sans',sans-serif">23</text>
<line x1="848.5" y1="1763" x2="887.4" y2="1763" stroke="#2a2525" stroke-width="1.1"/>
<line x1="848.5" y1="1782.2" x2="887.4" y2="1782.2" stroke="#2a2525" stroke-width="1.1"/>
<line x1="863.5" y1="1763" x2="863.5" y2="1782.2" stroke="#2a2525" stroke-width="1.1"/>
<line x1="868.3" y1="1763" x2="868.3" y2="1782.2" stroke="#2a2525" stroke-width="1.1"/>
<line x1="887.4" y1="1763" x2="887.4" y2="1782.2" stroke="#2a2525" stroke-width="1.1"/>
<circle cx="877.85" cy="1772.6" r="8.95" fill="none" stroke="#2a2525" stroke-width="1.1"/>
<path d="M876.42,1763.77V1771.17M876.42,1774.03V1781.43M879.28,1763.77V1771.17M879.28,1774.03V1781.43M869.02,1771.17H876.42M879.28,1771.17H886.68M869.02,1774.03H876.42M879.28,1774.03H886.68" fill="none" stroke="#2a2525" stroke-width="1.1"/>
<text x="856" y="1776.56" font-size="11" text-anchor="middle" font-weight="bold" fill="#231815" style="font-family:'Liberation Sans',sans-serif">24</text>
<polyline points="887.4,1727.5 900,1727.5 900,1730.9" fill="none" stroke="#231815" stroke-width="1.2"/>
<rect x="897.4" y="1730.9" width="4.8" height="16.4" fill="none" stroke="#231815" stroke-width="1.2"/>
<polyline points="900,1747.3 900,1772.6 887.4,1772.6" fill="none" stroke="#231815" stroke-width="1.2"/>
<polyline points="887.4,1749.4 893.1,1749.4 893.1,1761 900,1761" fill="none" stroke="#231815" stroke-width="1.2"/>
<text x="904.5" y="1751.5" font-size="11.5" textLength="16.5" lengthAdjust="spacingAndGlyphs" fill="#231815" style="font-family:'Liberation Sans',sans-serif">RTD</text>
<rect x="521.4" y="1807.5" width="232.6" height="156.3" fill="none" stroke="#3a3330" stroke-width="1.2"/>
<rect x="509.1" y="1817.8" width="12.1" height="136.5" fill="none" stroke="#3a3330" stroke-width="1"/>
<rect x="754" y="1817.8" width="11.6" height="136.5" fill="none" stroke="#3a3330" stroke-width="1"/>
<text x="0" y="0" font-size="9.5" fill="#231815" text-anchor="middle" style="font-family:'Liberation Sans',sans-serif" transform="translate(515.2,1823.49) rotate(90)" dy="3.3">24</text>
<text x="0" y="0" font-size="9.5" fill="#231815" text-anchor="middle" style="font-family:'Liberation Sans',sans-serif" transform="translate(759.8,1823.49) rotate(90)" dy="3.3">12</text>
<line x1="509.1" y1="1829.17" x2="521.2" y2="1829.17" stroke="#3a3330" stroke-width="0.9"/>
<line x1="754" y1="1829.17" x2="765.6" y2="1829.17" stroke="#3a3330" stroke-width="0.9"/>
<text x="0" y="0" font-size="9.5" fill="#231815" text-anchor="middle" style="font-family:'Liberation Sans',sans-serif" transform="translate(515.2,1834.86) rotate(90)" dy="3.3">23</text>
<text x="0" y="0" font-size="9.5" fill="#231815" text-anchor="middle" style="font-family:'Liberation Sans',sans-serif" transform="translate(759.8,1834.86) rotate(90)" dy="3.3">11</text>
<line x1="509.1" y1="1840.55" x2="521.2" y2="1840.55" stroke="#3a3330" stroke-width="0.9"/>
<line x1="754" y1="1840.55" x2="765.6" y2="1840.55" stroke="#3a3330" stroke-width="0.9"/>
<text x="0" y="0" font-size="9.5" fill="#231815" text-anchor="middle" style="font-family:'Liberation Sans',sans-serif" transform="translate(515.2,1846.24) rotate(90)" dy="3.3">22</text>
<text x="0" y="0" font-size="9.5" fill="#231815" text-anchor="middle" style="font-family:'Liberation Sans',sans-serif" transform="translate(759.8,1846.24) rotate(90)" dy="3.3">10</text>
<line x1="509.1" y1="1851.92" x2="521.2" y2="1851.92" stroke="#3a3330" stroke-width="0.9"/>
<line x1="754" y1="1851.92" x2="765.6" y2="1851.92" stroke="#3a3330" stroke-width="0.9"/>
<text x="0" y="0" font-size="9.5" fill="#231815" text-anchor="middle" style="font-family:'Liberation Sans',sans-serif" transform="translate(515.2,1857.61) rotate(90)" dy="3.3">21</text>
<text x="0" y="0" font-size="9.5" fill="#231815" text-anchor="middle" style="font-family:'Liberation Sans',sans-serif" transform="translate(759.8,1857.61) rotate(90)" dy="3.3">9</text>
<line x1="509.1" y1="1863.3" x2="521.2" y2="1863.3" stroke="#3a3330" stroke-width="0.9"/>
<line x1="754" y1="1863.3" x2="765.6" y2="1863.3" stroke="#3a3330" stroke-width="0.9"/>
<text x="0" y="0" font-size="9.5" fill="#231815" text-anchor="middle" style="font-family:'Liberation Sans',sans-serif" transform="translate(515.2,1868.99) rotate(90)" dy="3.3">20</text>
<text x="0" y="0" font-size="9.5" fill="#231815" text-anchor="middle" style="font-family:'Liberation Sans',sans-serif" transform="translate(759.8,1868.99) rotate(90)" dy="3.3">8</text>
<line x1="509.1" y1="1874.67" x2="521.2" y2="1874.67" stroke="#3a3330" stroke-width="0.9"/>
<line x1="754" y1="1874.67" x2="765.6" y2="1874.67" stroke="#3a3330" stroke-width="0.9"/>
<text x="0" y="0" font-size="9.5" fill="#231815" text-anchor="middle" style="font-family:'Liberation Sans',sans-serif" transform="translate(515.2,1880.36) rotate(90)" dy="3.3">19</text>
<text x="0" y="0" font-size="9.5" fill="#231815" text-anchor="middle" style="font-family:'Liberation Sans',sans-serif" transform="translate(759.8,1880.36) rotate(90)" dy="3.3">7</text>
<line x1="509.1" y1="1886.05" x2="521.2" y2="1886.05" stroke="#3a3330" stroke-width="0.9"/>
<line x1="754" y1="1886.05" x2="765.6" y2="1886.05" stroke="#3a3330" stroke-width="0.9"/>
<text x="0" y="0" font-size="9.5" fill="#231815" text-anchor="middle" style="font-family:'Liberation Sans',sans-serif" transform="translate(515.2,1891.74) rotate(90)" dy="3.3">18</text>
<text x="0" y="0" font-size="9.5" fill="#231815" text-anchor="middle" style="font-family:'Liberation Sans',sans-serif" transform="translate(759.8,1891.74) rotate(90)" dy="3.3">6</text>
<line x1="509.1" y1="1897.42" x2="521.2" y2="1897.42" stroke="#3a3330" stroke-width="0.9"/>
<line x1="754" y1="1897.42" x2="765.6" y2="1897.42" stroke="#3a3330" stroke-width="0.9"/>
<text x="0" y="0" font-size="9.5" fill="#231815" text-anchor="middle" style="font-family:'Liberation Sans',sans-serif" transform="translate(515.2,1903.11) rotate(90)" dy="3.3">17</text>
<text x="0" y="0" font-size="9.5" fill="#231815" text-anchor="middle" style="font-family:'Liberation Sans',sans-serif" transform="translate(759.8,1903.11) rotate(90)" dy="3.3">5</text>
<line x1="509.1" y1="1908.8" x2="521.2" y2="1908.8" stroke="#3a3330" stroke-width="0.9"/>
<line x1="754" y1="1908.8" x2="765.6" y2="1908.8" stroke="#3a3330" stroke-width="0.9"/>
<text x="0" y="0" font-size="9.5" fill="#231815" text-anchor="middle" style="font-family:'Liberation Sans',sans-serif" transform="translate(515.2,1914.49) rotate(90)" dy="3.3">16</text>
<text x="0" y="0" font-size="9.5" fill="#231815" text-anchor="middle" style="font-family:'Liberation Sans',sans-serif" transform="translate(759.8,1914.49) rotate(90)" dy="3.3">4</text>
<line x1="509.1" y1="1920.17" x2="521.2" y2="1920.17" stroke="#3a3330" stroke-width="0.9"/>
<line x1="754" y1="1920.17" x2="765.6" y2="1920.17" stroke="#3a3330" stroke-width="0.9"/>
<text x="0" y="0" font-size="9.5" fill="#231815" text-anchor="middle" style="font-family:'Liberation Sans',sans-serif" transform="translate(515.2,1925.86) rotate(90)" dy="3.3">15</text>
<text x="0" y="0" font-size="9.5" fill="#231815" text-anchor="middle" style="font-family:'Liberation Sans',sans-serif" transform="translate(759.8,1925.86) rotate(90)" dy="3.3">3</text>
<line x1="509.1" y1="1931.55" x2="521.2" y2="1931.55" stroke="#3a3330" stroke-width="0.9"/>
<line x1="754" y1="1931.55" x2="765.6" y2="1931.55" stroke="#3a3330" stroke-width="0.9"/>
<text x="0" y="0" font-size="9.5" fill="#231815" text-anchor="middle" style="font-family:'Liberation Sans',sans-serif" transform="translate(515.2,1937.24) rotate(90)" dy="3.3">14</text>
<text x="0" y="0" font-size="9.5" fill="#231815" text-anchor="middle" style="font-family:'Liberation Sans',sans-serif" transform="translate(759.8,1937.24) rotate(90)" dy="3.3">2</text>
<line x1="509.1" y1="1942.92" x2="521.2" y2="1942.92" stroke="#3a3330" stroke-width="0.9"/>
<line x1="754" y1="1942.92" x2="765.6" y2="1942.92" stroke="#3a3330" stroke-width="0.9"/>
<text x="0" y="0" font-size="9.5" fill="#231815" text-anchor="middle" style="font-family:'Liberation Sans',sans-serif" transform="translate(515.2,1948.61) rotate(90)" dy="3.3">13</text>
<text x="0" y="0" font-size="9.5" fill="#231815" text-anchor="middle" style="font-family:'Liberation Sans',sans-serif" transform="translate(759.8,1948.61) rotate(90)" dy="3.3">1</text>
<path d="M525.2,1822.4 H554.2 Q550,1885.7 554.2,1949 H525.2 Z" fill="none" stroke="#3a3330" stroke-width="1"/>
<path d="M750.4,1822.4 H723.2 Q727.5,1885.7 723.2,1949 H750.4 Z" fill="none" stroke="#3a3330" stroke-width="1"/>
<circle cx="637.6" cy="1885.1" r="67.5" fill="none" stroke="#3a3330" stroke-width="1.2"/>
<path d="M661.8,1828.6 A61.5,61.5 0 0 1 661.8,1943.8 H649.7 A12.2,12.2 0 1 0 625.4,1943.8 H613.3 A61.5,61.5 0 0 1 613.3,1828.6 H625.4 A12.2,12.2 0 1 0 649.7,1828.6 Z" fill="none" stroke="#3a3330" stroke-width="1.1"/>
<circle cx="637.6" cy="1832.6" r="7.3" fill="none" stroke="#3a3330" stroke-width="1.1"/>
<circle cx="637.6" cy="1832.6" r="3.3" fill="none" stroke="#3a3330" stroke-width="1.1"/>
<circle cx="637.6" cy="1939.3" r="7.3" fill="none" stroke="#3a3330" stroke-width="1.1"/>
<circle cx="637.6" cy="1939.3" r="3.3" fill="none" stroke="#3a3330" stroke-width="1.1"/>
<circle cx="652.4" cy="1853.9" r="2.9" fill="none" stroke="#3a3330" stroke-width="1"/>
<circle cx="652.4" cy="1872.2" r="2.9" fill="none" stroke="#3a3330" stroke-width="1"/>
<text x="0" y="0" font-size="8" fill="#231815" text-anchor="middle" font-weight="bold" style="font-family:'Liberation Sans',sans-serif" transform="translate(641.5,1853.5) rotate(90)" dy="2.8">运行</text>
<text x="0" y="0" font-size="8" fill="#231815" text-anchor="middle" font-weight="bold" style="font-family:'Liberation Sans',sans-serif" transform="translate(641.5,1872.5) rotate(90)" dy="2.8">报警</text>
<circle cx="680.4" cy="1888.4" r="7.6" fill="none" stroke="#e60012" stroke-width="1.3"/>
<circle cx="680.4" cy="1888.4" r="5.2" fill="none" stroke="#e60012" stroke-width="0.8"/>
<text x="0" y="0" font-size="6.5" fill="#e60012" text-anchor="middle" style="font-family:'Liberation Sans',sans-serif" transform="translate(680.4,1888.4)" dy="2.3">HR</text>
<text x="0" y="0" font-size="8" fill="#231815" text-anchor="middle" font-weight="bold" style="font-family:'Liberation Sans',sans-serif" transform="translate(667,1888) rotate(90)" dy="2.8">虹润</text>
<line x1="765.6" y1="1903" x2="779.4" y2="1903" stroke="#555" stroke-width="1"/>
<circle cx="781.2" cy="1903" r="1.9" fill="#fff" stroke="#231815" stroke-width="1"/>
<line x1="765.6" y1="1914.3" x2="779.4" y2="1914.3" stroke="#555" stroke-width="1"/>
<circle cx="781.2" cy="1914.3" r="1.9" fill="#fff" stroke="#231815" stroke-width="1"/>
<line x1="765.6" y1="1936.2" x2="779.4" y2="1936.2" stroke="#555" stroke-width="1"/>
<circle cx="781.2" cy="1936.2" r="1.9" fill="#fff" stroke="#231815" stroke-width="1"/>
<line x1="765.6" y1="1947.9" x2="779.4" y2="1947.9" stroke="#555" stroke-width="1"/>
<circle cx="781.2" cy="1947.9" r="1.9" fill="#fff" stroke="#231815" stroke-width="1"/>
<text x="769.1" y="1898.8" font-size="10" textLength="18.5" lengthAdjust="spacingAndGlyphs" fill="#231815" style="font-family:'Liberation Sans',sans-serif">IN1+</text>
<text x="769.1" y="1926" font-size="10" textLength="15.5" lengthAdjust="spacingAndGlyphs" fill="#231815" style="font-family:'Liberation Sans',sans-serif">GND</text>
<text x="773.4" y="1934.8" font-size="10" text-anchor="middle" textLength="5" lengthAdjust="spacingAndGlyphs" fill="#231815" style="font-family:'Liberation Sans',sans-serif">L</text>
<text x="784.2" y="1947.3" font-size="10.5" textLength="28.3" lengthAdjust="spacingAndGlyphs" fill="#231815" style="font-family:'Liberation Sans',sans-serif">AC220V</text>
<text x="773.4" y="1959" font-size="10" text-anchor="middle" textLength="5.5" lengthAdjust="spacingAndGlyphs" fill="#231815" style="font-family:'Liberation Sans',sans-serif">N</text>
</svg>
</body></html>
